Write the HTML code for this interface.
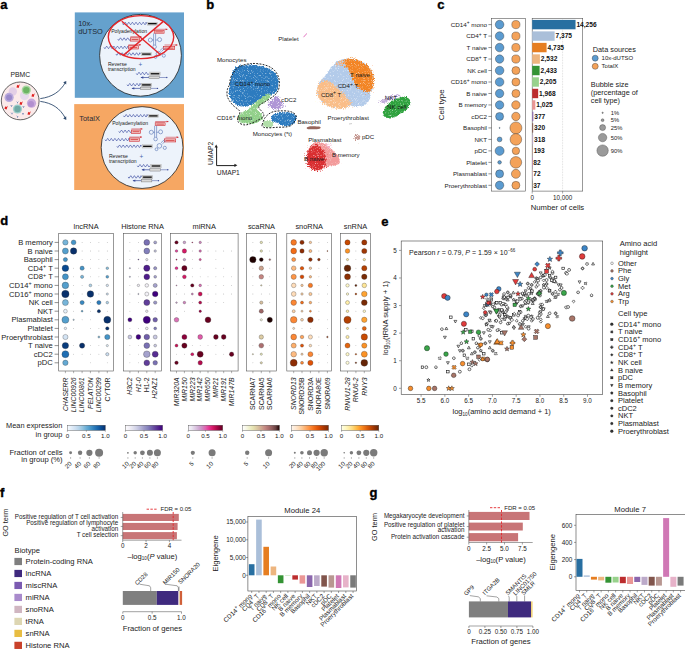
<!DOCTYPE html>
<html><head><meta charset="utf-8"><style>
html,body{margin:0;padding:0;background:#fff;}
svg{display:block;font-family:"Liberation Sans", sans-serif;}
</style></head><body>
<svg width="685" height="650" viewBox="0 0 685 650">
<defs>
<filter id="sp" x="-20%" y="-20%" width="140%" height="140%" color-interpolation-filters="sRGB">
  <feGaussianBlur in="SourceGraphic" stdDeviation="1.3" result="b"/>
  <feComponentTransfer in="b" result="solid"><feFuncA type="linear" slope="40" intercept="0"/></feComponentTransfer>
  <feTurbulence type="fractalNoise" baseFrequency="1.1" numOctaves="2" seed="4" result="n"/>
  <feColorMatrix in="n" type="matrix" values="0 0 0 0 0  0 0 0 0 0  0 0 0 0 0  1 0 0 0 0" result="na"/>
  <feComposite in="b" in2="na" operator="arithmetic" k1="0" k2="1" k3="-0.9" k4="0.35" result="c"/>
  <feComponentTransfer in="c" result="m"><feFuncA type="linear" slope="5" intercept="-0.6"/></feComponentTransfer>
  <feComposite in="solid" in2="m" operator="in" result="blob"/>
  <feTurbulence type="fractalNoise" baseFrequency="1.6" numOctaves="1" seed="11" result="n2"/>
  <feColorMatrix in="n2" type="matrix" values="0 0 0 0 1  0 0 0 0 1  0 0 0 0 1  2.6 0 0 0 -1.45" result="w"/>
  <feComposite in="w" in2="blob" operator="in" result="wi"/>
  <feMerge><feMergeNode in="blob"/><feMergeNode in="wi"/></feMerge>
</filter>
<filter id="spw" x="-20%" y="-20%" width="140%" height="140%" color-interpolation-filters="sRGB">
  <feGaussianBlur in="SourceGraphic" stdDeviation="2.4" result="b"/>
  <feComponentTransfer in="b" result="solid"><feFuncA type="linear" slope="40" intercept="0"/></feComponentTransfer>
  <feTurbulence type="fractalNoise" baseFrequency="1.1" numOctaves="2" seed="5" result="n"/>
  <feColorMatrix in="n" type="matrix" values="0 0 0 0 0  0 0 0 0 0  0 0 0 0 0  1 0 0 0 0" result="na"/>
  <feComposite in="b" in2="na" operator="arithmetic" k1="0" k2="1" k3="-0.9" k4="0.35" result="c"/>
  <feComponentTransfer in="c" result="m"><feFuncA type="linear" slope="5" intercept="-0.6"/></feComponentTransfer>
  <feComposite in="solid" in2="m" operator="in" result="blob"/>
  <feTurbulence type="fractalNoise" baseFrequency="1.6" numOctaves="1" seed="12" result="n2"/>
  <feColorMatrix in="n2" type="matrix" values="0 0 0 0 1  0 0 0 0 1  0 0 0 0 1  2.6 0 0 0 -1.45" result="w"/>
  <feComposite in="w" in2="blob" operator="in" result="wi"/>
  <feMerge><feMergeNode in="blob"/><feMergeNode in="wi"/></feMerge>
</filter>
<filter id="bl" x="-40%" y="-40%" width="180%" height="180%"><feGaussianBlur stdDeviation="0.35"/></filter>
<filter id="sp3" x="-40%" y="-40%" width="180%" height="180%" color-interpolation-filters="sRGB">
  <feGaussianBlur in="SourceGraphic" stdDeviation="1.4" result="b"/>
  <feComponentTransfer in="b" result="solid"><feFuncA type="linear" slope="40" intercept="0"/></feComponentTransfer>
  <feTurbulence type="fractalNoise" baseFrequency="1.4" numOctaves="2" seed="9" result="n"/>
  <feColorMatrix in="n" type="matrix" values="0 0 0 0 0  0 0 0 0 0  0 0 0 0 0  1 0 0 0 0" result="na"/>
  <feComposite in="b" in2="na" operator="arithmetic" k1="0" k2="1" k3="-2.0" k4="0.55" result="c"/>
  <feComponentTransfer in="c" result="m"><feFuncA type="linear" slope="3" intercept="-0.1"/></feComponentTransfer>
  <feComposite in="solid" in2="m" operator="in"/>
</filter>
<filter id="sp2" x="-40%" y="-40%" width="180%" height="180%" color-interpolation-filters="sRGB">
  <feGaussianBlur in="SourceGraphic" stdDeviation="1.0" result="b"/>
  <feComponentTransfer in="b" result="solid"><feFuncA type="linear" slope="40" intercept="0"/></feComponentTransfer>
  <feTurbulence type="fractalNoise" baseFrequency="1.3" numOctaves="2" seed="7" result="n"/>
  <feColorMatrix in="n" type="matrix" values="0 0 0 0 0  0 0 0 0 0  0 0 0 0 0  1 0 0 0 0" result="na"/>
  <feComposite in="b" in2="na" operator="arithmetic" k1="0" k2="1" k3="-1.1" k4="0.45" result="c"/>
  <feComponentTransfer in="c" result="m"><feFuncA type="linear" slope="4" intercept="-0.6"/></feComponentTransfer>
  <feComposite in="solid" in2="m" operator="in"/>
</filter>
</defs>
<rect width="685" height="650" fill="#fff"/>
<text x="0.30" y="9.20" font-size="13" text-anchor="start" fill="#000" font-weight="bold" stroke="#000" stroke-width="0.35">a</text>
<text x="20.30" y="76.70" font-size="6.8" text-anchor="middle" fill="#222">PBMC</text>
<circle cx="20.20" cy="100.90" r="18.90" fill="#fbeaea" stroke="#333" stroke-width="0.75"/>
<circle cx="12.80" cy="91.50" r="4.20" fill="#e3cfe6" stroke="none" stroke-width="0.4"/>
<circle cx="24.50" cy="95.60" r="4.60" fill="#e6d9ec" stroke="none" stroke-width="0.4"/>
<circle cx="9.10" cy="97.40" r="4.60" fill="#b9a9dc" stroke="none" stroke-width="0.4"/>
<circle cx="9.10" cy="97.40" r="3.00" fill="#9a8acb" stroke="none" stroke-width="0.4"/>
<circle cx="26.30" cy="90.10" r="4.60" fill="#a6d5a0" stroke="none" stroke-width="0.4"/>
<circle cx="26.30" cy="90.10" r="3.20" fill="#6cb463" stroke="none" stroke-width="0.4"/>
<circle cx="31.50" cy="103.20" r="4.60" fill="#c8a9dc" stroke="none" stroke-width="0.4"/>
<circle cx="31.00" cy="104.00" r="3.00" fill="#b28fcf" stroke="none" stroke-width="0.4"/>
<circle cx="17.50" cy="109.00" r="4.60" fill="#9fcfcb" stroke="none" stroke-width="0.4"/>
<circle cx="17.50" cy="109.00" r="3.20" fill="#6fa9a5" stroke="none" stroke-width="0.4"/>
<path d="M16.2,87.3 L19.8,84.3 L18.6,87.9 Z M17.4,84.8 L18.9,86.2 L16.6,86.4 Z" fill="#e0201f"/>
<path d="M31.2,96.3 L34.8,93.3 L33.6,96.9 Z M32.4,93.8 L33.9,95.2 L31.6,95.4 Z" fill="#e0201f"/>
<path d="M19.2,104.3 L22.8,101.3 L21.6,104.9 Z M20.4,101.8 L21.9,103.2 L19.6,103.4 Z" fill="#e0201f"/>
<path d="M4.2,108.8 L7.8,105.8 L6.6,109.4 Z M5.4,106.3 L6.9,107.7 L4.6,107.9 Z" fill="#e0201f"/>
<path d="M27.2,114.3 L30.8,111.3 L29.6,114.9 Z M28.4,111.8 L29.9,113.2 L27.6,113.4 Z" fill="#e0201f"/>
<path d="M10.7,105.2 L11.5,106 L12.3,105.2 M11.5,106 L11.5,106.8" stroke="#3f62a0" stroke-width="0.65" fill="none"/>
<path d="M22.7,106.2 L23.5,107 L24.3,106.2 M23.5,107 L23.5,107.8" stroke="#3f62a0" stroke-width="0.65" fill="none"/>
<path d="M11.2,112.7 L12,113.5 L12.8,112.7 M12,113.5 L12,114.3" stroke="#3f62a0" stroke-width="0.65" fill="none"/>
<path d="M22.2,113.2 L23,114 L23.8,113.2 M23,114 L23,114.8" stroke="#3f62a0" stroke-width="0.65" fill="none"/>
<path d="M16.7,116.0 L17.5,116.8 L18.3,116.0 M17.5,116.8 L17.5,117.6" stroke="#3f62a0" stroke-width="0.65" fill="none"/>
<path d="M16.7,101.7 L17.5,102.5 L18.3,101.7 M17.5,102.5 L17.5,103.3" stroke="#3f62a0" stroke-width="0.65" fill="none"/>
<path d="M40.3,98.6 C52,97 60,92 65.5,82.4" stroke="#2f4b6e" stroke-width="0.9" fill="none"/>
<path d="M40.3,101.4 C52,103 60,108 65.5,118.4" stroke="#2f4b6e" stroke-width="0.9" fill="none"/>
<path d="M63.2,82.2 L66.3,80.9 L66.2,84.6 Z" fill="#2f4b6e"/>
<path d="M63.2,118.6 L66.3,119.9 L66.2,116.2 Z" fill="#2f4b6e"/>
<rect x="74.80" y="12.40" width="109.20" height="85.40" fill="#65a1cd" stroke="none" stroke-width="0.6"/>
<rect x="74.20" y="104.10" width="109.80" height="85.90" fill="#f6a763" stroke="none" stroke-width="0.6"/>
<text x="78.20" y="25.50" font-size="7.4" text-anchor="start" fill="#1f2a36">10x-</text>
<text x="78.20" y="34.20" font-size="7.4" text-anchor="start" fill="#1f2a36">dUTSO</text>
<text x="79.30" y="120.60" font-size="7.4" text-anchor="start" fill="#1f2a36">TotalX</text>
<circle cx="140.50" cy="55.30" r="40.90" fill="#edf3fb" stroke="#222" stroke-width="0.8"/>
<g transform="translate(0.00,0.00)">
<path d="M122.50,23.50 Q123.40,26.06 124.30,23.50 Q125.20,20.94 126.10,23.50 Q127.00,26.06 127.90,23.50 Q128.80,20.94 129.70,23.50 Q130.60,26.06 131.50,23.50 Q132.40,20.94 133.30,23.50 Q134.20,26.06 135.10,23.50 Q136.00,20.94 136.90,23.50 Q137.80,26.06 138.70,23.50 Q139.60,20.94 140.50,23.50 Q141.40,26.06 142.30,23.50 Q143.20,20.94 144.10,23.50 Q145.00,26.06 145.90,23.50 Q146.10,20.94 146.30,23.50" stroke="#4a5aa8" stroke-width="0.75" fill="none"/>
<rect x="147.10" y="22.20" width="10.50" height="3.00" fill="#cfcfcf" stroke="#aaa" stroke-width="0.3"/>
<rect x="148.10" y="23.00" width="8.50" height="1.30" fill="#111" stroke="none" stroke-width="0.6"/>
<text x="111.20" y="32.60" font-size="5.1" text-anchor="start" fill="#222">Polyadenylation</text>
<rect x="154.20" y="30.50" width="9.90" height="2.70" fill="#f2c4c4" stroke="#d0282e" stroke-width="0.6"/>
<rect x="155.40" y="31.40" width="7.50" height="0.90" fill="#d84a4a" stroke="none" stroke-width="0.6"/>
<line x1="154.20" y1="29.30" x2="167.50" y2="29.30" stroke="#d0282e" stroke-width="0.55"/>
<path d="M167.50,29.30 L165.70,28.40 L165.70,30.20Z" fill="#d0282e"/>
<path d="M117.80,39.10 Q118.70,41.66 119.60,39.10 Q120.50,36.54 121.40,39.10 Q122.30,41.66 123.20,39.10 Q124.10,36.54 125.00,39.10 Q125.90,41.66 126.80,39.10 Q127.70,36.54 128.60,39.10 Q129.50,41.66 130.40,39.10" stroke="#4a5aa8" stroke-width="0.75" fill="none"/>
<rect x="130.40" y="37.80" width="9.20" height="3.30" fill="#f2c4c4" stroke="#d0282e" stroke-width="0.6"/>
<rect x="131.60" y="39.00" width="6.80" height="0.90" fill="#d84a4a" stroke="none" stroke-width="0.6"/>
<line x1="130.40" y1="36.70" x2="141.50" y2="36.70" stroke="#d0282e" stroke-width="0.55"/>
<path d="M141.50,36.70 L139.70,35.80 L139.70,37.60Z" fill="#d0282e"/>
<path d="M104.00,47.40 Q104.90,49.96 105.80,47.40 Q106.70,44.84 107.60,47.40 Q108.50,49.96 109.40,47.40 Q110.30,44.84 111.20,47.40 Q112.10,49.96 113.00,47.40 Q113.90,44.84 114.80,47.40 Q115.70,49.96 116.60,47.40 Q117.50,44.84 118.40,47.40 Q119.30,49.96 120.20,47.40 Q121.10,44.84 122.00,47.40 Q122.90,49.96 123.80,47.40 Q124.70,44.84 125.60,47.40 Q126.50,49.96 127.40,47.40 Q127.90,44.84 128.40,47.40" stroke="#4a5aa8" stroke-width="0.75" fill="none"/>
<rect x="128.40" y="45.70" width="9.90" height="3.30" fill="#f2c4c4" stroke="#d0282e" stroke-width="0.6"/>
<rect x="129.60" y="46.90" width="7.50" height="0.90" fill="#d84a4a" stroke="none" stroke-width="0.6"/>
<line x1="128.40" y1="44.80" x2="141.00" y2="44.80" stroke="#d0282e" stroke-width="0.55"/>
<path d="M141.00,44.80 L139.20,43.90 L139.20,45.70Z" fill="#d0282e"/>
<rect x="163.50" y="46.60" width="11.20" height="3.10" fill="#f2c4c4" stroke="#d0282e" stroke-width="0.6"/>
<rect x="164.70" y="47.70" width="8.80" height="0.90" fill="#d84a4a" stroke="none" stroke-width="0.6"/>
<line x1="164.50" y1="45.00" x2="177.50" y2="45.00" stroke="#d0282e" stroke-width="0.55"/>
<path d="M177.50,45.00 L175.70,44.10 L175.70,45.90Z" fill="#d0282e"/>
<path d="M115.90,54.00 Q116.80,56.56 117.70,54.00 Q118.60,51.44 119.50,54.00 Q120.40,56.56 121.30,54.00 Q122.20,51.44 123.10,54.00 Q124.00,56.56 124.90,54.00 Q125.80,51.44 126.70,54.00 Q127.60,56.56 128.50,54.00 Q129.40,51.44 130.30,54.00 Q131.20,56.56 132.10,54.00 Q133.00,51.44 133.90,54.00 Q134.80,56.56 135.70,54.00 Q136.60,51.44 137.50,54.00 Q138.40,56.56 139.30,54.00 Q139.80,51.44 140.30,54.00" stroke="#4a5aa8" stroke-width="0.75" fill="none"/>
<rect x="141.10" y="52.50" width="10.60" height="3.30" fill="#cfcfcf" stroke="#aaa" stroke-width="0.3"/>
<rect x="142.10" y="53.45" width="8.60" height="1.30" fill="#111" stroke="none" stroke-width="0.6"/>
<g stroke="#4766ad" stroke-width="0.55" fill="none"><path d="M153.6,33.5 L153.6,45 M155.6,33.5 L155.6,45 M153.6,40 L152,40 M155.6,40 L157.5,40"/><circle cx="150.3" cy="40" r="2.0"/><circle cx="159.6" cy="39.6" r="2.0"/><circle cx="154.6" cy="46.8" r="1.8"/><path d="M160,50.5 L163.5,47.3 M161.4,51.6 L164.8,48.4"/><circle cx="158.4" cy="53.6" r="2.3"/><circle cx="163.8" cy="55.6" r="1.6"/><circle cx="155.5" cy="57" r="1.4"/></g>
<text x="107.90" y="66.20" font-size="5.1" text-anchor="start" fill="#222">Reverse</text>
<text x="107.90" y="70.80" font-size="5.1" text-anchor="start" fill="#222">transcription</text>
<text x="140.30" y="66.80" font-size="6.5" text-anchor="middle" fill="#4766ad">+</text>
<path d="M136.30,73.50 Q137.20,76.06 138.10,73.50 Q139.00,70.94 139.90,73.50 Q140.80,76.06 141.70,73.50 Q142.60,70.94 143.50,73.50 Q144.40,76.06 145.30,73.50 Q146.20,70.94 147.10,73.50 Q148.00,76.06 148.90,73.50" stroke="#4a5aa8" stroke-width="0.75" fill="none"/>
<rect x="149.70" y="72.00" width="10.60" height="3.60" fill="#cfcfcf" stroke="#aaa" stroke-width="0.3"/>
<rect x="150.70" y="73.10" width="8.60" height="1.30" fill="#111" stroke="none" stroke-width="0.6"/>
<rect x="148.90" y="76.10" width="10.60" height="2.70" fill="#d9d9d9" stroke="#444" stroke-width="0.3"/>
<line x1="141.00" y1="77.50" x2="148.90" y2="77.50" stroke="#3b4c9b" stroke-width="0.7"/>
<line x1="159.50" y1="77.50" x2="166.80" y2="77.50" stroke="#3b4c9b" stroke-width="0.5"/>
<path d="M140.5,77.5 L143.3,76.3 L143.3,78.7 Z" fill="#3b4c9b"/>
<circle cx="166.80" cy="77.50" r="0.70" fill="#3b4c9b" stroke="none" stroke-width="0.4"/>
<path d="M127.10,84.70 Q128.00,87.26 128.90,84.70 Q129.80,82.14 130.70,84.70 Q131.60,87.26 132.50,84.70 Q133.40,82.14 134.30,84.70 Q135.20,87.26 136.10,84.70 Q137.00,82.14 137.90,84.70 Q138.80,87.26 139.70,84.70 Q140.00,82.14 140.30,84.70" stroke="#4a5aa8" stroke-width="0.75" fill="none"/>
<rect x="141.10" y="83.20" width="10.60" height="3.50" fill="#bbb" stroke="#aaa" stroke-width="0.3"/>
<rect x="142.10" y="84.25" width="8.60" height="1.30" fill="#111" stroke="none" stroke-width="0.6"/>
<rect x="140.30" y="87.10" width="10.60" height="2.60" fill="#d9d9d9" stroke="#444" stroke-width="0.3"/>
<line x1="132.00" y1="88.40" x2="140.30" y2="88.40" stroke="#3b4c9b" stroke-width="0.7"/>
<line x1="150.90" y1="88.40" x2="157.50" y2="88.40" stroke="#3b4c9b" stroke-width="0.5"/>
<path d="M131.5,88.4 L134.3,87.2 L134.3,89.6 Z" fill="#3b4c9b"/>
<circle cx="157.50" cy="88.40" r="0.70" fill="#3b4c9b" stroke="none" stroke-width="0.4"/>
</g>
<ellipse cx="141" cy="37.1" rx="32.7" ry="21.5" fill="none" stroke="#e3262b" stroke-width="1.4"/>
<line x1="121.80" y1="21.30" x2="160.80" y2="55.00" stroke="#e3262b" stroke-width="1.4"/>
<line x1="162.80" y1="21.90" x2="123.10" y2="55.60" stroke="#e3262b" stroke-width="1.4"/>
<circle cx="142.10" cy="147.55" r="40.90" fill="#edf3fb" stroke="#222" stroke-width="0.8"/>
<g transform="translate(1.00,92.25)">
<path d="M122.50,23.50 Q123.40,26.06 124.30,23.50 Q125.20,20.94 126.10,23.50 Q127.00,26.06 127.90,23.50 Q128.80,20.94 129.70,23.50 Q130.60,26.06 131.50,23.50 Q132.40,20.94 133.30,23.50 Q134.20,26.06 135.10,23.50 Q136.00,20.94 136.90,23.50 Q137.80,26.06 138.70,23.50 Q139.60,20.94 140.50,23.50 Q141.40,26.06 142.30,23.50 Q143.20,20.94 144.10,23.50 Q145.00,26.06 145.90,23.50 Q146.10,20.94 146.30,23.50" stroke="#4a5aa8" stroke-width="0.75" fill="none"/>
<rect x="147.10" y="22.20" width="10.50" height="3.00" fill="#cfcfcf" stroke="#aaa" stroke-width="0.3"/>
<rect x="148.10" y="23.00" width="8.50" height="1.30" fill="#111" stroke="none" stroke-width="0.6"/>
<text x="111.20" y="32.60" font-size="5.1" text-anchor="start" fill="#222">Polyadenylation</text>
<rect x="154.20" y="30.50" width="9.90" height="2.70" fill="#f2c4c4" stroke="#d0282e" stroke-width="0.6"/>
<rect x="155.40" y="31.40" width="7.50" height="0.90" fill="#d84a4a" stroke="none" stroke-width="0.6"/>
<line x1="154.20" y1="29.30" x2="167.50" y2="29.30" stroke="#d0282e" stroke-width="0.55"/>
<path d="M167.50,29.30 L165.70,28.40 L165.70,30.20Z" fill="#d0282e"/>
<path d="M117.80,39.10 Q118.70,41.66 119.60,39.10 Q120.50,36.54 121.40,39.10 Q122.30,41.66 123.20,39.10 Q124.10,36.54 125.00,39.10 Q125.90,41.66 126.80,39.10 Q127.70,36.54 128.60,39.10 Q129.50,41.66 130.40,39.10" stroke="#4a5aa8" stroke-width="0.75" fill="none"/>
<rect x="130.40" y="37.80" width="9.20" height="3.30" fill="#f2c4c4" stroke="#d0282e" stroke-width="0.6"/>
<rect x="131.60" y="39.00" width="6.80" height="0.90" fill="#d84a4a" stroke="none" stroke-width="0.6"/>
<line x1="130.40" y1="36.70" x2="141.50" y2="36.70" stroke="#d0282e" stroke-width="0.55"/>
<path d="M141.50,36.70 L139.70,35.80 L139.70,37.60Z" fill="#d0282e"/>
<path d="M104.00,47.40 Q104.90,49.96 105.80,47.40 Q106.70,44.84 107.60,47.40 Q108.50,49.96 109.40,47.40 Q110.30,44.84 111.20,47.40 Q112.10,49.96 113.00,47.40 Q113.90,44.84 114.80,47.40 Q115.70,49.96 116.60,47.40 Q117.50,44.84 118.40,47.40 Q119.30,49.96 120.20,47.40 Q121.10,44.84 122.00,47.40 Q122.90,49.96 123.80,47.40 Q124.70,44.84 125.60,47.40 Q126.50,49.96 127.40,47.40 Q127.90,44.84 128.40,47.40" stroke="#4a5aa8" stroke-width="0.75" fill="none"/>
<rect x="128.40" y="45.70" width="9.90" height="3.30" fill="#f2c4c4" stroke="#d0282e" stroke-width="0.6"/>
<rect x="129.60" y="46.90" width="7.50" height="0.90" fill="#d84a4a" stroke="none" stroke-width="0.6"/>
<line x1="128.40" y1="44.80" x2="141.00" y2="44.80" stroke="#d0282e" stroke-width="0.55"/>
<path d="M141.00,44.80 L139.20,43.90 L139.20,45.70Z" fill="#d0282e"/>
<rect x="163.50" y="46.60" width="11.20" height="3.10" fill="#f2c4c4" stroke="#d0282e" stroke-width="0.6"/>
<rect x="164.70" y="47.70" width="8.80" height="0.90" fill="#d84a4a" stroke="none" stroke-width="0.6"/>
<line x1="164.50" y1="45.00" x2="177.50" y2="45.00" stroke="#d0282e" stroke-width="0.55"/>
<path d="M177.50,45.00 L175.70,44.10 L175.70,45.90Z" fill="#d0282e"/>
<path d="M115.90,54.00 Q116.80,56.56 117.70,54.00 Q118.60,51.44 119.50,54.00 Q120.40,56.56 121.30,54.00 Q122.20,51.44 123.10,54.00 Q124.00,56.56 124.90,54.00 Q125.80,51.44 126.70,54.00 Q127.60,56.56 128.50,54.00 Q129.40,51.44 130.30,54.00 Q131.20,56.56 132.10,54.00 Q133.00,51.44 133.90,54.00 Q134.80,56.56 135.70,54.00 Q136.60,51.44 137.50,54.00 Q138.40,56.56 139.30,54.00 Q139.80,51.44 140.30,54.00" stroke="#4a5aa8" stroke-width="0.75" fill="none"/>
<rect x="141.10" y="52.50" width="10.60" height="3.30" fill="#cfcfcf" stroke="#aaa" stroke-width="0.3"/>
<rect x="142.10" y="53.45" width="8.60" height="1.30" fill="#111" stroke="none" stroke-width="0.6"/>
<g stroke="#4766ad" stroke-width="0.55" fill="none"><path d="M153.6,33.5 L153.6,45 M155.6,33.5 L155.6,45 M153.6,40 L152,40 M155.6,40 L157.5,40"/><circle cx="150.3" cy="40" r="2.0"/><circle cx="159.6" cy="39.6" r="2.0"/><circle cx="154.6" cy="46.8" r="1.8"/><path d="M160,50.5 L163.5,47.3 M161.4,51.6 L164.8,48.4"/><circle cx="158.4" cy="53.6" r="2.3"/><circle cx="163.8" cy="55.6" r="1.6"/><circle cx="155.5" cy="57" r="1.4"/></g>
<text x="107.90" y="66.20" font-size="5.1" text-anchor="start" fill="#222">Reverse</text>
<text x="107.90" y="70.80" font-size="5.1" text-anchor="start" fill="#222">transcription</text>
<text x="140.30" y="66.80" font-size="6.5" text-anchor="middle" fill="#4766ad">+</text>
<path d="M136.30,73.50 Q137.20,76.06 138.10,73.50 Q139.00,70.94 139.90,73.50 Q140.80,76.06 141.70,73.50 Q142.60,70.94 143.50,73.50 Q144.40,76.06 145.30,73.50 Q146.20,70.94 147.10,73.50 Q148.00,76.06 148.90,73.50" stroke="#4a5aa8" stroke-width="0.75" fill="none"/>
<rect x="149.70" y="72.00" width="10.60" height="3.60" fill="#cfcfcf" stroke="#aaa" stroke-width="0.3"/>
<rect x="150.70" y="73.10" width="8.60" height="1.30" fill="#111" stroke="none" stroke-width="0.6"/>
<rect x="148.90" y="76.10" width="10.60" height="2.70" fill="#d9d9d9" stroke="#444" stroke-width="0.3"/>
<line x1="141.00" y1="77.50" x2="148.90" y2="77.50" stroke="#3b4c9b" stroke-width="0.7"/>
<line x1="159.50" y1="77.50" x2="166.80" y2="77.50" stroke="#3b4c9b" stroke-width="0.5"/>
<path d="M140.5,77.5 L143.3,76.3 L143.3,78.7 Z" fill="#3b4c9b"/>
<circle cx="166.80" cy="77.50" r="0.70" fill="#3b4c9b" stroke="none" stroke-width="0.4"/>
<path d="M127.10,84.70 Q128.00,87.26 128.90,84.70 Q129.80,82.14 130.70,84.70 Q131.60,87.26 132.50,84.70 Q133.40,82.14 134.30,84.70 Q135.20,87.26 136.10,84.70 Q137.00,82.14 137.90,84.70 Q138.80,87.26 139.70,84.70 Q140.00,82.14 140.30,84.70" stroke="#4a5aa8" stroke-width="0.75" fill="none"/>
<rect x="141.10" y="83.20" width="10.60" height="3.50" fill="#bbb" stroke="#aaa" stroke-width="0.3"/>
<rect x="142.10" y="84.25" width="8.60" height="1.30" fill="#111" stroke="none" stroke-width="0.6"/>
<rect x="140.30" y="87.10" width="10.60" height="2.60" fill="#d9d9d9" stroke="#444" stroke-width="0.3"/>
<line x1="132.00" y1="88.40" x2="140.30" y2="88.40" stroke="#3b4c9b" stroke-width="0.7"/>
<line x1="150.90" y1="88.40" x2="157.50" y2="88.40" stroke="#3b4c9b" stroke-width="0.5"/>
<path d="M131.5,88.4 L134.3,87.2 L134.3,89.6 Z" fill="#3b4c9b"/>
<circle cx="157.50" cy="88.40" r="0.70" fill="#3b4c9b" stroke="none" stroke-width="0.4"/>
</g>
<text x="206.20" y="9.00" font-size="13" text-anchor="start" fill="#000" font-weight="bold" stroke="#000" stroke-width="0.35">b</text>
<path d="M235.20,68.50 C237.80,66.15 242.48,65.80 246.90,65.50 C251.32,65.20 257.18,65.58 261.70,66.70 C266.22,67.82 271.33,70.05 274.00,72.20 C276.67,74.35 277.18,76.72 277.70,79.60 C278.22,82.48 277.97,87.10 277.10,89.50 C276.23,91.90 274.67,92.62 272.50,94.00 C270.33,95.38 266.57,96.63 264.10,97.80 C261.63,98.97 259.83,99.87 257.70,101.00 C255.57,102.13 253.45,103.77 251.30,104.60 C249.15,105.43 247.27,106.02 244.80,106.00 C242.33,105.98 238.83,105.82 236.50,104.50 C234.17,103.18 231.92,100.60 230.80,98.10 C229.68,95.60 229.72,92.58 229.80,89.50 C229.88,86.42 230.40,83.10 231.30,79.60 C232.20,76.10 232.60,70.85 235.20,68.50Z" fill="#2d7bbf" opacity="1.0" filter="url(#sp)"/>
<path d="M268.90,94.60 C269.75,94.70 271.52,95.12 270.50,96.50 C269.48,97.88 265.05,101.08 262.80,102.90 C260.55,104.72 258.17,106.22 257.00,107.40 C255.83,108.58 255.25,109.03 255.80,110.00 C256.35,110.97 259.18,112.03 260.30,113.20 C261.42,114.37 262.72,115.72 262.50,117.00 C262.28,118.28 260.87,119.88 259.00,120.90 C257.13,121.92 254.08,122.83 251.30,123.10 C248.52,123.37 244.45,123.18 242.30,122.50 C240.15,121.82 238.83,120.33 238.40,119.00 C237.97,117.67 238.42,115.78 239.70,114.50 C240.98,113.22 244.28,112.37 246.10,111.30 C247.92,110.23 249.32,109.28 250.60,108.10 C251.88,106.92 252.30,105.60 253.80,104.20 C255.30,102.80 257.67,101.08 259.60,99.70 C261.53,98.32 263.85,96.75 265.40,95.90 C266.95,95.05 268.05,94.50 268.90,94.60Z" fill="#92d08a" opacity="1.0" filter="url(#sp)"/>
<path d="M275.40,95.60 C277.15,94.87 278.37,96.18 279.80,97.80 C281.23,99.42 283.72,103.47 284.00,105.30 C284.28,107.13 283.27,108.15 281.50,108.80 C279.73,109.45 275.77,109.62 273.40,109.20 C271.03,108.78 267.98,107.47 267.30,106.30 C266.62,105.13 267.95,103.98 269.30,102.20 C270.65,100.42 273.65,96.33 275.40,95.60Z" fill="#9c7dcc" opacity="0.8" filter="url(#sp3)"/>
<path d="M272.40,115.50 C273.50,114.32 275.78,113.42 278.50,113.00 C281.22,112.58 285.88,112.58 288.70,113.00 C291.52,113.42 294.20,114.40 295.40,115.50 C296.60,116.60 296.33,118.23 295.90,119.60 C295.47,120.97 294.33,122.68 292.80,123.70 C291.27,124.72 289.25,125.87 286.70,125.70 C284.15,125.53 279.97,123.63 277.50,122.70 C275.03,121.77 272.75,121.30 271.90,120.10 C271.05,118.90 271.30,116.68 272.40,115.50Z" fill="#2d7bbf" opacity="1.0" filter="url(#sp)"/>
<path d="M264.00,121.50 C264.70,120.67 266.58,120.63 268.00,120.80 C269.42,120.97 271.75,121.63 272.50,122.50 C273.25,123.37 273.25,125.20 272.50,126.00 C271.75,126.80 269.45,127.33 268.00,127.30 C266.55,127.27 264.47,126.77 263.80,125.80 C263.13,124.83 263.30,122.33 264.00,121.50Z" fill="#a9dba0" opacity="0.9" filter="url(#sp2)"/>
<path d="M232.00,75.30 C233.35,73.25 235.20,69.25 238.30,67.30 C241.40,65.35 246.28,64.02 250.60,63.60 C254.92,63.18 260.30,63.77 264.20,64.80 C268.10,65.83 271.55,67.53 274.00,69.80 C276.45,72.07 278.08,75.33 278.90,78.40 C279.72,81.47 279.30,85.73 278.90,88.20 C278.50,90.67 277.47,91.82 276.50,93.20 C275.53,94.58 274.95,95.10 273.10,96.50 C271.25,97.90 267.65,100.22 265.40,101.60 C263.15,102.98 260.67,103.72 259.60,104.80 C258.53,105.88 258.47,106.80 259.00,108.10 C259.53,109.40 262.05,111.22 262.80,112.60 C263.55,113.98 264.35,115.12 263.50,116.40 C262.65,117.68 260.07,119.02 257.70,120.30 C255.33,121.58 251.65,123.35 249.30,124.10 C246.95,124.85 245.42,125.12 243.60,124.80 C241.78,124.48 239.37,123.38 238.40,122.20 C237.43,121.02 237.58,119.52 237.80,117.70 C238.02,115.88 240.58,113.45 239.70,111.30 C238.82,109.15 234.55,107.22 232.50,104.80 C230.45,102.38 228.25,99.35 227.40,96.80 C226.55,94.25 227.03,91.55 227.40,89.50 C227.77,87.45 229.13,86.15 229.60,84.50 C230.07,82.85 229.80,81.13 230.20,79.60 C230.60,78.07 230.65,77.35 232.00,75.30Z" fill="none" stroke="#1a1a1a" stroke-width="0.95" stroke-dasharray="1.9,1.3"/>
<path d="M262.20,124.70 C262.62,123.17 263.67,119.55 265.20,117.50 C266.73,115.45 269.02,113.50 271.40,112.40 C273.78,111.30 276.45,111.07 279.50,110.90 C282.55,110.73 287.05,110.80 289.70,111.40 C292.35,112.00 294.37,113.30 295.40,114.50 C296.43,115.70 296.33,117.07 295.90,118.60 C295.47,120.13 294.17,122.35 292.80,123.70 C291.43,125.05 290.25,126.10 287.70,126.70 C285.15,127.30 280.90,127.12 277.50,127.30 C274.10,127.48 269.77,127.90 267.30,127.80 C264.83,127.70 263.55,127.22 262.70,126.70 C261.85,126.18 261.78,126.23 262.20,124.70Z" fill="none" stroke="#1a1a1a" stroke-width="0.95" stroke-dasharray="1.9,1.3"/>
<path d="M338.60,61.20 C340.82,60.43 344.57,59.60 347.80,59.60 C351.03,59.60 354.93,60.27 358.00,61.20 C361.07,62.13 363.98,63.33 366.20,65.20 C368.42,67.07 370.20,70.02 371.30,72.40 C372.40,74.78 372.72,76.78 372.80,79.50 C372.88,82.22 372.32,86.48 371.80,88.70 C371.28,90.92 370.13,91.08 369.70,92.80 C369.27,94.52 369.97,97.12 369.20,99.00 C368.43,100.88 367.13,102.92 365.10,104.10 C363.07,105.28 359.72,105.93 357.00,106.10 C354.28,106.27 351.18,104.85 348.80,105.10 C346.42,105.35 345.08,107.27 342.70,107.60 C340.32,107.93 337.40,107.87 334.50,107.10 C331.60,106.33 327.85,104.70 325.30,103.00 C322.75,101.30 320.40,98.93 319.20,96.90 C318.00,94.87 317.85,93.35 318.10,90.80 C318.35,88.25 319.33,84.15 320.70,81.60 C322.07,79.05 324.68,77.55 326.30,75.50 C327.92,73.45 329.03,71.18 330.40,69.30 C331.77,67.42 333.13,65.55 334.50,64.20 C335.87,62.85 336.38,61.97 338.60,61.20Z" fill="#b3cbea" opacity="1.0" filter="url(#sp)"/>
<path d="M318.10,90.80 C318.35,88.58 319.50,85.13 320.70,83.60 C321.90,82.07 323.35,81.42 325.30,81.60 C327.25,81.78 330.18,83.17 332.40,84.70 C334.62,86.23 336.55,88.77 338.60,90.80 C340.65,92.83 342.83,95.03 344.70,96.90 C346.57,98.77 348.95,100.63 349.80,102.00 C350.65,103.37 350.98,104.17 349.80,105.10 C348.62,106.03 345.25,107.27 342.70,107.60 C340.15,107.93 337.40,107.87 334.50,107.10 C331.60,106.33 327.85,104.70 325.30,103.00 C322.75,101.30 320.40,98.93 319.20,96.90 C318.00,94.87 317.85,93.02 318.10,90.80Z" fill="#fdbd83" opacity="0.95" filter="url(#spw)"/>
<path d="M345.70,60.10 C347.90,59.67 352.67,59.75 355.90,60.60 C359.13,61.45 362.62,63.23 365.10,65.20 C367.58,67.17 369.52,69.83 370.80,72.40 C372.08,74.97 372.63,78.05 372.80,80.60 C372.97,83.15 372.40,86.00 371.80,87.70 C371.20,89.40 370.65,90.45 369.20,90.80 C367.75,91.15 364.97,90.65 363.10,89.80 C361.23,88.95 359.53,87.42 358.00,85.70 C356.47,83.98 354.92,81.72 353.90,79.50 C352.88,77.28 352.92,74.60 351.90,72.40 C350.88,70.20 349.33,67.83 347.80,66.30 C346.27,64.77 343.05,64.23 342.70,63.20 C342.35,62.17 343.50,60.53 345.70,60.10Z" fill="#f28424" opacity="1.0" filter="url(#spw)"/>
<path d="M336.00,62.50 C337.25,61.53 340.33,60.45 342.00,60.20 C343.67,59.95 345.67,60.37 346.00,61.00 C346.33,61.63 345.17,63.08 344.00,64.00 C342.83,64.92 340.58,66.17 339.00,66.50 C337.42,66.83 335.00,66.67 334.50,66.00 C334.00,65.33 334.75,63.47 336.00,62.50Z" fill="#f9b27a" opacity="0.8" filter="url(#sp3)"/>
<path d="M379.70,100.20 C380.88,99.13 385.63,97.97 388.10,97.00 C390.57,96.03 392.37,94.88 394.50,94.40 C396.63,93.92 399.93,93.77 400.90,94.10 C401.87,94.43 401.37,95.60 400.30,96.40 C399.23,97.20 396.53,97.95 394.50,98.90 C392.47,99.85 390.35,101.35 388.10,102.10 C385.85,102.85 382.40,103.72 381.00,103.40 C379.60,103.08 378.52,101.27 379.70,100.20Z" fill="#bba6d8" opacity="0.9" filter="url(#sp3)"/>
<path d="M383.60,113.70 C383.38,112.22 383.73,110.42 384.80,108.60 C385.87,106.78 388.07,104.30 390.00,102.80 C391.93,101.30 394.27,100.52 396.40,99.60 C398.53,98.68 400.87,97.52 402.80,97.30 C404.73,97.08 406.82,97.50 408.00,98.30 C409.18,99.10 409.80,100.72 409.90,102.10 C410.00,103.48 409.57,105.10 408.60,106.60 C407.63,108.10 405.92,109.70 404.10,111.10 C402.28,112.50 399.83,113.93 397.70,115.00 C395.57,116.07 393.23,117.08 391.30,117.50 C389.37,117.92 387.38,118.13 386.10,117.50 C384.82,116.87 383.82,115.18 383.60,113.70Z" fill="#2fa23e" opacity="1.0" filter="url(#sp)"/>
<path d="M307.10,127.20 C307.85,126.75 309.87,126.27 312.00,126.20 C314.13,126.13 318.63,126.37 319.90,126.80 C321.17,127.23 320.75,128.38 319.60,128.80 C318.45,129.22 315.02,129.28 313.00,129.30 C310.98,129.32 308.48,129.25 307.50,128.90 C306.52,128.55 306.35,127.65 307.10,127.20Z" fill="#8c564b" opacity="0.9" filter="url(#bl)"/>
<path d="M355.00,134.50 C355.82,133.80 357.50,133.47 358.50,133.80 C359.50,134.13 360.75,135.43 361.00,136.50 C361.25,137.57 360.83,139.48 360.00,140.20 C359.17,140.92 357.07,141.17 356.00,140.80 C354.93,140.43 353.77,139.05 353.60,138.00 C353.43,136.95 354.18,135.20 355.00,134.50Z" fill="#c09088" opacity="0.95" filter="url(#sp3)"/>
<line x1="349.00" y1="124.00" x2="352.00" y2="123.60" stroke="#999" stroke-width="0.5"/>
<path d="M303.6,37.2 Q305,35 307,33.5" stroke="#e377c2" stroke-width="1.0" fill="none"/>
<path d="M313.10,143.80 C314.73,142.87 317.72,142.68 319.70,142.80 C321.68,142.92 323.25,143.57 325.00,144.50 C326.75,145.43 328.45,146.87 330.20,148.40 C331.95,149.93 334.07,152.05 335.50,153.70 C336.93,155.35 338.25,156.67 338.80,158.30 C339.35,159.93 339.47,162.40 338.80,163.50 C338.13,164.60 336.67,164.45 334.80,164.90 C332.93,165.35 329.78,165.55 327.60,166.20 C325.42,166.85 323.57,168.20 321.70,168.80 C319.83,169.40 318.15,170.02 316.40,169.80 C314.65,169.58 312.62,168.98 311.20,167.50 C309.78,166.02 308.45,163.20 307.90,160.90 C307.35,158.60 307.57,155.78 307.90,153.70 C308.23,151.62 309.03,150.05 309.90,148.40 C310.77,146.75 311.47,144.73 313.10,143.80Z" fill="#f39b9b" opacity="1.0" filter="url(#sp)"/>
<path d="M311.80,147.10 C313.55,145.80 316.65,145.73 318.40,146.50 C320.15,147.27 321.20,149.73 322.30,151.70 C323.40,153.67 324.67,156.10 325.00,158.30 C325.33,160.50 325.18,163.15 324.30,164.90 C323.42,166.65 321.33,168.03 319.70,168.80 C318.07,169.57 316.13,169.93 314.50,169.50 C312.87,169.07 311.00,167.63 309.90,166.20 C308.80,164.77 308.23,162.88 307.90,160.90 C307.57,158.92 307.25,156.60 307.90,154.30 C308.55,152.00 310.05,148.40 311.80,147.10Z" fill="#d92f31" opacity="1.0" filter="url(#spw)"/>
<path d="M325.00,143.50 C325.33,142.88 327.68,143.30 329.00,143.80 C330.32,144.30 332.57,145.78 332.90,146.50 C333.23,147.22 331.98,147.93 331.00,148.10 C330.02,148.27 328.00,148.27 327.00,147.50 C326.00,146.73 324.67,144.12 325.00,143.50Z" fill="#f4b0cf" opacity="0.9" filter="url(#sp3)"/>
<text x="278.30" y="41.00" font-size="6.1" text-anchor="start" fill="#222">Platelet</text>
<text x="217.00" y="61.70" font-size="6.1" text-anchor="start" fill="#222">Monocytes</text>
<text x="234.80" y="86.40" font-size="6.1" text-anchor="start" fill="#1a1a1a">CD14<tspan font-size="5.0" dy="-2.6">+</tspan><tspan dy="2.6"> mono</tspan></text>
<text x="281.10" y="101.70" font-size="6.1" text-anchor="start" fill="#222">cDC2</text>
<text x="216.80" y="120.20" font-size="6.1" text-anchor="start" fill="#222">CD16<tspan font-size="5.0" dy="-2.6">+</tspan><tspan dy="2.6"> mono</tspan></text>
<text x="252.80" y="135.60" font-size="6.1" text-anchor="start" fill="#222">Monocytes (*t)</text>
<text x="350.10" y="76.60" font-size="6.1" text-anchor="start" fill="#1a1a1a">T naive</text>
<text x="337.70" y="88.30" font-size="6.1" text-anchor="start" fill="#1a1a1a">CD4<tspan font-size="5.0" dy="-2.6">+</tspan><tspan dy="2.6"> T</tspan></text>
<text x="320.90" y="96.70" font-size="6.1" text-anchor="start" fill="#1a1a1a">CD8<tspan font-size="5.0" dy="-2.6">+</tspan><tspan dy="2.6"> T</tspan></text>
<text x="384.80" y="100.20" font-size="6.1" text-anchor="start" fill="#1a1a1a">NKT</text>
<text x="387.10" y="109.20" font-size="6.1" text-anchor="start" fill="#111">NK cell</text>
<text x="297.40" y="124.20" font-size="6.1" text-anchor="start" fill="#222">Basophil</text>
<text x="327.60" y="120.20" font-size="6.1" text-anchor="start" fill="#222">Proerythroblast</text>
<text x="308.20" y="141.70" font-size="6.1" text-anchor="start" fill="#222">Plasmablast</text>
<text x="361.90" y="138.70" font-size="6.1" text-anchor="start" fill="#222">pDC</text>
<text x="331.90" y="156.60" font-size="6.1" text-anchor="start" fill="#222">B memory</text>
<text x="303.90" y="160.80" font-size="6.1" text-anchor="start" fill="#1a1a1a">B naive</text>
<path d="M216.6,165.6 L216.6,146.5 M216.6,165.6 L235.5,165.6" stroke="#111" stroke-width="0.95" fill="none"/>
<path d="M214.6,147.6 L216.2,144.6 L217.8,147.6 Z M234.4,163.7 L237.4,165.3 L234.4,166.9 Z" fill="#222"/>
<text x="216.80" y="174.80" font-size="6.7" text-anchor="start" fill="#222">UMAP1</text>
<text x="212.90" y="153.40" font-size="6.7" text-anchor="middle" fill="#222" transform="rotate(-90 212.90 153.40)">UMAP2</text>
<text x="437.20" y="9.20" font-size="13" text-anchor="start" fill="#000" font-weight="bold" stroke="#000" stroke-width="0.35">c</text>
<rect x="491.50" y="18.30" width="34.00" height="172.80" fill="none" stroke="#555" stroke-width="0.6"/>
<rect x="532.20" y="18.30" width="50.50" height="172.80" fill="none" stroke="#555" stroke-width="0.6"/>
<line x1="562.60" y1="18.60" x2="562.60" y2="190.80" stroke="#aaa" stroke-width="0.4" stroke-dasharray="0.8,0.8"/>
<text x="487.00" y="26.80" font-size="6.25" text-anchor="end" fill="#222">CD14<tspan font-size="4.8" dy="-2.4">+</tspan><tspan dy="2.4"> mono</tspan></text>
<line x1="488.40" y1="24.60" x2="491.50" y2="24.60" stroke="#333" stroke-width="0.55"/>
<circle cx="499.60" cy="24.60" r="4.30" fill="#5b9bd0" stroke="#333" stroke-width="0.4"/>
<circle cx="515.90" cy="24.60" r="4.10" fill="#f4a259" stroke="#333" stroke-width="0.4"/>
<rect x="532.20" y="19.90" width="43.34" height="9.40" fill="#286fa1" stroke="none" stroke-width="0.6"/>
<text x="576.44" y="26.90" font-size="6.6" text-anchor="start" fill="#111" font-weight="bold">14,256</text>
<text x="487.00" y="38.28" font-size="6.25" text-anchor="end" fill="#222">CD4<tspan font-size="4.8" dy="-2.4">+</tspan><tspan dy="2.4"> T</tspan></text>
<line x1="488.40" y1="36.08" x2="491.50" y2="36.08" stroke="#333" stroke-width="0.55"/>
<circle cx="499.60" cy="36.08" r="4.30" fill="#5b9bd0" stroke="#333" stroke-width="0.4"/>
<circle cx="515.90" cy="36.08" r="4.10" fill="#f4a259" stroke="#333" stroke-width="0.4"/>
<rect x="532.20" y="31.38" width="22.42" height="9.40" fill="#aabfd9" stroke="none" stroke-width="0.6"/>
<text x="555.52" y="38.38" font-size="6.6" text-anchor="start" fill="#111" font-weight="bold">7,375</text>
<text x="487.00" y="49.76" font-size="6.25" text-anchor="end" fill="#222">T naive</text>
<line x1="488.40" y1="47.56" x2="491.50" y2="47.56" stroke="#333" stroke-width="0.55"/>
<circle cx="499.60" cy="47.56" r="4.30" fill="#5b9bd0" stroke="#333" stroke-width="0.4"/>
<circle cx="515.90" cy="47.56" r="4.10" fill="#f4a259" stroke="#333" stroke-width="0.4"/>
<rect x="532.20" y="42.86" width="14.39" height="9.40" fill="#e67e21" stroke="none" stroke-width="0.6"/>
<text x="547.49" y="49.86" font-size="6.6" text-anchor="start" fill="#111" font-weight="bold">4,735</text>
<text x="487.00" y="61.24" font-size="6.25" text-anchor="end" fill="#222">CD8<tspan font-size="4.8" dy="-2.4">+</tspan><tspan dy="2.4"> T</tspan></text>
<line x1="488.40" y1="59.04" x2="491.50" y2="59.04" stroke="#333" stroke-width="0.55"/>
<circle cx="499.60" cy="59.04" r="4.20" fill="#5b9bd0" stroke="#333" stroke-width="0.4"/>
<circle cx="515.90" cy="59.04" r="4.10" fill="#f4a259" stroke="#333" stroke-width="0.4"/>
<rect x="532.20" y="54.34" width="7.70" height="9.40" fill="#edb57f" stroke="none" stroke-width="0.6"/>
<text x="540.80" y="61.34" font-size="6.6" text-anchor="start" fill="#111" font-weight="bold">2,532</text>
<text x="487.00" y="72.72" font-size="6.25" text-anchor="end" fill="#222">NK cell</text>
<line x1="488.40" y1="70.52" x2="491.50" y2="70.52" stroke="#333" stroke-width="0.55"/>
<circle cx="499.60" cy="70.52" r="4.30" fill="#5b9bd0" stroke="#333" stroke-width="0.4"/>
<circle cx="515.90" cy="70.52" r="4.00" fill="#f4a259" stroke="#333" stroke-width="0.4"/>
<rect x="532.20" y="65.82" width="7.40" height="9.40" fill="#349334" stroke="none" stroke-width="0.6"/>
<text x="540.50" y="72.82" font-size="6.6" text-anchor="start" fill="#111" font-weight="bold">2,433</text>
<text x="487.00" y="84.20" font-size="6.25" text-anchor="end" fill="#222">CD16<tspan font-size="4.8" dy="-2.4">+</tspan><tspan dy="2.4"> mono</tspan></text>
<line x1="488.40" y1="82.00" x2="491.50" y2="82.00" stroke="#333" stroke-width="0.55"/>
<circle cx="499.60" cy="82.00" r="4.30" fill="#5b9bd0" stroke="#333" stroke-width="0.4"/>
<circle cx="515.90" cy="82.00" r="4.00" fill="#f4a259" stroke="#333" stroke-width="0.4"/>
<rect x="532.20" y="77.30" width="6.70" height="9.40" fill="#98d28c" stroke="none" stroke-width="0.6"/>
<text x="539.80" y="84.30" font-size="6.6" text-anchor="start" fill="#111" font-weight="bold">2,205</text>
<text x="487.00" y="95.68" font-size="6.25" text-anchor="end" fill="#222">B naive</text>
<line x1="488.40" y1="93.48" x2="491.50" y2="93.48" stroke="#333" stroke-width="0.55"/>
<circle cx="499.60" cy="93.48" r="4.20" fill="#5b9bd0" stroke="#333" stroke-width="0.4"/>
<circle cx="515.90" cy="93.48" r="4.00" fill="#f4a259" stroke="#333" stroke-width="0.4"/>
<rect x="532.20" y="88.78" width="5.98" height="9.40" fill="#bc2d2e" stroke="none" stroke-width="0.6"/>
<text x="539.08" y="95.78" font-size="6.6" text-anchor="start" fill="#111" font-weight="bold">1,968</text>
<text x="487.00" y="107.16" font-size="6.25" text-anchor="end" fill="#222">B memory</text>
<line x1="488.40" y1="104.96" x2="491.50" y2="104.96" stroke="#333" stroke-width="0.55"/>
<circle cx="499.60" cy="104.96" r="4.20" fill="#5b9bd0" stroke="#333" stroke-width="0.4"/>
<circle cx="515.90" cy="104.96" r="4.20" fill="#f4a259" stroke="#333" stroke-width="0.4"/>
<rect x="532.20" y="100.26" width="3.12" height="9.40" fill="#ea9695" stroke="none" stroke-width="0.6"/>
<text x="536.22" y="107.26" font-size="6.6" text-anchor="start" fill="#111" font-weight="bold">1,025</text>
<text x="487.00" y="118.64" font-size="6.25" text-anchor="end" fill="#222">cDC2</text>
<line x1="488.40" y1="116.44" x2="491.50" y2="116.44" stroke="#333" stroke-width="0.55"/>
<circle cx="499.60" cy="116.44" r="4.00" fill="#5b9bd0" stroke="#333" stroke-width="0.4"/>
<circle cx="515.90" cy="116.44" r="4.20" fill="#f4a259" stroke="#333" stroke-width="0.4"/>
<rect x="532.20" y="111.74" width="1.15" height="9.40" fill="#8b66ac" stroke="none" stroke-width="0.6"/>
<text x="534.25" y="118.74" font-size="6.6" text-anchor="start" fill="#111" font-weight="bold">377</text>
<text x="487.00" y="130.12" font-size="6.25" text-anchor="end" fill="#222">Basophil</text>
<line x1="488.40" y1="127.92" x2="491.50" y2="127.92" stroke="#333" stroke-width="0.55"/>
<circle cx="499.60" cy="127.92" r="0.50" fill="#5b9bd0" stroke="#333" stroke-width="0.4"/>
<circle cx="515.90" cy="127.92" r="6.00" fill="#f4a259" stroke="#333" stroke-width="0.4"/>
<rect x="532.20" y="123.22" width="0.97" height="9.40" fill="#81554c" stroke="none" stroke-width="0.6"/>
<text x="534.07" y="130.22" font-size="6.6" text-anchor="start" fill="#111" font-weight="bold">320</text>
<text x="487.00" y="141.60" font-size="6.25" text-anchor="end" fill="#222">NKT</text>
<line x1="488.40" y1="139.40" x2="491.50" y2="139.40" stroke="#333" stroke-width="0.55"/>
<circle cx="499.60" cy="139.40" r="2.40" fill="#5b9bd0" stroke="#333" stroke-width="0.4"/>
<circle cx="515.90" cy="139.40" r="5.80" fill="#f4a259" stroke="#333" stroke-width="0.4"/>
<rect x="532.20" y="134.70" width="0.97" height="9.40" fill="#bcaac9" stroke="none" stroke-width="0.6"/>
<text x="534.07" y="141.70" font-size="6.6" text-anchor="start" fill="#111" font-weight="bold">318</text>
<text x="487.00" y="153.08" font-size="6.25" text-anchor="end" fill="#222">pDC</text>
<line x1="488.40" y1="150.88" x2="491.50" y2="150.88" stroke="#333" stroke-width="0.55"/>
<circle cx="499.60" cy="150.88" r="4.50" fill="#5b9bd0" stroke="#333" stroke-width="0.4"/>
<circle cx="515.90" cy="150.88" r="3.70" fill="#f4a259" stroke="#333" stroke-width="0.4"/>
<rect x="532.20" y="146.18" width="0.59" height="9.40" fill="#b89791" stroke="none" stroke-width="0.6"/>
<text x="533.69" y="153.18" font-size="6.6" text-anchor="start" fill="#111" font-weight="bold">193</text>
<text x="487.00" y="164.56" font-size="6.25" text-anchor="end" fill="#222">Platelet</text>
<line x1="488.40" y1="162.36" x2="491.50" y2="162.36" stroke="#333" stroke-width="0.55"/>
<circle cx="499.60" cy="162.36" r="1.80" fill="#5b9bd0" stroke="#333" stroke-width="0.4"/>
<circle cx="515.90" cy="162.36" r="5.80" fill="#f4a259" stroke="#333" stroke-width="0.4"/>
<rect x="532.20" y="157.66" width="0.50" height="9.40" fill="#d078b5" stroke="none" stroke-width="0.6"/>
<text x="533.35" y="164.66" font-size="6.6" text-anchor="start" fill="#111" font-weight="bold">82</text>
<text x="487.00" y="176.04" font-size="6.25" text-anchor="end" fill="#222">Plasmablast</text>
<line x1="488.40" y1="173.84" x2="491.50" y2="173.84" stroke="#333" stroke-width="0.55"/>
<circle cx="499.60" cy="173.84" r="4.00" fill="#5b9bd0" stroke="#333" stroke-width="0.4"/>
<circle cx="515.90" cy="173.84" r="4.50" fill="#f4a259" stroke="#333" stroke-width="0.4"/>
<rect x="532.20" y="169.14" width="0.50" height="9.40" fill="#e7b2c9" stroke="none" stroke-width="0.6"/>
<text x="533.32" y="176.14" font-size="6.6" text-anchor="start" fill="#111" font-weight="bold">72</text>
<text x="487.00" y="187.52" font-size="6.25" text-anchor="end" fill="#222">Proerythroblast</text>
<line x1="488.40" y1="185.32" x2="491.50" y2="185.32" stroke="#333" stroke-width="0.55"/>
<circle cx="499.60" cy="185.32" r="4.20" fill="#5b9bd0" stroke="#333" stroke-width="0.4"/>
<circle cx="515.90" cy="185.32" r="4.00" fill="#f4a259" stroke="#333" stroke-width="0.4"/>
<rect x="532.20" y="180.62" width="0.50" height="9.40" fill="#7a7a7a" stroke="none" stroke-width="0.6"/>
<text x="533.21" y="187.62" font-size="6.6" text-anchor="start" fill="#111" font-weight="bold">37</text>
<line x1="532.20" y1="191.10" x2="532.20" y2="193.50" stroke="#555" stroke-width="0.5"/>
<line x1="562.60" y1="191.10" x2="562.60" y2="193.50" stroke="#555" stroke-width="0.5"/>
<text x="532.20" y="200.00" font-size="6.3" text-anchor="middle" fill="#222">0</text>
<text x="562.60" y="200.00" font-size="6.3" text-anchor="middle" fill="#222">10,000</text>
<text x="557.50" y="210.00" font-size="7.7" text-anchor="middle" fill="#222">Number of cells</text>
<text x="444.00" y="104.80" font-size="7.9" text-anchor="middle" fill="#222" transform="rotate(-90 444.00 104.80)">Cell type</text>
<text x="592.80" y="51.80" font-size="7.3" text-anchor="start" fill="#222">Data sources</text>
<circle cx="595.20" cy="58.20" r="3.00" fill="#5b9bd0" stroke="#333" stroke-width="0.4"/>
<circle cx="595.20" cy="66.30" r="3.00" fill="#f4a259" stroke="#333" stroke-width="0.4"/>
<text x="601.60" y="60.30" font-size="6.0" text-anchor="start" fill="#222">10x-dUTSO</text>
<text x="601.60" y="68.40" font-size="6.0" text-anchor="start" fill="#222">TotalX</text>
<text x="590.80" y="86.70" font-size="7.3" text-anchor="start" fill="#222">Bubble size</text>
<text x="590.80" y="94.70" font-size="7.3" text-anchor="start" fill="#222">(percentage of</text>
<text x="590.80" y="102.70" font-size="7.3" text-anchor="start" fill="#222">cell type)</text>
<circle cx="602.60" cy="112.80" r="0.70" fill="#9a9a9a" stroke="#444" stroke-width="0.4"/>
<text x="610.70" y="114.70" font-size="5.8" text-anchor="start" fill="#222">1%</text>
<circle cx="602.60" cy="120.20" r="1.40" fill="#9a9a9a" stroke="#444" stroke-width="0.4"/>
<text x="610.70" y="122.10" font-size="5.8" text-anchor="start" fill="#222">5%</text>
<circle cx="602.60" cy="127.60" r="3.00" fill="#9a9a9a" stroke="#444" stroke-width="0.4"/>
<text x="610.70" y="129.50" font-size="5.8" text-anchor="start" fill="#222">25%</text>
<circle cx="602.60" cy="137.60" r="4.20" fill="#9a9a9a" stroke="#444" stroke-width="0.4"/>
<text x="610.70" y="139.50" font-size="5.8" text-anchor="start" fill="#222">50%</text>
<circle cx="602.60" cy="150.60" r="5.70" fill="#9a9a9a" stroke="#444" stroke-width="0.4"/>
<text x="610.70" y="152.50" font-size="5.8" text-anchor="start" fill="#222">90%</text>
<text x="0.20" y="225.10" font-size="13" text-anchor="start" fill="#000" font-weight="bold" stroke="#000" stroke-width="0.35">d</text>
<text x="52.80" y="245.00" font-size="7.6" text-anchor="end" fill="#222">B memory</text>
<line x1="54.60" y1="242.40" x2="58.70" y2="242.40" stroke="#333" stroke-width="0.55"/>
<text x="52.80" y="253.60" font-size="7.6" text-anchor="end" fill="#222">B naive</text>
<line x1="54.60" y1="251.00" x2="58.70" y2="251.00" stroke="#333" stroke-width="0.55"/>
<text x="52.80" y="262.20" font-size="7.6" text-anchor="end" fill="#222">Basophil</text>
<line x1="54.60" y1="259.60" x2="58.70" y2="259.60" stroke="#333" stroke-width="0.55"/>
<text x="52.80" y="270.80" font-size="7.6" text-anchor="end" fill="#222">CD4<tspan font-size="5.4" dy="-2.9">+</tspan><tspan dy="2.9"> T</tspan></text>
<line x1="54.60" y1="268.20" x2="58.70" y2="268.20" stroke="#333" stroke-width="0.55"/>
<text x="52.80" y="279.40" font-size="7.6" text-anchor="end" fill="#222">CD8<tspan font-size="5.4" dy="-2.9">+</tspan><tspan dy="2.9"> T</tspan></text>
<line x1="54.60" y1="276.80" x2="58.70" y2="276.80" stroke="#333" stroke-width="0.55"/>
<text x="52.80" y="288.00" font-size="7.6" text-anchor="end" fill="#222">CD14<tspan font-size="5.4" dy="-2.9">+</tspan><tspan dy="2.9"> mono</tspan></text>
<line x1="54.60" y1="285.40" x2="58.70" y2="285.40" stroke="#333" stroke-width="0.55"/>
<text x="52.80" y="296.60" font-size="7.6" text-anchor="end" fill="#222">CD16<tspan font-size="5.4" dy="-2.9">+</tspan><tspan dy="2.9"> mono</tspan></text>
<line x1="54.60" y1="294.00" x2="58.70" y2="294.00" stroke="#333" stroke-width="0.55"/>
<text x="52.80" y="305.20" font-size="7.6" text-anchor="end" fill="#222">NK cell</text>
<line x1="54.60" y1="302.60" x2="58.70" y2="302.60" stroke="#333" stroke-width="0.55"/>
<text x="52.80" y="313.80" font-size="7.6" text-anchor="end" fill="#222">NKT</text>
<line x1="54.60" y1="311.20" x2="58.70" y2="311.20" stroke="#333" stroke-width="0.55"/>
<text x="52.80" y="322.40" font-size="7.6" text-anchor="end" fill="#222">Plasmablast</text>
<line x1="54.60" y1="319.80" x2="58.70" y2="319.80" stroke="#333" stroke-width="0.55"/>
<text x="52.80" y="331.00" font-size="7.6" text-anchor="end" fill="#222">Platelet</text>
<line x1="54.60" y1="328.40" x2="58.70" y2="328.40" stroke="#333" stroke-width="0.55"/>
<text x="52.80" y="339.60" font-size="7.6" text-anchor="end" fill="#222">Proerythroblast</text>
<line x1="54.60" y1="337.00" x2="58.70" y2="337.00" stroke="#333" stroke-width="0.55"/>
<text x="52.80" y="348.20" font-size="7.6" text-anchor="end" fill="#222">T naive</text>
<line x1="54.60" y1="345.60" x2="58.70" y2="345.60" stroke="#333" stroke-width="0.55"/>
<text x="52.80" y="356.80" font-size="7.6" text-anchor="end" fill="#222">cDC2</text>
<line x1="54.60" y1="354.20" x2="58.70" y2="354.20" stroke="#333" stroke-width="0.55"/>
<text x="52.80" y="365.40" font-size="7.6" text-anchor="end" fill="#222">pDC</text>
<line x1="54.60" y1="362.80" x2="58.70" y2="362.80" stroke="#333" stroke-width="0.55"/>
<defs><linearGradient id="gdummy"></linearGradient></defs>
<rect x="58.70" y="233.40" width="54.70" height="137.60" fill="none" stroke="#555" stroke-width="0.6"/>
<text x="86.05" y="229.30" font-size="7.4" text-anchor="middle" fill="#222">lncRNA</text>
<circle cx="65.40" cy="242.40" r="2.70" fill="#77b5d9" stroke="#333" stroke-width="0.3"/>
<circle cx="73.60" cy="242.40" r="2.40" fill="#4594c7" stroke="#333" stroke-width="0.3"/>
<circle cx="82.10" cy="242.40" r="0.40" fill="#8a8a8a" stroke="none" stroke-width="0.4"/>
<circle cx="90.40" cy="242.40" r="0.40" fill="#8a8a8a" stroke="none" stroke-width="0.4"/>
<circle cx="98.90" cy="242.40" r="0.40" fill="#8a8a8a" stroke="none" stroke-width="0.4"/>
<circle cx="107.30" cy="242.40" r="0.40" fill="#8a8a8a" stroke="none" stroke-width="0.4"/>
<circle cx="65.40" cy="251.00" r="3.00" fill="#549fcd" stroke="#333" stroke-width="0.3"/>
<circle cx="73.60" cy="251.00" r="3.20" fill="#08306b" stroke="#333" stroke-width="0.3"/>
<circle cx="82.10" cy="251.00" r="0.40" fill="#8a8a8a" stroke="none" stroke-width="0.4"/>
<circle cx="90.40" cy="251.00" r="0.40" fill="#8a8a8a" stroke="none" stroke-width="0.4"/>
<circle cx="98.90" cy="251.00" r="0.40" fill="#8a8a8a" stroke="none" stroke-width="0.4"/>
<circle cx="107.30" cy="251.00" r="0.40" fill="#8a8a8a" stroke="none" stroke-width="0.4"/>
<circle cx="65.40" cy="259.60" r="2.10" fill="#4594c7" stroke="#333" stroke-width="0.3"/>
<circle cx="82.10" cy="259.60" r="0.40" fill="#8a8a8a" stroke="none" stroke-width="0.4"/>
<circle cx="90.40" cy="259.60" r="0.40" fill="#8a8a8a" stroke="none" stroke-width="0.4"/>
<circle cx="98.90" cy="259.60" r="0.40" fill="#8a8a8a" stroke="none" stroke-width="0.4"/>
<circle cx="107.30" cy="259.60" r="0.40" fill="#8a8a8a" stroke="none" stroke-width="0.4"/>
<circle cx="65.40" cy="268.20" r="3.30" fill="#084990" stroke="#333" stroke-width="0.3"/>
<circle cx="73.60" cy="268.20" r="0.40" fill="#8a8a8a" stroke="none" stroke-width="0.4"/>
<circle cx="82.10" cy="268.20" r="2.10" fill="#4594c7" stroke="#333" stroke-width="0.3"/>
<circle cx="90.40" cy="268.20" r="0.40" fill="#8a8a8a" stroke="none" stroke-width="0.4"/>
<circle cx="98.90" cy="268.20" r="0.40" fill="#8a8a8a" stroke="none" stroke-width="0.4"/>
<circle cx="107.30" cy="268.20" r="1.30" fill="#8abfdd" stroke="#333" stroke-width="0.3"/>
<circle cx="65.40" cy="276.80" r="3.00" fill="#4594c7" stroke="#333" stroke-width="0.3"/>
<circle cx="73.60" cy="276.80" r="0.40" fill="#8a8a8a" stroke="none" stroke-width="0.4"/>
<circle cx="82.10" cy="276.80" r="1.60" fill="#77b5d9" stroke="#333" stroke-width="0.3"/>
<circle cx="90.40" cy="276.80" r="0.40" fill="#8a8a8a" stroke="none" stroke-width="0.4"/>
<circle cx="98.90" cy="276.80" r="0.40" fill="#8a8a8a" stroke="none" stroke-width="0.4"/>
<circle cx="107.30" cy="276.80" r="1.40" fill="#549fcd" stroke="#333" stroke-width="0.3"/>
<circle cx="65.40" cy="285.40" r="3.30" fill="#549fcd" stroke="#333" stroke-width="0.3"/>
<circle cx="73.60" cy="285.40" r="0.40" fill="#8a8a8a" stroke="none" stroke-width="0.4"/>
<circle cx="82.10" cy="285.40" r="0.40" fill="#8a8a8a" stroke="none" stroke-width="0.4"/>
<circle cx="90.40" cy="285.40" r="1.40" fill="#aed1e7" stroke="#333" stroke-width="0.3"/>
<circle cx="98.90" cy="285.40" r="0.40" fill="#8a8a8a" stroke="none" stroke-width="0.4"/>
<circle cx="107.30" cy="285.40" r="1.20" fill="#d3e3f3" stroke="#333" stroke-width="0.3"/>
<circle cx="65.40" cy="294.00" r="3.70" fill="#08306b" stroke="#333" stroke-width="0.3"/>
<circle cx="73.60" cy="294.00" r="0.40" fill="#8a8a8a" stroke="none" stroke-width="0.4"/>
<circle cx="82.10" cy="294.00" r="0.40" fill="#8a8a8a" stroke="none" stroke-width="0.4"/>
<circle cx="90.40" cy="294.00" r="3.30" fill="#08306b" stroke="#333" stroke-width="0.3"/>
<circle cx="98.90" cy="294.00" r="0.40" fill="#8a8a8a" stroke="none" stroke-width="0.4"/>
<circle cx="107.30" cy="294.00" r="1.10" fill="#caddf0" stroke="#333" stroke-width="0.3"/>
<circle cx="65.40" cy="302.60" r="3.00" fill="#77b5d9" stroke="#333" stroke-width="0.3"/>
<circle cx="73.60" cy="302.60" r="0.40" fill="#8a8a8a" stroke="none" stroke-width="0.4"/>
<circle cx="82.10" cy="302.60" r="2.10" fill="#3888c1" stroke="#333" stroke-width="0.3"/>
<circle cx="90.40" cy="302.60" r="0.40" fill="#8a8a8a" stroke="none" stroke-width="0.4"/>
<circle cx="98.90" cy="302.60" r="2.10" fill="#2b7bba" stroke="#333" stroke-width="0.3"/>
<circle cx="107.30" cy="302.60" r="1.30" fill="#aed1e7" stroke="#333" stroke-width="0.3"/>
<circle cx="65.40" cy="311.20" r="1.90" fill="#e6f0f9" stroke="#333" stroke-width="0.3"/>
<circle cx="73.60" cy="311.20" r="0.40" fill="#8a8a8a" stroke="none" stroke-width="0.4"/>
<circle cx="82.10" cy="311.20" r="0.90" fill="#64a9d3" stroke="#333" stroke-width="0.3"/>
<circle cx="90.40" cy="311.20" r="0.40" fill="#8a8a8a" stroke="none" stroke-width="0.4"/>
<circle cx="98.90" cy="311.20" r="1.60" fill="#08306b" stroke="#333" stroke-width="0.3"/>
<circle cx="107.30" cy="311.20" r="0.40" fill="#8a8a8a" stroke="none" stroke-width="0.4"/>
<circle cx="65.40" cy="319.80" r="3.50" fill="#549fcd" stroke="#333" stroke-width="0.3"/>
<circle cx="73.60" cy="319.80" r="0.70" fill="#aed1e7" stroke="#333" stroke-width="0.3"/>
<circle cx="82.10" cy="319.80" r="0.40" fill="#8a8a8a" stroke="none" stroke-width="0.4"/>
<circle cx="90.40" cy="319.80" r="0.40" fill="#8a8a8a" stroke="none" stroke-width="0.4"/>
<circle cx="107.30" cy="319.80" r="3.50" fill="#08306b" stroke="#333" stroke-width="0.3"/>
<circle cx="65.40" cy="328.40" r="1.20" fill="#e6f0f9" stroke="#333" stroke-width="0.3"/>
<circle cx="73.60" cy="328.40" r="0.40" fill="#8a8a8a" stroke="none" stroke-width="0.4"/>
<circle cx="90.40" cy="328.40" r="0.40" fill="#8a8a8a" stroke="none" stroke-width="0.4"/>
<circle cx="98.90" cy="328.40" r="0.40" fill="#8a8a8a" stroke="none" stroke-width="0.4"/>
<circle cx="107.30" cy="328.40" r="1.70" fill="#08306b" stroke="#333" stroke-width="0.3"/>
<circle cx="65.40" cy="337.00" r="2.60" fill="#d3e3f3" stroke="#333" stroke-width="0.3"/>
<circle cx="98.90" cy="337.00" r="1.00" fill="#8abfdd" stroke="#333" stroke-width="0.3"/>
<circle cx="107.30" cy="337.00" r="2.60" fill="#4594c7" stroke="#333" stroke-width="0.3"/>
<circle cx="65.40" cy="345.60" r="3.20" fill="#083c7d" stroke="#333" stroke-width="0.3"/>
<circle cx="73.60" cy="345.60" r="0.40" fill="#8a8a8a" stroke="none" stroke-width="0.4"/>
<circle cx="82.10" cy="345.60" r="2.60" fill="#08306b" stroke="#333" stroke-width="0.3"/>
<circle cx="90.40" cy="345.60" r="0.40" fill="#8a8a8a" stroke="none" stroke-width="0.4"/>
<circle cx="98.90" cy="345.60" r="0.40" fill="#8a8a8a" stroke="none" stroke-width="0.4"/>
<circle cx="107.30" cy="345.60" r="1.10" fill="#dceaf6" stroke="#333" stroke-width="0.3"/>
<circle cx="65.40" cy="354.20" r="3.50" fill="#1f6eb3" stroke="#333" stroke-width="0.3"/>
<circle cx="73.60" cy="354.20" r="0.40" fill="#8a8a8a" stroke="none" stroke-width="0.4"/>
<circle cx="82.10" cy="354.20" r="0.40" fill="#8a8a8a" stroke="none" stroke-width="0.4"/>
<circle cx="90.40" cy="354.20" r="0.40" fill="#8a8a8a" stroke="none" stroke-width="0.4"/>
<circle cx="98.90" cy="354.20" r="0.40" fill="#8a8a8a" stroke="none" stroke-width="0.4"/>
<circle cx="107.30" cy="354.20" r="1.60" fill="#caddf0" stroke="#333" stroke-width="0.3"/>
<circle cx="65.40" cy="362.80" r="2.70" fill="#64a9d3" stroke="#333" stroke-width="0.3"/>
<circle cx="90.40" cy="362.80" r="0.40" fill="#8a8a8a" stroke="none" stroke-width="0.4"/>
<circle cx="107.30" cy="362.80" r="0.40" fill="#8a8a8a" stroke="none" stroke-width="0.4"/>
<line x1="65.40" y1="371.00" x2="65.40" y2="373.20" stroke="#555" stroke-width="0.45"/>
<text x="67.70" y="377.40" font-size="6.9" text-anchor="end" fill="#222" font-style="italic" transform="rotate(-90 67.70 377.40)">CHASERR</text>
<line x1="73.60" y1="371.00" x2="73.60" y2="373.20" stroke="#555" stroke-width="0.45"/>
<text x="75.90" y="377.40" font-size="6.9" text-anchor="end" fill="#222" font-style="italic" transform="rotate(-90 75.90 377.40)">LINC00926</text>
<line x1="82.10" y1="371.00" x2="82.10" y2="373.20" stroke="#555" stroke-width="0.45"/>
<text x="84.40" y="377.40" font-size="6.9" text-anchor="end" fill="#222" font-style="italic" transform="rotate(-90 84.40 377.40)">LINC00861</text>
<line x1="90.40" y1="371.00" x2="90.40" y2="373.20" stroke="#555" stroke-width="0.45"/>
<text x="92.70" y="377.40" font-size="6.9" text-anchor="end" fill="#222" font-style="italic" transform="rotate(-90 92.70 377.40)">PELATON</text>
<line x1="98.90" y1="371.00" x2="98.90" y2="373.20" stroke="#555" stroke-width="0.45"/>
<text x="101.20" y="377.40" font-size="6.9" text-anchor="end" fill="#222" font-style="italic" transform="rotate(-90 101.20 377.40)">LINC00299</text>
<line x1="107.30" y1="371.00" x2="107.30" y2="373.20" stroke="#555" stroke-width="0.45"/>
<text x="109.60" y="377.40" font-size="6.9" text-anchor="end" fill="#222" transform="rotate(-90 109.60 377.40)">CYTOR</text>
<defs><linearGradient id="g_lnc" x1="0" x2="1" y1="0" y2="0"><stop offset="0.0" stop-color="#f7fbff"/><stop offset="0.1" stop-color="#e3eef9"/><stop offset="0.2" stop-color="#d0e1f2"/><stop offset="0.3" stop-color="#b7d4ea"/><stop offset="0.4" stop-color="#94c4df"/><stop offset="0.5" stop-color="#6aaed6"/><stop offset="0.6" stop-color="#4a98c9"/><stop offset="0.7" stop-color="#2e7ebc"/><stop offset="0.8" stop-color="#1764ab"/><stop offset="0.9" stop-color="#084a91"/><stop offset="1.0" stop-color="#08306b"/></linearGradient></defs>
<rect x="67.40" y="425.20" width="37.90" height="5.20" fill="url(#g_lnc)" stroke="#444" stroke-width="0.4"/>
<line x1="67.40" y1="430.40" x2="67.40" y2="431.80" stroke="#444" stroke-width="0.4"/>
<text x="67.40" y="438.30" font-size="6.2" text-anchor="middle" fill="#222">0</text>
<line x1="86.35" y1="430.40" x2="86.35" y2="431.80" stroke="#444" stroke-width="0.4"/>
<text x="86.35" y="438.30" font-size="6.2" text-anchor="middle" fill="#222">0.5</text>
<line x1="105.30" y1="430.40" x2="105.30" y2="431.80" stroke="#444" stroke-width="0.4"/>
<text x="105.30" y="438.30" font-size="6.2" text-anchor="middle" fill="#222">1.0</text>
<circle cx="70.60" cy="452.80" r="1.45" fill="#7a7a7a" stroke="none" stroke-width="0.4"/>
<line x1="70.60" y1="457.00" x2="70.60" y2="458.90" stroke="#666" stroke-width="0.45"/>
<text x="72.10" y="464.00" font-size="6.2" text-anchor="end" fill="#222" transform="rotate(-45 72.10 464.00)">20</text>
<circle cx="80.10" cy="452.80" r="2.20" fill="#7a7a7a" stroke="none" stroke-width="0.4"/>
<line x1="80.10" y1="457.00" x2="80.10" y2="458.90" stroke="#666" stroke-width="0.45"/>
<text x="81.60" y="464.00" font-size="6.2" text-anchor="end" fill="#222" transform="rotate(-45 81.60 464.00)">40</text>
<circle cx="89.40" cy="452.80" r="3.10" fill="#7a7a7a" stroke="none" stroke-width="0.4"/>
<line x1="89.40" y1="457.00" x2="89.40" y2="458.90" stroke="#666" stroke-width="0.45"/>
<text x="90.90" y="464.00" font-size="6.2" text-anchor="end" fill="#222" transform="rotate(-45 90.90 464.00)">60</text>
<circle cx="99.10" cy="452.80" r="4.00" fill="#7a7a7a" stroke="none" stroke-width="0.4"/>
<line x1="99.10" y1="457.00" x2="99.10" y2="458.90" stroke="#666" stroke-width="0.45"/>
<text x="100.60" y="464.00" font-size="6.2" text-anchor="end" fill="#222" transform="rotate(-45 100.60 464.00)">80</text>
<rect x="123.50" y="233.40" width="38.00" height="137.60" fill="none" stroke="#555" stroke-width="0.6"/>
<text x="142.50" y="229.30" font-size="7.4" text-anchor="middle" fill="#222">Histone RNA</text>
<circle cx="129.90" cy="242.40" r="0.40" fill="#8a8a8a" stroke="none" stroke-width="0.4"/>
<circle cx="138.40" cy="242.40" r="0.40" fill="#8a8a8a" stroke="none" stroke-width="0.4"/>
<circle cx="146.80" cy="242.40" r="2.90" fill="#7970b3" stroke="#333" stroke-width="0.3"/>
<circle cx="155.20" cy="242.40" r="1.50" fill="#a5a2cd" stroke="#333" stroke-width="0.3"/>
<circle cx="129.90" cy="251.00" r="0.40" fill="#8a8a8a" stroke="none" stroke-width="0.4"/>
<circle cx="138.40" cy="251.00" r="0.40" fill="#8a8a8a" stroke="none" stroke-width="0.4"/>
<circle cx="146.80" cy="251.00" r="2.90" fill="#827fbb" stroke="#333" stroke-width="0.3"/>
<circle cx="155.20" cy="251.00" r="1.20" fill="#c8c8e2" stroke="#333" stroke-width="0.3"/>
<circle cx="129.90" cy="259.60" r="0.40" fill="#8a8a8a" stroke="none" stroke-width="0.4"/>
<circle cx="138.40" cy="259.60" r="0.50" fill="#603e9a" stroke="#333" stroke-width="0.3"/>
<circle cx="146.80" cy="259.60" r="1.10" fill="#eeecf4" stroke="#333" stroke-width="0.3"/>
<circle cx="155.20" cy="259.60" r="0.40" fill="#8a8a8a" stroke="none" stroke-width="0.4"/>
<circle cx="129.90" cy="268.20" r="0.60" fill="#b0afd4" stroke="#333" stroke-width="0.3"/>
<circle cx="138.40" cy="268.20" r="0.40" fill="#8a8a8a" stroke="none" stroke-width="0.4"/>
<circle cx="146.80" cy="268.20" r="3.10" fill="#4f1d8b" stroke="#333" stroke-width="0.3"/>
<circle cx="155.20" cy="268.20" r="1.60" fill="#9995c6" stroke="#333" stroke-width="0.3"/>
<circle cx="129.90" cy="276.80" r="0.60" fill="#b0afd4" stroke="#333" stroke-width="0.3"/>
<circle cx="138.40" cy="276.80" r="0.40" fill="#8a8a8a" stroke="none" stroke-width="0.4"/>
<circle cx="146.80" cy="276.80" r="2.90" fill="#4f1d8b" stroke="#333" stroke-width="0.3"/>
<circle cx="155.20" cy="276.80" r="1.40" fill="#a5a2cd" stroke="#333" stroke-width="0.3"/>
<circle cx="129.90" cy="285.40" r="0.40" fill="#8a8a8a" stroke="none" stroke-width="0.4"/>
<circle cx="138.40" cy="285.40" r="1.20" fill="#eeecf4" stroke="#333" stroke-width="0.3"/>
<circle cx="146.80" cy="285.40" r="1.80" fill="#f3f1f7" stroke="#333" stroke-width="0.3"/>
<circle cx="155.20" cy="285.40" r="2.00" fill="#a5a2cd" stroke="#333" stroke-width="0.3"/>
<circle cx="129.90" cy="294.00" r="0.40" fill="#8a8a8a" stroke="none" stroke-width="0.4"/>
<circle cx="138.40" cy="294.00" r="0.60" fill="#b0afd4" stroke="#333" stroke-width="0.3"/>
<circle cx="146.80" cy="294.00" r="2.00" fill="#f3f1f7" stroke="#333" stroke-width="0.3"/>
<circle cx="155.20" cy="294.00" r="2.80" fill="#3f007d" stroke="#333" stroke-width="0.3"/>
<circle cx="129.90" cy="302.60" r="0.40" fill="#8a8a8a" stroke="none" stroke-width="0.4"/>
<circle cx="138.40" cy="302.60" r="0.40" fill="#8a8a8a" stroke="none" stroke-width="0.4"/>
<circle cx="146.80" cy="302.60" r="3.00" fill="#603e9a" stroke="#333" stroke-width="0.3"/>
<circle cx="155.20" cy="302.60" r="1.70" fill="#9995c6" stroke="#333" stroke-width="0.3"/>
<circle cx="129.90" cy="311.20" r="0.40" fill="#8a8a8a" stroke="none" stroke-width="0.4"/>
<circle cx="146.80" cy="311.20" r="1.20" fill="#f3f1f7" stroke="#333" stroke-width="0.3"/>
<circle cx="155.20" cy="311.20" r="0.40" fill="#8a8a8a" stroke="none" stroke-width="0.4"/>
<circle cx="129.90" cy="319.80" r="2.00" fill="#3f007d" stroke="#333" stroke-width="0.3"/>
<circle cx="146.80" cy="319.80" r="3.60" fill="#3f007d" stroke="#333" stroke-width="0.3"/>
<circle cx="155.20" cy="319.80" r="2.30" fill="#705eaa" stroke="#333" stroke-width="0.3"/>
<circle cx="129.90" cy="328.40" r="0.40" fill="#8a8a8a" stroke="none" stroke-width="0.4"/>
<circle cx="138.40" cy="328.40" r="0.40" fill="#8a8a8a" stroke="none" stroke-width="0.4"/>
<circle cx="146.80" cy="328.40" r="1.30" fill="#f3f1f7" stroke="#333" stroke-width="0.3"/>
<circle cx="155.20" cy="328.40" r="1.40" fill="#827fbb" stroke="#333" stroke-width="0.3"/>
<circle cx="129.90" cy="337.00" r="1.90" fill="#c8c8e2" stroke="#333" stroke-width="0.3"/>
<circle cx="138.40" cy="337.00" r="2.40" fill="#3f007d" stroke="#333" stroke-width="0.3"/>
<circle cx="146.80" cy="337.00" r="2.80" fill="#705eaa" stroke="#333" stroke-width="0.3"/>
<circle cx="155.20" cy="337.00" r="2.00" fill="#c8c8e2" stroke="#333" stroke-width="0.3"/>
<circle cx="129.90" cy="345.60" r="0.40" fill="#8a8a8a" stroke="none" stroke-width="0.4"/>
<circle cx="138.40" cy="345.60" r="0.40" fill="#8a8a8a" stroke="none" stroke-width="0.4"/>
<circle cx="146.80" cy="345.60" r="2.90" fill="#7970b3" stroke="#333" stroke-width="0.3"/>
<circle cx="155.20" cy="345.60" r="1.40" fill="#c8c8e2" stroke="#333" stroke-width="0.3"/>
<circle cx="129.90" cy="354.20" r="0.40" fill="#8a8a8a" stroke="none" stroke-width="0.4"/>
<circle cx="138.40" cy="354.20" r="0.40" fill="#8a8a8a" stroke="none" stroke-width="0.4"/>
<circle cx="146.80" cy="354.20" r="3.30" fill="#a5a2cd" stroke="#333" stroke-width="0.3"/>
<circle cx="155.20" cy="354.20" r="3.00" fill="#572c92" stroke="#333" stroke-width="0.3"/>
<circle cx="129.90" cy="362.80" r="0.40" fill="#8a8a8a" stroke="none" stroke-width="0.4"/>
<circle cx="138.40" cy="362.80" r="0.40" fill="#8a8a8a" stroke="none" stroke-width="0.4"/>
<circle cx="146.80" cy="362.80" r="2.90" fill="#603e9a" stroke="#333" stroke-width="0.3"/>
<circle cx="155.20" cy="362.80" r="2.30" fill="#7970b3" stroke="#333" stroke-width="0.3"/>
<line x1="129.90" y1="371.00" x2="129.90" y2="373.20" stroke="#555" stroke-width="0.45"/>
<text x="132.20" y="377.40" font-size="6.9" text-anchor="end" fill="#222" font-style="italic" transform="rotate(-90 132.20 377.40)">H3C2</text>
<line x1="138.40" y1="371.00" x2="138.40" y2="373.20" stroke="#555" stroke-width="0.45"/>
<text x="140.70" y="377.40" font-size="6.9" text-anchor="end" fill="#222" font-style="italic" transform="rotate(-90 140.70 377.40)">H1-0</text>
<line x1="146.80" y1="371.00" x2="146.80" y2="373.20" stroke="#555" stroke-width="0.45"/>
<text x="149.10" y="377.40" font-size="6.9" text-anchor="end" fill="#222" transform="rotate(-90 149.10 377.40)">H1-2</text>
<line x1="155.20" y1="371.00" x2="155.20" y2="373.20" stroke="#555" stroke-width="0.45"/>
<text x="157.50" y="377.40" font-size="6.9" text-anchor="end" fill="#222" font-style="italic" transform="rotate(-90 157.50 377.40)">H2AZ1</text>
<defs><linearGradient id="g_his" x1="0" x2="1" y1="0" y2="0"><stop offset="0.0" stop-color="#fcfbfd"/><stop offset="0.1" stop-color="#f2f0f7"/><stop offset="0.2" stop-color="#e2e2ef"/><stop offset="0.3" stop-color="#cecfe5"/><stop offset="0.4" stop-color="#b6b6d8"/><stop offset="0.5" stop-color="#9e9ac8"/><stop offset="0.6" stop-color="#8683bd"/><stop offset="0.7" stop-color="#7262ac"/><stop offset="0.8" stop-color="#61409b"/><stop offset="0.9" stop-color="#4f1f8b"/><stop offset="1.0" stop-color="#3f007d"/></linearGradient></defs>
<rect x="125.40" y="425.20" width="37.20" height="5.20" fill="url(#g_his)" stroke="#444" stroke-width="0.4"/>
<line x1="125.40" y1="430.40" x2="125.40" y2="431.80" stroke="#444" stroke-width="0.4"/>
<text x="125.40" y="438.30" font-size="6.2" text-anchor="middle" fill="#222">0</text>
<line x1="144.00" y1="430.40" x2="144.00" y2="431.80" stroke="#444" stroke-width="0.4"/>
<text x="144.00" y="438.30" font-size="6.2" text-anchor="middle" fill="#222">0.5</text>
<line x1="162.60" y1="430.40" x2="162.60" y2="431.80" stroke="#444" stroke-width="0.4"/>
<text x="162.60" y="438.30" font-size="6.2" text-anchor="middle" fill="#222">1.0</text>
<circle cx="127.90" cy="452.80" r="0.90" fill="#7a7a7a" stroke="none" stroke-width="0.4"/>
<line x1="127.90" y1="457.00" x2="127.90" y2="458.90" stroke="#666" stroke-width="0.45"/>
<text x="129.40" y="464.00" font-size="6.2" text-anchor="end" fill="#222" transform="rotate(-45 129.40 464.00)">10</text>
<circle cx="135.20" cy="452.80" r="1.70" fill="#7a7a7a" stroke="none" stroke-width="0.4"/>
<line x1="135.20" y1="457.00" x2="135.20" y2="458.90" stroke="#666" stroke-width="0.45"/>
<text x="136.70" y="464.00" font-size="6.2" text-anchor="end" fill="#222" transform="rotate(-45 136.70 464.00)">20</text>
<circle cx="142.40" cy="452.80" r="2.40" fill="#7a7a7a" stroke="none" stroke-width="0.4"/>
<line x1="142.40" y1="457.00" x2="142.40" y2="458.90" stroke="#666" stroke-width="0.45"/>
<text x="143.90" y="464.00" font-size="6.2" text-anchor="end" fill="#222" transform="rotate(-45 143.90 464.00)">40</text>
<circle cx="149.90" cy="452.80" r="3.00" fill="#7a7a7a" stroke="none" stroke-width="0.4"/>
<line x1="149.90" y1="457.00" x2="149.90" y2="458.90" stroke="#666" stroke-width="0.45"/>
<text x="151.40" y="464.00" font-size="6.2" text-anchor="end" fill="#222" transform="rotate(-45 151.40 464.00)">60</text>
<circle cx="157.40" cy="452.80" r="3.50" fill="#7a7a7a" stroke="none" stroke-width="0.4"/>
<line x1="157.40" y1="457.00" x2="157.40" y2="458.90" stroke="#666" stroke-width="0.45"/>
<text x="158.90" y="464.00" font-size="6.2" text-anchor="end" fill="#222" transform="rotate(-45 158.90 464.00)">80</text>
<rect x="170.30" y="233.40" width="67.80" height="137.60" fill="none" stroke="#555" stroke-width="0.6"/>
<text x="204.20" y="229.30" font-size="7.4" text-anchor="middle" fill="#222">miRNA</text>
<circle cx="176.50" cy="242.40" r="1.70" fill="#67001f" stroke="#333" stroke-width="0.3"/>
<circle cx="184.40" cy="242.40" r="1.30" fill="#cda3cf" stroke="#333" stroke-width="0.3"/>
<circle cx="192.30" cy="242.40" r="0.50" fill="#b50a4d" stroke="#333" stroke-width="0.3"/>
<circle cx="200.20" cy="242.40" r="1.20" fill="#d282be" stroke="#333" stroke-width="0.3"/>
<circle cx="208.00" cy="242.40" r="0.40" fill="#8a8a8a" stroke="none" stroke-width="0.4"/>
<circle cx="176.50" cy="251.00" r="1.30" fill="#e3449b" stroke="#333" stroke-width="0.3"/>
<circle cx="184.40" cy="251.00" r="2.20" fill="#d51965" stroke="#333" stroke-width="0.3"/>
<circle cx="192.30" cy="251.00" r="0.40" fill="#8a8a8a" stroke="none" stroke-width="0.4"/>
<circle cx="200.20" cy="251.00" r="1.20" fill="#da70b5" stroke="#333" stroke-width="0.3"/>
<circle cx="208.00" cy="251.00" r="0.40" fill="#8a8a8a" stroke="none" stroke-width="0.4"/>
<circle cx="215.90" cy="251.00" r="0.40" fill="#8a8a8a" stroke="none" stroke-width="0.4"/>
<circle cx="223.70" cy="251.00" r="0.40" fill="#8a8a8a" stroke="none" stroke-width="0.4"/>
<circle cx="231.60" cy="251.00" r="0.40" fill="#8a8a8a" stroke="none" stroke-width="0.4"/>
<circle cx="176.50" cy="259.60" r="0.60" fill="#b50a4d" stroke="#333" stroke-width="0.3"/>
<circle cx="184.40" cy="259.60" r="1.20" fill="#cda3cf" stroke="#333" stroke-width="0.3"/>
<circle cx="192.30" cy="259.60" r="0.40" fill="#8a8a8a" stroke="none" stroke-width="0.4"/>
<circle cx="200.20" cy="259.60" r="1.10" fill="#e3449b" stroke="#333" stroke-width="0.3"/>
<circle cx="215.90" cy="259.60" r="0.40" fill="#8a8a8a" stroke="none" stroke-width="0.4"/>
<circle cx="176.50" cy="268.20" r="1.40" fill="#e62d8d" stroke="#333" stroke-width="0.3"/>
<circle cx="184.40" cy="268.20" r="2.60" fill="#67001f" stroke="#333" stroke-width="0.3"/>
<circle cx="192.30" cy="268.20" r="0.40" fill="#8a8a8a" stroke="none" stroke-width="0.4"/>
<circle cx="200.20" cy="268.20" r="0.40" fill="#8a8a8a" stroke="none" stroke-width="0.4"/>
<circle cx="215.90" cy="268.20" r="0.40" fill="#8a8a8a" stroke="none" stroke-width="0.4"/>
<circle cx="223.70" cy="268.20" r="0.40" fill="#8a8a8a" stroke="none" stroke-width="0.4"/>
<circle cx="176.50" cy="276.80" r="0.40" fill="#8a8a8a" stroke="none" stroke-width="0.4"/>
<circle cx="184.40" cy="276.80" r="1.90" fill="#d51965" stroke="#333" stroke-width="0.3"/>
<circle cx="192.30" cy="276.80" r="0.40" fill="#8a8a8a" stroke="none" stroke-width="0.4"/>
<circle cx="200.20" cy="276.80" r="0.40" fill="#8a8a8a" stroke="none" stroke-width="0.4"/>
<circle cx="208.00" cy="276.80" r="0.40" fill="#8a8a8a" stroke="none" stroke-width="0.4"/>
<circle cx="215.90" cy="276.80" r="0.40" fill="#8a8a8a" stroke="none" stroke-width="0.4"/>
<circle cx="223.70" cy="276.80" r="0.40" fill="#8a8a8a" stroke="none" stroke-width="0.4"/>
<circle cx="231.60" cy="276.80" r="0.40" fill="#8a8a8a" stroke="none" stroke-width="0.4"/>
<circle cx="176.50" cy="285.40" r="0.50" fill="#d282be" stroke="#333" stroke-width="0.3"/>
<circle cx="184.40" cy="285.40" r="0.40" fill="#8a8a8a" stroke="none" stroke-width="0.4"/>
<circle cx="192.30" cy="285.40" r="1.70" fill="#67001f" stroke="#333" stroke-width="0.3"/>
<circle cx="200.20" cy="285.40" r="1.30" fill="#da70b5" stroke="#333" stroke-width="0.3"/>
<circle cx="208.00" cy="285.40" r="0.40" fill="#8a8a8a" stroke="none" stroke-width="0.4"/>
<circle cx="215.90" cy="285.40" r="0.40" fill="#8a8a8a" stroke="none" stroke-width="0.4"/>
<circle cx="223.70" cy="285.40" r="0.40" fill="#8a8a8a" stroke="none" stroke-width="0.4"/>
<circle cx="231.60" cy="285.40" r="0.40" fill="#8a8a8a" stroke="none" stroke-width="0.4"/>
<circle cx="176.50" cy="294.00" r="0.40" fill="#8a8a8a" stroke="none" stroke-width="0.4"/>
<circle cx="184.40" cy="294.00" r="0.40" fill="#8a8a8a" stroke="none" stroke-width="0.4"/>
<circle cx="192.30" cy="294.00" r="1.00" fill="#d282be" stroke="#333" stroke-width="0.3"/>
<circle cx="200.20" cy="294.00" r="2.00" fill="#c91054" stroke="#333" stroke-width="0.3"/>
<circle cx="208.00" cy="294.00" r="0.40" fill="#8a8a8a" stroke="none" stroke-width="0.4"/>
<circle cx="215.90" cy="294.00" r="0.40" fill="#8a8a8a" stroke="none" stroke-width="0.4"/>
<circle cx="223.70" cy="294.00" r="0.40" fill="#8a8a8a" stroke="none" stroke-width="0.4"/>
<circle cx="231.60" cy="294.00" r="0.40" fill="#8a8a8a" stroke="none" stroke-width="0.4"/>
<circle cx="176.50" cy="302.60" r="0.80" fill="#cda3cf" stroke="#333" stroke-width="0.3"/>
<circle cx="184.40" cy="302.60" r="1.30" fill="#d282be" stroke="#333" stroke-width="0.3"/>
<circle cx="192.30" cy="302.60" r="0.40" fill="#8a8a8a" stroke="none" stroke-width="0.4"/>
<circle cx="200.20" cy="302.60" r="1.50" fill="#b50a4d" stroke="#333" stroke-width="0.3"/>
<circle cx="208.00" cy="302.60" r="0.40" fill="#8a8a8a" stroke="none" stroke-width="0.4"/>
<circle cx="215.90" cy="302.60" r="0.40" fill="#8a8a8a" stroke="none" stroke-width="0.4"/>
<circle cx="223.70" cy="302.60" r="0.40" fill="#8a8a8a" stroke="none" stroke-width="0.4"/>
<circle cx="176.50" cy="311.20" r="0.40" fill="#8a8a8a" stroke="none" stroke-width="0.4"/>
<circle cx="184.40" cy="311.20" r="0.40" fill="#8a8a8a" stroke="none" stroke-width="0.4"/>
<circle cx="200.20" cy="311.20" r="1.20" fill="#9f0245" stroke="#333" stroke-width="0.3"/>
<circle cx="176.50" cy="319.80" r="2.30" fill="#da70b5" stroke="#333" stroke-width="0.3"/>
<circle cx="208.00" cy="319.80" r="2.90" fill="#67001f" stroke="#333" stroke-width="0.3"/>
<circle cx="184.40" cy="337.00" r="2.50" fill="#8c003a" stroke="#333" stroke-width="0.3"/>
<circle cx="200.20" cy="337.00" r="2.40" fill="#e05ba9" stroke="#333" stroke-width="0.3"/>
<circle cx="215.90" cy="337.00" r="2.40" fill="#67001f" stroke="#333" stroke-width="0.3"/>
<circle cx="223.70" cy="337.00" r="2.40" fill="#67001f" stroke="#333" stroke-width="0.3"/>
<circle cx="176.50" cy="345.60" r="1.50" fill="#c91054" stroke="#333" stroke-width="0.3"/>
<circle cx="184.40" cy="345.60" r="2.60" fill="#67001f" stroke="#333" stroke-width="0.3"/>
<circle cx="192.30" cy="345.60" r="0.40" fill="#8a8a8a" stroke="none" stroke-width="0.4"/>
<circle cx="200.20" cy="345.60" r="0.40" fill="#8a8a8a" stroke="none" stroke-width="0.4"/>
<circle cx="208.00" cy="345.60" r="0.40" fill="#8a8a8a" stroke="none" stroke-width="0.4"/>
<circle cx="215.90" cy="345.60" r="0.40" fill="#8a8a8a" stroke="none" stroke-width="0.4"/>
<circle cx="223.70" cy="345.60" r="0.40" fill="#8a8a8a" stroke="none" stroke-width="0.4"/>
<circle cx="176.50" cy="354.20" r="0.40" fill="#8a8a8a" stroke="none" stroke-width="0.4"/>
<circle cx="184.40" cy="354.20" r="0.40" fill="#8a8a8a" stroke="none" stroke-width="0.4"/>
<circle cx="192.30" cy="354.20" r="1.50" fill="#d51965" stroke="#333" stroke-width="0.3"/>
<circle cx="200.20" cy="354.20" r="3.00" fill="#67001f" stroke="#333" stroke-width="0.3"/>
<circle cx="215.90" cy="354.20" r="0.40" fill="#8a8a8a" stroke="none" stroke-width="0.4"/>
<circle cx="223.70" cy="354.20" r="0.40" fill="#8a8a8a" stroke="none" stroke-width="0.4"/>
<circle cx="231.60" cy="354.20" r="2.20" fill="#67001f" stroke="#333" stroke-width="0.3"/>
<circle cx="176.50" cy="362.80" r="1.80" fill="#67001f" stroke="#333" stroke-width="0.3"/>
<circle cx="200.20" cy="362.80" r="2.20" fill="#b50a4d" stroke="#333" stroke-width="0.3"/>
<line x1="176.50" y1="371.00" x2="176.50" y2="373.20" stroke="#555" stroke-width="0.45"/>
<text x="178.80" y="377.40" font-size="6.9" text-anchor="end" fill="#222" font-style="italic" transform="rotate(-90 178.80 377.40)">MIR320A</text>
<line x1="184.40" y1="371.00" x2="184.40" y2="373.20" stroke="#555" stroke-width="0.45"/>
<text x="186.70" y="377.40" font-size="6.9" text-anchor="end" fill="#222" font-style="italic" transform="rotate(-90 186.70 377.40)">MIR150</text>
<line x1="192.30" y1="371.00" x2="192.30" y2="373.20" stroke="#555" stroke-width="0.45"/>
<text x="194.60" y="377.40" font-size="6.9" text-anchor="end" fill="#222" font-style="italic" transform="rotate(-90 194.60 377.40)">MIR223</text>
<line x1="200.20" y1="371.00" x2="200.20" y2="373.20" stroke="#555" stroke-width="0.45"/>
<text x="202.50" y="377.40" font-size="6.9" text-anchor="end" fill="#222" font-style="italic" transform="rotate(-90 202.50 377.40)">MIR142</text>
<line x1="208.00" y1="371.00" x2="208.00" y2="373.20" stroke="#555" stroke-width="0.45"/>
<text x="210.30" y="377.40" font-size="6.9" text-anchor="end" fill="#222" font-style="italic" transform="rotate(-90 210.30 377.40)">MIR650</text>
<line x1="215.90" y1="371.00" x2="215.90" y2="373.20" stroke="#555" stroke-width="0.45"/>
<text x="218.20" y="377.40" font-size="6.9" text-anchor="end" fill="#222" font-style="italic" transform="rotate(-90 218.20 377.40)">MIR21</text>
<line x1="223.70" y1="371.00" x2="223.70" y2="373.20" stroke="#555" stroke-width="0.45"/>
<text x="226.00" y="377.40" font-size="6.9" text-anchor="end" fill="#222" font-style="italic" transform="rotate(-90 226.00 377.40)">MIR191</text>
<line x1="231.60" y1="371.00" x2="231.60" y2="373.20" stroke="#555" stroke-width="0.45"/>
<text x="233.90" y="377.40" font-size="6.9" text-anchor="end" fill="#222" font-style="italic" transform="rotate(-90 233.90 377.40)">MIR147B</text>
<defs><linearGradient id="g_mir" x1="0" x2="1" y1="0" y2="0"><stop offset="0.0" stop-color="#f7f4f9"/><stop offset="0.1" stop-color="#eae5f1"/><stop offset="0.2" stop-color="#dcc9e2"/><stop offset="0.3" stop-color="#d0abd3"/><stop offset="0.4" stop-color="#cd8bc2"/><stop offset="0.5" stop-color="#df64af"/><stop offset="0.6" stop-color="#e53592"/><stop offset="0.7" stop-color="#d81b6a"/><stop offset="0.8" stop-color="#b80b4e"/><stop offset="0.9" stop-color="#8d003b"/><stop offset="1.0" stop-color="#67001f"/></linearGradient></defs>
<rect x="188.20" y="425.20" width="34.50" height="5.20" fill="url(#g_mir)" stroke="#444" stroke-width="0.4"/>
<line x1="188.20" y1="430.40" x2="188.20" y2="431.80" stroke="#444" stroke-width="0.4"/>
<text x="188.20" y="438.30" font-size="6.2" text-anchor="middle" fill="#222">0</text>
<line x1="205.45" y1="430.40" x2="205.45" y2="431.80" stroke="#444" stroke-width="0.4"/>
<text x="205.45" y="438.30" font-size="6.2" text-anchor="middle" fill="#222">0.5</text>
<line x1="222.70" y1="430.40" x2="222.70" y2="431.80" stroke="#444" stroke-width="0.4"/>
<text x="222.70" y="438.30" font-size="6.2" text-anchor="middle" fill="#222">1.0</text>
<circle cx="192.80" cy="452.80" r="2.10" fill="#7a7a7a" stroke="none" stroke-width="0.4"/>
<line x1="192.80" y1="457.00" x2="192.80" y2="458.90" stroke="#666" stroke-width="0.45"/>
<text x="194.30" y="464.00" font-size="6.2" text-anchor="end" fill="#222" transform="rotate(-45 194.30 464.00)">5</text>
<circle cx="212.10" cy="452.80" r="3.50" fill="#7a7a7a" stroke="none" stroke-width="0.4"/>
<line x1="212.10" y1="457.00" x2="212.10" y2="458.90" stroke="#666" stroke-width="0.45"/>
<text x="213.60" y="464.00" font-size="6.2" text-anchor="end" fill="#222" transform="rotate(-45 213.60 464.00)">10</text>
<rect x="246.30" y="233.40" width="30.30" height="137.60" fill="none" stroke="#555" stroke-width="0.6"/>
<text x="261.45" y="229.30" font-size="7.4" text-anchor="middle" fill="#222">scaRNA</text>
<circle cx="252.90" cy="242.40" r="0.40" fill="#8a8a8a" stroke="none" stroke-width="0.4"/>
<circle cx="261.30" cy="242.40" r="1.20" fill="#e6e3b1" stroke="#333" stroke-width="0.3"/>
<circle cx="269.80" cy="242.40" r="0.40" fill="#8a8a8a" stroke="none" stroke-width="0.4"/>
<circle cx="252.90" cy="251.00" r="0.40" fill="#8a8a8a" stroke="none" stroke-width="0.4"/>
<circle cx="261.30" cy="251.00" r="1.20" fill="#e6e3b1" stroke="#333" stroke-width="0.3"/>
<circle cx="269.80" cy="251.00" r="0.40" fill="#8a8a8a" stroke="none" stroke-width="0.4"/>
<circle cx="252.90" cy="259.60" r="3.20" fill="#1e0000" stroke="#333" stroke-width="0.3"/>
<circle cx="261.30" cy="259.60" r="1.90" fill="#1e0000" stroke="#333" stroke-width="0.3"/>
<circle cx="269.80" cy="259.60" r="0.90" fill="#ac6f6f" stroke="#333" stroke-width="0.3"/>
<circle cx="252.90" cy="268.20" r="0.40" fill="#8a8a8a" stroke="none" stroke-width="0.4"/>
<circle cx="261.30" cy="268.20" r="2.20" fill="#cea590" stroke="#333" stroke-width="0.3"/>
<circle cx="269.80" cy="268.20" r="0.40" fill="#8a8a8a" stroke="none" stroke-width="0.4"/>
<circle cx="252.90" cy="276.80" r="0.40" fill="#8a8a8a" stroke="none" stroke-width="0.4"/>
<circle cx="261.30" cy="276.80" r="2.30" fill="#c48581" stroke="#333" stroke-width="0.3"/>
<circle cx="269.80" cy="276.80" r="0.40" fill="#8a8a8a" stroke="none" stroke-width="0.4"/>
<circle cx="252.90" cy="285.40" r="0.40" fill="#8a8a8a" stroke="none" stroke-width="0.4"/>
<circle cx="261.30" cy="285.40" r="0.70" fill="#e2d8ab" stroke="#333" stroke-width="0.3"/>
<circle cx="269.80" cy="285.40" r="0.40" fill="#8a8a8a" stroke="none" stroke-width="0.4"/>
<circle cx="252.90" cy="294.00" r="0.40" fill="#8a8a8a" stroke="none" stroke-width="0.4"/>
<circle cx="261.30" cy="294.00" r="0.40" fill="#8a8a8a" stroke="none" stroke-width="0.4"/>
<circle cx="269.80" cy="294.00" r="0.40" fill="#8a8a8a" stroke="none" stroke-width="0.4"/>
<circle cx="252.90" cy="302.60" r="0.40" fill="#8a8a8a" stroke="none" stroke-width="0.4"/>
<circle cx="261.30" cy="302.60" r="1.60" fill="#d8c09e" stroke="#333" stroke-width="0.3"/>
<circle cx="269.80" cy="302.60" r="0.40" fill="#8a8a8a" stroke="none" stroke-width="0.4"/>
<circle cx="261.30" cy="311.20" r="2.10" fill="#9e6666" stroke="#333" stroke-width="0.3"/>
<circle cx="261.30" cy="319.80" r="1.10" fill="#f3f3db" stroke="#333" stroke-width="0.3"/>
<circle cx="269.80" cy="319.80" r="2.60" fill="#1e0000" stroke="#333" stroke-width="0.3"/>
<circle cx="261.30" cy="337.00" r="2.20" fill="#ddcca4" stroke="#333" stroke-width="0.3"/>
<circle cx="252.90" cy="345.60" r="0.40" fill="#8a8a8a" stroke="none" stroke-width="0.4"/>
<circle cx="261.30" cy="345.60" r="2.40" fill="#ac6f6f" stroke="#333" stroke-width="0.3"/>
<circle cx="269.80" cy="345.60" r="0.40" fill="#8a8a8a" stroke="none" stroke-width="0.4"/>
<circle cx="252.90" cy="354.20" r="0.60" fill="#e2d8ab" stroke="#333" stroke-width="0.3"/>
<circle cx="261.30" cy="354.20" r="1.10" fill="#ebebbc" stroke="#333" stroke-width="0.3"/>
<circle cx="252.90" cy="362.80" r="0.40" fill="#8a8a8a" stroke="none" stroke-width="0.4"/>
<circle cx="261.30" cy="362.80" r="1.10" fill="#e2d8ab" stroke="#333" stroke-width="0.3"/>
<line x1="252.90" y1="371.00" x2="252.90" y2="373.20" stroke="#555" stroke-width="0.45"/>
<text x="255.20" y="377.40" font-size="6.9" text-anchor="end" fill="#222" transform="rotate(-90 255.20 377.40)">SCARNA7</text>
<line x1="261.30" y1="371.00" x2="261.30" y2="373.20" stroke="#555" stroke-width="0.45"/>
<text x="263.60" y="377.40" font-size="6.9" text-anchor="end" fill="#222" transform="rotate(-90 263.60 377.40)">SCARNA5</text>
<line x1="269.80" y1="371.00" x2="269.80" y2="373.20" stroke="#555" stroke-width="0.45"/>
<text x="272.10" y="377.40" font-size="6.9" text-anchor="end" fill="#222" transform="rotate(-90 272.10 377.40)">SCARNA6</text>
<defs><linearGradient id="g_sca" x1="0" x2="1" y1="0" y2="0"><stop offset="0.0" stop-color="#ffffff"/><stop offset="0.1" stop-color="#f7f7e5"/><stop offset="0.2" stop-color="#ededc6"/><stop offset="0.3" stop-color="#e4dfae"/><stop offset="0.4" stop-color="#dac6a1"/><stop offset="0.5" stop-color="#d0ab93"/><stop offset="0.6" stop-color="#c68b84"/><stop offset="0.7" stop-color="#af7272"/><stop offset="0.8" stop-color="#915d5d"/><stop offset="0.9" stop-color="#684141"/><stop offset="1.0" stop-color="#1e0000"/></linearGradient></defs>
<rect x="242.50" y="425.20" width="36.90" height="5.20" fill="url(#g_sca)" stroke="#444" stroke-width="0.4"/>
<line x1="242.50" y1="430.40" x2="242.50" y2="431.80" stroke="#444" stroke-width="0.4"/>
<text x="242.50" y="438.30" font-size="6.2" text-anchor="middle" fill="#222">0</text>
<line x1="260.95" y1="430.40" x2="260.95" y2="431.80" stroke="#444" stroke-width="0.4"/>
<text x="260.95" y="438.30" font-size="6.2" text-anchor="middle" fill="#222">0.5</text>
<line x1="279.40" y1="430.40" x2="279.40" y2="431.80" stroke="#444" stroke-width="0.4"/>
<text x="279.40" y="438.30" font-size="6.2" text-anchor="middle" fill="#222">1.0</text>
<circle cx="247.20" cy="452.80" r="2.20" fill="#7a7a7a" stroke="none" stroke-width="0.4"/>
<line x1="247.20" y1="457.00" x2="247.20" y2="458.90" stroke="#666" stroke-width="0.45"/>
<text x="248.70" y="464.00" font-size="6.2" text-anchor="end" fill="#222" transform="rotate(-45 248.70 464.00)">5</text>
<circle cx="268.60" cy="452.80" r="3.50" fill="#7a7a7a" stroke="none" stroke-width="0.4"/>
<line x1="268.60" y1="457.00" x2="268.60" y2="458.90" stroke="#666" stroke-width="0.45"/>
<text x="270.10" y="464.00" font-size="6.2" text-anchor="end" fill="#222" transform="rotate(-45 270.10 464.00)">10</text>
<rect x="286.80" y="233.40" width="44.80" height="137.60" fill="none" stroke="#555" stroke-width="0.6"/>
<text x="309.20" y="229.30" font-size="7.4" text-anchor="middle" fill="#222">snoRNA</text>
<circle cx="293.70" cy="242.40" r="2.80" fill="#f67925" stroke="#333" stroke-width="0.3"/>
<circle cx="302.00" cy="242.40" r="2.10" fill="#8e2d04" stroke="#333" stroke-width="0.3"/>
<circle cx="310.40" cy="242.40" r="1.20" fill="#fdc895" stroke="#333" stroke-width="0.3"/>
<circle cx="318.90" cy="242.40" r="0.40" fill="#8a8a8a" stroke="none" stroke-width="0.4"/>
<circle cx="327.40" cy="242.40" r="0.40" fill="#8a8a8a" stroke="none" stroke-width="0.4"/>
<circle cx="293.70" cy="251.00" r="2.90" fill="#f26c16" stroke="#333" stroke-width="0.3"/>
<circle cx="302.00" cy="251.00" r="2.20" fill="#8e2d04" stroke="#333" stroke-width="0.3"/>
<circle cx="310.40" cy="251.00" r="1.50" fill="#fdbb81" stroke="#333" stroke-width="0.3"/>
<circle cx="318.90" cy="251.00" r="0.40" fill="#8a8a8a" stroke="none" stroke-width="0.4"/>
<circle cx="327.40" cy="251.00" r="0.50" fill="#9c3203" stroke="#333" stroke-width="0.3"/>
<circle cx="293.70" cy="259.60" r="2.00" fill="#fd9547" stroke="#333" stroke-width="0.3"/>
<circle cx="302.00" cy="259.60" r="0.40" fill="#8a8a8a" stroke="none" stroke-width="0.4"/>
<circle cx="310.40" cy="259.60" r="1.80" fill="#8e2d04" stroke="#333" stroke-width="0.3"/>
<circle cx="318.90" cy="259.60" r="1.30" fill="#8e2d04" stroke="#333" stroke-width="0.3"/>
<circle cx="327.40" cy="259.60" r="0.40" fill="#8a8a8a" stroke="none" stroke-width="0.4"/>
<circle cx="293.70" cy="268.20" r="2.30" fill="#fdbb81" stroke="#333" stroke-width="0.3"/>
<circle cx="302.00" cy="268.20" r="1.80" fill="#e05206" stroke="#333" stroke-width="0.3"/>
<circle cx="310.40" cy="268.20" r="1.20" fill="#fdd3a9" stroke="#333" stroke-width="0.3"/>
<circle cx="318.90" cy="268.20" r="0.40" fill="#8a8a8a" stroke="none" stroke-width="0.4"/>
<circle cx="327.40" cy="268.20" r="0.40" fill="#8a8a8a" stroke="none" stroke-width="0.4"/>
<circle cx="293.70" cy="276.80" r="2.60" fill="#fd9547" stroke="#333" stroke-width="0.3"/>
<circle cx="302.00" cy="276.80" r="1.90" fill="#d54601" stroke="#333" stroke-width="0.3"/>
<circle cx="310.40" cy="276.80" r="1.20" fill="#fdbb81" stroke="#333" stroke-width="0.3"/>
<circle cx="318.90" cy="276.80" r="0.40" fill="#8a8a8a" stroke="none" stroke-width="0.4"/>
<circle cx="327.40" cy="276.80" r="0.40" fill="#8a8a8a" stroke="none" stroke-width="0.4"/>
<circle cx="293.70" cy="285.40" r="2.30" fill="#fedcb9" stroke="#333" stroke-width="0.3"/>
<circle cx="302.00" cy="285.40" r="1.20" fill="#fdc895" stroke="#333" stroke-width="0.3"/>
<circle cx="310.40" cy="285.40" r="2.20" fill="#f67925" stroke="#333" stroke-width="0.3"/>
<circle cx="318.90" cy="285.40" r="0.40" fill="#8a8a8a" stroke="none" stroke-width="0.4"/>
<circle cx="327.40" cy="285.40" r="0.40" fill="#8a8a8a" stroke="none" stroke-width="0.4"/>
<circle cx="293.70" cy="294.00" r="2.40" fill="#fedcb9" stroke="#333" stroke-width="0.3"/>
<circle cx="302.00" cy="294.00" r="1.20" fill="#fdd3a9" stroke="#333" stroke-width="0.3"/>
<circle cx="310.40" cy="294.00" r="1.60" fill="#fdc895" stroke="#333" stroke-width="0.3"/>
<circle cx="318.90" cy="294.00" r="0.40" fill="#8a8a8a" stroke="none" stroke-width="0.4"/>
<circle cx="327.40" cy="294.00" r="0.40" fill="#8a8a8a" stroke="none" stroke-width="0.4"/>
<circle cx="293.70" cy="302.60" r="2.80" fill="#fb8735" stroke="#333" stroke-width="0.3"/>
<circle cx="302.00" cy="302.60" r="1.50" fill="#f26c16" stroke="#333" stroke-width="0.3"/>
<circle cx="310.40" cy="302.60" r="1.30" fill="#fdae6a" stroke="#333" stroke-width="0.3"/>
<circle cx="318.90" cy="302.60" r="0.40" fill="#8a8a8a" stroke="none" stroke-width="0.4"/>
<circle cx="327.40" cy="302.60" r="0.40" fill="#8a8a8a" stroke="none" stroke-width="0.4"/>
<circle cx="293.70" cy="311.20" r="1.50" fill="#fdd3a9" stroke="#333" stroke-width="0.3"/>
<circle cx="302.00" cy="311.20" r="1.00" fill="#fdd3a9" stroke="#333" stroke-width="0.3"/>
<circle cx="310.40" cy="311.20" r="1.00" fill="#fb8735" stroke="#333" stroke-width="0.3"/>
<circle cx="318.90" cy="311.20" r="0.40" fill="#8a8a8a" stroke="none" stroke-width="0.4"/>
<circle cx="293.70" cy="319.80" r="3.30" fill="#fb8735" stroke="#333" stroke-width="0.3"/>
<circle cx="302.00" cy="319.80" r="1.40" fill="#fdd3a9" stroke="#333" stroke-width="0.3"/>
<circle cx="310.40" cy="319.80" r="2.80" fill="#8e2d04" stroke="#333" stroke-width="0.3"/>
<circle cx="318.90" cy="319.80" r="0.40" fill="#8a8a8a" stroke="none" stroke-width="0.4"/>
<circle cx="327.40" cy="319.80" r="0.40" fill="#8a8a8a" stroke="none" stroke-width="0.4"/>
<circle cx="293.70" cy="328.40" r="1.00" fill="#fee5cb" stroke="#333" stroke-width="0.3"/>
<circle cx="302.00" cy="328.40" r="0.40" fill="#8a8a8a" stroke="none" stroke-width="0.4"/>
<circle cx="310.40" cy="328.40" r="0.40" fill="#8a8a8a" stroke="none" stroke-width="0.4"/>
<circle cx="327.40" cy="328.40" r="0.40" fill="#8a8a8a" stroke="none" stroke-width="0.4"/>
<circle cx="293.70" cy="337.00" r="2.90" fill="#fb8735" stroke="#333" stroke-width="0.3"/>
<circle cx="302.00" cy="337.00" r="1.80" fill="#fda159" stroke="#333" stroke-width="0.3"/>
<circle cx="310.40" cy="337.00" r="2.10" fill="#fedcb9" stroke="#333" stroke-width="0.3"/>
<circle cx="318.90" cy="337.00" r="0.40" fill="#8a8a8a" stroke="none" stroke-width="0.4"/>
<circle cx="327.40" cy="337.00" r="0.80" fill="#8e2d04" stroke="#333" stroke-width="0.3"/>
<circle cx="293.70" cy="345.60" r="2.50" fill="#fdae6a" stroke="#333" stroke-width="0.3"/>
<circle cx="302.00" cy="345.60" r="1.60" fill="#e05206" stroke="#333" stroke-width="0.3"/>
<circle cx="310.40" cy="345.60" r="1.30" fill="#fedcb9" stroke="#333" stroke-width="0.3"/>
<circle cx="318.90" cy="345.60" r="0.40" fill="#8a8a8a" stroke="none" stroke-width="0.4"/>
<circle cx="327.40" cy="345.60" r="0.40" fill="#8a8a8a" stroke="none" stroke-width="0.4"/>
<circle cx="293.70" cy="354.20" r="2.80" fill="#fdbb81" stroke="#333" stroke-width="0.3"/>
<circle cx="302.00" cy="354.20" r="1.10" fill="#fdd3a9" stroke="#333" stroke-width="0.3"/>
<circle cx="310.40" cy="354.20" r="2.50" fill="#fb8735" stroke="#333" stroke-width="0.3"/>
<circle cx="318.90" cy="354.20" r="0.40" fill="#8a8a8a" stroke="none" stroke-width="0.4"/>
<circle cx="327.40" cy="354.20" r="0.40" fill="#8a8a8a" stroke="none" stroke-width="0.4"/>
<circle cx="293.70" cy="362.80" r="3.50" fill="#8e2d04" stroke="#333" stroke-width="0.3"/>
<circle cx="302.00" cy="362.80" r="1.50" fill="#fb8735" stroke="#333" stroke-width="0.3"/>
<circle cx="310.40" cy="362.80" r="2.60" fill="#e05206" stroke="#333" stroke-width="0.3"/>
<circle cx="318.90" cy="362.80" r="0.40" fill="#8a8a8a" stroke="none" stroke-width="0.4"/>
<circle cx="327.40" cy="362.80" r="0.40" fill="#8a8a8a" stroke="none" stroke-width="0.4"/>
<line x1="293.70" y1="371.00" x2="293.70" y2="373.20" stroke="#555" stroke-width="0.45"/>
<text x="296.00" y="377.40" font-size="6.9" text-anchor="end" fill="#222" font-style="italic" transform="rotate(-90 296.00 377.40)">SNORD13</text>
<line x1="302.00" y1="371.00" x2="302.00" y2="373.20" stroke="#555" stroke-width="0.45"/>
<text x="304.30" y="377.40" font-size="6.9" text-anchor="end" fill="#222" transform="rotate(-90 304.30 377.40)">SNORD35B</text>
<line x1="310.40" y1="371.00" x2="310.40" y2="373.20" stroke="#555" stroke-width="0.45"/>
<text x="312.70" y="377.40" font-size="6.9" text-anchor="end" fill="#222" transform="rotate(-90 312.70 377.40)">SNORD3A</text>
<line x1="318.90" y1="371.00" x2="318.90" y2="373.20" stroke="#555" stroke-width="0.45"/>
<text x="321.20" y="377.40" font-size="6.9" text-anchor="end" fill="#222" transform="rotate(-90 321.20 377.40)">SNORA80E</text>
<line x1="327.40" y1="371.00" x2="327.40" y2="373.20" stroke="#555" stroke-width="0.45"/>
<text x="329.70" y="377.40" font-size="6.9" text-anchor="end" fill="#222" transform="rotate(-90 329.70 377.40)">SNORA69</text>
<defs><linearGradient id="g_sno" x1="0" x2="1" y1="0" y2="0"><stop offset="0.0" stop-color="#fff5eb"/><stop offset="0.1" stop-color="#fee9d4"/><stop offset="0.2" stop-color="#fdd9b4"/><stop offset="0.3" stop-color="#fdc38d"/><stop offset="0.4" stop-color="#fda762"/><stop offset="0.5" stop-color="#fd8c3b"/><stop offset="0.6" stop-color="#f3701b"/><stop offset="0.7" stop-color="#e25508"/><stop offset="0.8" stop-color="#c54102"/><stop offset="0.9" stop-color="#9e3303"/><stop offset="1.0" stop-color="#7f2704"/></linearGradient></defs>
<rect x="291.50" y="425.20" width="37.00" height="5.20" fill="url(#g_sno)" stroke="#444" stroke-width="0.4"/>
<line x1="291.50" y1="430.40" x2="291.50" y2="431.80" stroke="#444" stroke-width="0.4"/>
<text x="291.50" y="438.30" font-size="6.2" text-anchor="middle" fill="#222">0</text>
<line x1="310.00" y1="430.40" x2="310.00" y2="431.80" stroke="#444" stroke-width="0.4"/>
<text x="310.00" y="438.30" font-size="6.2" text-anchor="middle" fill="#222">0.5</text>
<line x1="328.50" y1="430.40" x2="328.50" y2="431.80" stroke="#444" stroke-width="0.4"/>
<text x="328.50" y="438.30" font-size="6.2" text-anchor="middle" fill="#222">1.0</text>
<circle cx="294.80" cy="452.80" r="1.00" fill="#7a7a7a" stroke="none" stroke-width="0.4"/>
<line x1="294.80" y1="457.00" x2="294.80" y2="458.90" stroke="#666" stroke-width="0.45"/>
<text x="296.30" y="464.00" font-size="6.2" text-anchor="end" fill="#222" transform="rotate(-45 296.30 464.00)">20</text>
<circle cx="301.90" cy="452.80" r="1.80" fill="#7a7a7a" stroke="none" stroke-width="0.4"/>
<line x1="301.90" y1="457.00" x2="301.90" y2="458.90" stroke="#666" stroke-width="0.45"/>
<text x="303.40" y="464.00" font-size="6.2" text-anchor="end" fill="#222" transform="rotate(-45 303.40 464.00)">40</text>
<circle cx="309.50" cy="452.80" r="2.50" fill="#7a7a7a" stroke="none" stroke-width="0.4"/>
<line x1="309.50" y1="457.00" x2="309.50" y2="458.90" stroke="#666" stroke-width="0.45"/>
<text x="311.00" y="464.00" font-size="6.2" text-anchor="end" fill="#222" transform="rotate(-45 311.00 464.00)">60</text>
<circle cx="316.60" cy="452.80" r="3.10" fill="#7a7a7a" stroke="none" stroke-width="0.4"/>
<line x1="316.60" y1="457.00" x2="316.60" y2="458.90" stroke="#666" stroke-width="0.45"/>
<text x="318.10" y="464.00" font-size="6.2" text-anchor="end" fill="#222" transform="rotate(-45 318.10 464.00)">80</text>
<circle cx="324.20" cy="452.80" r="3.70" fill="#7a7a7a" stroke="none" stroke-width="0.4"/>
<line x1="324.20" y1="457.00" x2="324.20" y2="458.90" stroke="#666" stroke-width="0.45"/>
<text x="325.70" y="464.00" font-size="6.2" text-anchor="end" fill="#222" transform="rotate(-45 325.70 464.00)">100</text>
<rect x="340.50" y="233.40" width="29.90" height="137.60" fill="none" stroke="#555" stroke-width="0.6"/>
<text x="355.45" y="229.30" font-size="7.4" text-anchor="middle" fill="#222">snRNA</text>
<circle cx="347.50" cy="242.40" r="2.60" fill="#c84a02" stroke="#333" stroke-width="0.3"/>
<circle cx="355.90" cy="242.40" r="0.40" fill="#8a8a8a" stroke="none" stroke-width="0.4"/>
<circle cx="364.30" cy="242.40" r="2.60" fill="#a03704" stroke="#333" stroke-width="0.3"/>
<circle cx="347.50" cy="251.00" r="2.30" fill="#fb9225" stroke="#333" stroke-width="0.3"/>
<circle cx="355.90" cy="251.00" r="0.40" fill="#8a8a8a" stroke="none" stroke-width="0.4"/>
<circle cx="364.30" cy="251.00" r="2.60" fill="#a03704" stroke="#333" stroke-width="0.3"/>
<circle cx="347.50" cy="259.60" r="1.10" fill="#fee697" stroke="#333" stroke-width="0.3"/>
<circle cx="355.90" cy="259.60" r="0.40" fill="#8a8a8a" stroke="none" stroke-width="0.4"/>
<circle cx="364.30" cy="259.60" r="1.20" fill="#fee697" stroke="#333" stroke-width="0.3"/>
<circle cx="347.50" cy="268.20" r="3.30" fill="#662506" stroke="#333" stroke-width="0.3"/>
<circle cx="355.90" cy="268.20" r="0.40" fill="#8a8a8a" stroke="none" stroke-width="0.4"/>
<circle cx="364.30" cy="268.20" r="2.60" fill="#b44103" stroke="#333" stroke-width="0.3"/>
<circle cx="347.50" cy="276.80" r="3.00" fill="#8c3004" stroke="#333" stroke-width="0.3"/>
<circle cx="355.90" cy="276.80" r="0.40" fill="#8a8a8a" stroke="none" stroke-width="0.4"/>
<circle cx="364.30" cy="276.80" r="2.70" fill="#792b05" stroke="#333" stroke-width="0.3"/>
<circle cx="347.50" cy="285.40" r="1.70" fill="#fff9c9" stroke="#333" stroke-width="0.3"/>
<circle cx="355.90" cy="285.40" r="1.00" fill="#662506" stroke="#333" stroke-width="0.3"/>
<circle cx="364.30" cy="285.40" r="2.30" fill="#fee697" stroke="#333" stroke-width="0.3"/>
<circle cx="347.50" cy="294.00" r="1.20" fill="#fff9c9" stroke="#333" stroke-width="0.3"/>
<circle cx="355.90" cy="294.00" r="0.90" fill="#b44103" stroke="#333" stroke-width="0.3"/>
<circle cx="364.30" cy="294.00" r="2.80" fill="#fea332" stroke="#333" stroke-width="0.3"/>
<circle cx="347.50" cy="302.60" r="2.00" fill="#ffeea8" stroke="#333" stroke-width="0.3"/>
<circle cx="355.90" cy="302.60" r="0.40" fill="#8a8a8a" stroke="none" stroke-width="0.4"/>
<circle cx="364.30" cy="302.60" r="2.90" fill="#792b05" stroke="#333" stroke-width="0.3"/>
<circle cx="347.50" cy="311.20" r="1.30" fill="#ffeea8" stroke="#333" stroke-width="0.3"/>
<circle cx="355.90" cy="311.20" r="0.40" fill="#8a8a8a" stroke="none" stroke-width="0.4"/>
<circle cx="364.30" cy="311.20" r="1.30" fill="#fff9c9" stroke="#333" stroke-width="0.3"/>
<circle cx="347.50" cy="319.80" r="3.60" fill="#b44103" stroke="#333" stroke-width="0.3"/>
<circle cx="364.30" cy="319.80" r="2.70" fill="#fea332" stroke="#333" stroke-width="0.3"/>
<circle cx="347.50" cy="328.40" r="1.10" fill="#fee697" stroke="#333" stroke-width="0.3"/>
<circle cx="355.90" cy="328.40" r="0.40" fill="#8a8a8a" stroke="none" stroke-width="0.4"/>
<circle cx="364.30" cy="328.40" r="2.00" fill="#e2650f" stroke="#333" stroke-width="0.3"/>
<circle cx="347.50" cy="337.00" r="1.60" fill="#ffeea8" stroke="#333" stroke-width="0.3"/>
<circle cx="364.30" cy="337.00" r="3.20" fill="#c84a02" stroke="#333" stroke-width="0.3"/>
<circle cx="347.50" cy="345.60" r="2.50" fill="#e2650f" stroke="#333" stroke-width="0.3"/>
<circle cx="355.90" cy="345.60" r="0.40" fill="#8a8a8a" stroke="none" stroke-width="0.4"/>
<circle cx="364.30" cy="345.60" r="2.60" fill="#fb9225" stroke="#333" stroke-width="0.3"/>
<circle cx="347.50" cy="354.20" r="1.60" fill="#fff9c9" stroke="#333" stroke-width="0.3"/>
<circle cx="355.90" cy="354.20" r="0.80" fill="#c84a02" stroke="#333" stroke-width="0.3"/>
<circle cx="364.30" cy="354.20" r="3.00" fill="#fb9225" stroke="#333" stroke-width="0.3"/>
<circle cx="347.50" cy="362.80" r="1.60" fill="#fffcd8" stroke="#333" stroke-width="0.3"/>
<circle cx="355.90" cy="362.80" r="0.80" fill="#792b05" stroke="#333" stroke-width="0.3"/>
<circle cx="364.30" cy="362.80" r="3.40" fill="#662506" stroke="#333" stroke-width="0.3"/>
<line x1="347.50" y1="371.00" x2="347.50" y2="373.20" stroke="#555" stroke-width="0.45"/>
<text x="349.80" y="377.40" font-size="6.9" text-anchor="end" fill="#222" font-style="italic" transform="rotate(-90 349.80 377.40)">RNVU1-28</text>
<line x1="355.90" y1="371.00" x2="355.90" y2="373.20" stroke="#555" stroke-width="0.45"/>
<text x="358.20" y="377.40" font-size="6.9" text-anchor="end" fill="#222" font-style="italic" transform="rotate(-90 358.20 377.40)">RNU6-2</text>
<line x1="364.30" y1="371.00" x2="364.30" y2="373.20" stroke="#555" stroke-width="0.45"/>
<text x="366.60" y="377.40" font-size="6.9" text-anchor="end" fill="#222" font-style="italic" transform="rotate(-90 366.60 377.40)">RNY3</text>
<defs><linearGradient id="g_sn" x1="0" x2="1" y1="0" y2="0"><stop offset="0.0" stop-color="#ffffe5"/><stop offset="0.1" stop-color="#fff9c5"/><stop offset="0.2" stop-color="#feeba2"/><stop offset="0.3" stop-color="#fed778"/><stop offset="0.4" stop-color="#febb47"/><stop offset="0.5" stop-color="#fe9829"/><stop offset="0.6" stop-color="#f07818"/><stop offset="0.7" stop-color="#d85a09"/><stop offset="0.8" stop-color="#b84203"/><stop offset="0.9" stop-color="#8e3104"/><stop offset="1.0" stop-color="#662506"/></linearGradient></defs>
<rect x="341.60" y="425.20" width="37.20" height="5.20" fill="url(#g_sn)" stroke="#444" stroke-width="0.4"/>
<line x1="341.60" y1="430.40" x2="341.60" y2="431.80" stroke="#444" stroke-width="0.4"/>
<text x="341.60" y="438.30" font-size="6.2" text-anchor="middle" fill="#222">0</text>
<line x1="360.20" y1="430.40" x2="360.20" y2="431.80" stroke="#444" stroke-width="0.4"/>
<text x="360.20" y="438.30" font-size="6.2" text-anchor="middle" fill="#222">0.5</text>
<line x1="378.80" y1="430.40" x2="378.80" y2="431.80" stroke="#444" stroke-width="0.4"/>
<text x="378.80" y="438.30" font-size="6.2" text-anchor="middle" fill="#222">1.0</text>
<circle cx="344.20" cy="452.80" r="0.80" fill="#7a7a7a" stroke="none" stroke-width="0.4"/>
<line x1="344.20" y1="457.00" x2="344.20" y2="458.90" stroke="#666" stroke-width="0.45"/>
<text x="345.70" y="464.00" font-size="6.2" text-anchor="end" fill="#222" transform="rotate(-45 345.70 464.00)">10</text>
<circle cx="351.40" cy="452.80" r="1.70" fill="#7a7a7a" stroke="none" stroke-width="0.4"/>
<line x1="351.40" y1="457.00" x2="351.40" y2="458.90" stroke="#666" stroke-width="0.45"/>
<text x="352.90" y="464.00" font-size="6.2" text-anchor="end" fill="#222" transform="rotate(-45 352.90 464.00)">20</text>
<circle cx="358.90" cy="452.80" r="2.40" fill="#7a7a7a" stroke="none" stroke-width="0.4"/>
<line x1="358.90" y1="457.00" x2="358.90" y2="458.90" stroke="#666" stroke-width="0.45"/>
<text x="360.40" y="464.00" font-size="6.2" text-anchor="end" fill="#222" transform="rotate(-45 360.40 464.00)">40</text>
<circle cx="366.30" cy="452.80" r="3.10" fill="#7a7a7a" stroke="none" stroke-width="0.4"/>
<line x1="366.30" y1="457.00" x2="366.30" y2="458.90" stroke="#666" stroke-width="0.45"/>
<text x="367.80" y="464.00" font-size="6.2" text-anchor="end" fill="#222" transform="rotate(-45 367.80 464.00)">60</text>
<circle cx="373.70" cy="452.80" r="3.70" fill="#7a7a7a" stroke="none" stroke-width="0.4"/>
<line x1="373.70" y1="457.00" x2="373.70" y2="458.90" stroke="#666" stroke-width="0.45"/>
<text x="375.20" y="464.00" font-size="6.2" text-anchor="end" fill="#222" transform="rotate(-45 375.20 464.00)">80</text>
<text x="62.30" y="428.40" font-size="7.4" text-anchor="end" fill="#222">Mean expression</text>
<text x="62.30" y="436.50" font-size="7.4" text-anchor="end" fill="#222">in group</text>
<text x="62.60" y="454.60" font-size="7.6" text-anchor="end" fill="#222">Fraction of cells</text>
<text x="62.60" y="462.40" font-size="7.6" text-anchor="end" fill="#222">in group (%)</text>
<text x="381.20" y="225.50" font-size="13" text-anchor="start" fill="#000" font-weight="bold" stroke="#000" stroke-width="0.35">e</text>
<rect x="421.22" y="365.97" width="2.46" height="2.46" fill="#fafafa" stroke="#111" stroke-width="0.6"/>
<circle cx="426.34" cy="367.21" r="1.45" fill="#fafafa" stroke="#111" stroke-width="0.6"/>
<path d="M428.43,378.41 L428.86,379.49 L430.02,379.56 L429.12,380.30 L429.41,381.43 L428.43,380.80 L427.45,381.43 L427.75,380.30 L426.85,379.56 L428.01,379.49Z" fill="#fafafa" stroke="#111" stroke-width="0.6"/>
<path d="M435.92,365.76 L437.30,366.76 L436.77,368.38 L435.07,368.38 L434.54,366.76Z" fill="#fafafa" stroke="#111" stroke-width="0.6"/>
<g transform="rotate(45 439.81 358.23)"><path d="M439.30,356.78h1.01v0.94h0.94v1.01h-0.94v0.94h-1.01v-0.94h-0.94v-1.01h0.94Z" fill="#fafafa" stroke="#111" stroke-width="0.6"/></g>
<path d="M443.16,329.92 L441.90,330.64 L440.65,329.92 L440.65,328.47 L441.90,327.74 L443.16,328.47Z" fill="#fafafa" stroke="#111" stroke-width="0.6"/>
<path d="M444.90,338.87 L446.35,336.26 L443.45,336.26Z" fill="#fafafa" stroke="#111" stroke-width="0.6"/>
<path d="M446.39,327.00 L447.84,329.61 L444.94,329.61Z" fill="#fafafa" stroke="#111" stroke-width="0.6"/>
<path d="M447.89,364.31 L449.34,361.70 L446.44,361.70Z" fill="#fafafa" stroke="#111" stroke-width="0.6"/>
<rect x="449.65" y="315.99" width="2.46" height="2.46" fill="#fafafa" stroke="#111" stroke-width="0.6"/>
<path d="M455.37,323.01 L456.82,320.40 L453.92,320.40Z" fill="#fafafa" stroke="#111" stroke-width="0.6"/>
<rect x="446.66" y="370.46" width="2.46" height="2.46" fill="#fafafa" stroke="#111" stroke-width="0.6"/>
<path d="M458.37,347.85 L459.82,345.24 L456.92,345.24Z" fill="#fafafa" stroke="#111" stroke-width="0.6"/>
<path d="M459.86,352.34 L461.31,349.73 L458.41,349.73Z" fill="#fafafa" stroke="#111" stroke-width="0.6"/>
<circle cx="459.86" cy="371.70" r="1.45" fill="#fafafa" stroke="#111" stroke-width="0.6"/>
<path d="M461.36,341.81 L462.74,342.81 L462.21,344.44 L460.51,344.44 L459.98,342.81Z" fill="#fafafa" stroke="#111" stroke-width="0.6"/>
<rect x="463.12" y="354.00" width="2.46" height="2.46" fill="#fafafa" stroke="#111" stroke-width="0.6"/>
<path d="M455.13,358.95 L453.88,359.68 L452.62,358.95 L452.62,357.50 L453.88,356.78 L455.13,357.50Z" fill="#fafafa" stroke="#111" stroke-width="0.6"/>
<circle cx="469.44" cy="369.30" r="1.45" fill="#fafafa" stroke="#111" stroke-width="0.6"/>
<rect x="464.62" y="328.56" width="2.46" height="2.46" fill="#fafafa" stroke="#111" stroke-width="0.6"/>
<rect x="470.60" y="330.06" width="2.46" height="2.46" fill="#fafafa" stroke="#111" stroke-width="0.6"/>
<rect x="472.10" y="337.54" width="2.46" height="2.46" fill="#fafafa" stroke="#111" stroke-width="0.6"/>
<path d="M476.32,341.81 L477.70,342.81 L477.18,344.44 L475.47,344.44 L474.95,342.81Z" fill="#fafafa" stroke="#111" stroke-width="0.6"/>
<path d="M480.57,336.50 L479.32,337.23 L478.06,336.50 L478.06,335.05 L479.32,334.33 L480.57,335.05Z" fill="#fafafa" stroke="#111" stroke-width="0.6"/>
<path d="M480.31,337.32h1.01v0.94h0.94v1.01h-0.94v0.94h-1.01v-0.94h-0.94v-1.01h0.94Z" fill="#fafafa" stroke="#111" stroke-width="0.6"/>
<path d="M483.81,334.38 L485.26,331.77 L482.36,331.77Z" fill="#fafafa" stroke="#111" stroke-width="0.6"/>
<circle cx="486.80" cy="323.81" r="1.45" fill="#fafafa" stroke="#111" stroke-width="0.6"/>
<path d="M486.34,323.06 L486.77,324.14 L487.93,324.21 L487.03,324.95 L487.32,326.08 L486.34,325.45 L485.36,326.08 L485.65,324.95 L484.75,324.21 L485.91,324.14Z" fill="#fafafa" stroke="#111" stroke-width="0.6"/>
<g transform="rotate(45 489.79 320.81)"><path d="M489.29,319.36h1.01v0.94h0.94v1.01h-0.94v0.94h-1.01v-0.94h-0.94v-1.01h0.94Z" fill="#fafafa" stroke="#111" stroke-width="0.6"/></g>
<path d="M489.39,321.84 L490.84,319.23 L487.94,319.23Z" fill="#fafafa" stroke="#111" stroke-width="0.6"/>
<path d="M492.79,328.40 L494.24,325.79 L491.34,325.79Z" fill="#fafafa" stroke="#111" stroke-width="0.6"/>
<path d="M491.11,328.01 L492.56,325.40 L489.66,325.40Z" fill="#fafafa" stroke="#111" stroke-width="0.6"/>
<path d="M489.79,334.33 L491.17,335.33 L490.65,336.95 L488.94,336.95 L488.41,335.33Z" fill="#fafafa" stroke="#111" stroke-width="0.6"/>
<path d="M484.80,341.81h1.01v0.94h0.94v1.01h-0.94v0.94h-1.01v-0.94h-0.94v-1.01h0.94Z" fill="#fafafa" stroke="#111" stroke-width="0.6"/>
<path d="M489.79,343.36 L491.24,340.75 L488.34,340.75Z" fill="#fafafa" stroke="#111" stroke-width="0.6"/>
<circle cx="488.30" cy="329.79" r="1.45" fill="#fafafa" stroke="#111" stroke-width="0.6"/>
<path d="M490.30,329.11 L491.75,330.56 L490.30,332.01 L488.85,330.56Z" fill="#fafafa" stroke="#111" stroke-width="0.6"/>
<path d="M480.81,316.37 L482.26,317.82 L480.81,319.27 L479.36,317.82Z" fill="#fafafa" stroke="#111" stroke-width="0.6"/>
<path d="M484.02,318.82 L483.24,319.61 L482.13,319.61 L481.34,318.82 L481.34,317.71 L482.13,316.93 L483.24,316.93 L484.02,317.71Z" fill="#fafafa" stroke="#111" stroke-width="0.6"/>
<circle cx="485.30" cy="314.83" r="1.45" fill="#fafafa" stroke="#111" stroke-width="0.6"/>
<path d="M485.51,313.71h1.01v0.94h0.94v1.01h-0.94v0.94h-1.01v-0.94h-0.94v-1.01h0.94Z" fill="#fafafa" stroke="#111" stroke-width="0.6"/>
<path d="M489.79,313.43 L491.24,310.82 L488.34,310.82Z" fill="#fafafa" stroke="#111" stroke-width="0.6"/>
<path d="M486.46,312.10 L487.84,313.10 L487.31,314.72 L485.61,314.72 L485.08,313.10Z" fill="#fafafa" stroke="#111" stroke-width="0.6"/>
<path d="M490.70,314.33 L492.15,311.72 L489.25,311.72Z" fill="#fafafa" stroke="#111" stroke-width="0.6"/>
<circle cx="494.28" cy="307.35" r="1.45" fill="#fafafa" stroke="#111" stroke-width="0.6"/>
<path d="M490.39,302.41h1.01v0.94h0.94v1.01h-0.94v0.94h-1.01v-0.94h-0.94v-1.01h0.94Z" fill="#fafafa" stroke="#111" stroke-width="0.6"/>
<path d="M492.68,305.05 L494.06,306.05 L493.53,307.68 L491.83,307.68 L491.30,306.05Z" fill="#fafafa" stroke="#111" stroke-width="0.6"/>
<path d="M495.78,319.15 L496.21,320.23 L497.37,320.30 L496.47,321.04 L496.76,322.16 L495.78,321.54 L494.80,322.16 L495.09,321.04 L494.19,320.30 L495.35,320.23Z" fill="#fafafa" stroke="#111" stroke-width="0.6"/>
<path d="M497.59,321.46 L496.33,322.18 L495.07,321.46 L495.07,320.01 L496.33,319.28 L497.59,320.01Z" fill="#fafafa" stroke="#111" stroke-width="0.6"/>
<path d="M498.77,317.92 L500.22,315.31 L497.32,315.31Z" fill="#fafafa" stroke="#111" stroke-width="0.6"/>
<path d="M501.07,315.76 L499.81,316.49 L498.56,315.76 L498.56,314.31 L499.81,313.59 L501.07,314.31Z" fill="#fafafa" stroke="#111" stroke-width="0.6"/>
<path d="M499.33,318.63 L500.78,316.02 L497.88,316.02Z" fill="#fafafa" stroke="#111" stroke-width="0.6"/>
<path d="M501.77,317.87 L503.22,319.32 L501.77,320.77 L500.32,319.32Z" fill="#fafafa" stroke="#111" stroke-width="0.6"/>
<path d="M501.92,322.96 L501.13,323.75 L500.02,323.75 L499.24,322.96 L499.24,321.85 L500.02,321.07 L501.13,321.07 L501.92,321.85Z" fill="#fafafa" stroke="#111" stroke-width="0.6"/>
<path d="M503.26,310.38 L504.64,311.39 L504.11,313.01 L502.41,313.01 L501.88,311.39Z" fill="#fafafa" stroke="#111" stroke-width="0.6"/>
<path d="M504.38,315.82 L505.83,313.21 L502.93,313.21Z" fill="#fafafa" stroke="#111" stroke-width="0.6"/>
<path d="M502.15,312.10 L503.60,309.49 L500.70,309.49Z" fill="#fafafa" stroke="#111" stroke-width="0.6"/>
<path d="M504.76,302.90 L506.14,303.90 L505.61,305.53 L503.91,305.53 L503.38,303.90Z" fill="#fafafa" stroke="#111" stroke-width="0.6"/>
<path d="M504.07,305.73 L505.52,303.12 L502.62,303.12Z" fill="#fafafa" stroke="#111" stroke-width="0.6"/>
<path d="M505.90,303.35 L507.35,304.80 L505.90,306.25 L504.45,304.80Z" fill="#fafafa" stroke="#111" stroke-width="0.6"/>
<path d="M507.75,310.44 L509.20,307.83 L506.30,307.83Z" fill="#fafafa" stroke="#111" stroke-width="0.6"/>
<path d="M508.20,307.48 L507.41,308.27 L506.30,308.27 L505.52,307.48 L505.52,306.37 L506.30,305.59 L507.41,305.59 L508.20,306.37Z" fill="#fafafa" stroke="#111" stroke-width="0.6"/>
<path d="M506.82,312.63 L508.27,310.02 L505.37,310.02Z" fill="#fafafa" stroke="#111" stroke-width="0.6"/>
<path d="M498.77,328.34 L500.22,329.79 L498.77,331.24 L497.32,329.79Z" fill="#fafafa" stroke="#111" stroke-width="0.6"/>
<path d="M497.32,328.78 L498.70,329.79 L498.17,331.41 L496.47,331.41 L495.94,329.79Z" fill="#fafafa" stroke="#111" stroke-width="0.6"/>
<rect x="500.53" y="331.55" width="2.46" height="2.46" fill="#fafafa" stroke="#111" stroke-width="0.6"/>
<path d="M468.84,346.16 L470.29,348.77 L467.39,348.77Z" fill="#fafafa" stroke="#111" stroke-width="0.6"/>
<path d="M474.32,350.79h1.01v0.94h0.94v1.01h-0.94v0.94h-1.01v-0.94h-0.94v-1.01h0.94Z" fill="#fafafa" stroke="#111" stroke-width="0.6"/>
<path d="M471.83,352.14 L473.28,354.75 L470.38,354.75Z" fill="#fafafa" stroke="#111" stroke-width="0.6"/>
<path d="M477.82,346.30 L479.20,347.30 L478.67,348.93 L476.97,348.93 L476.44,347.30Z" fill="#fafafa" stroke="#111" stroke-width="0.6"/>
<path d="M480.81,349.08 L481.24,350.16 L482.40,350.23 L481.50,350.97 L481.79,352.09 L480.81,351.47 L479.83,352.09 L480.12,350.97 L479.23,350.23 L480.39,350.16Z" fill="#fafafa" stroke="#111" stroke-width="0.6"/>
<path d="M462.35,349.30h1.01v0.94h0.94v1.01h-0.94v0.94h-1.01v-0.94h-0.94v-1.01h0.94Z" fill="#fafafa" stroke="#111" stroke-width="0.6"/>
<g transform="rotate(45 467.35 358.23)"><path d="M466.84,356.78h1.01v0.94h0.94v1.01h-0.94v0.94h-1.01v-0.94h-0.94v-1.01h0.94Z" fill="#fafafa" stroke="#111" stroke-width="0.6"/></g>
<path d="M479.32,358.27 L480.77,359.72 L479.32,361.17 L477.87,359.72Z" fill="#fafafa" stroke="#111" stroke-width="0.6"/>
<path d="M489.79,346.16 L491.24,348.77 L488.34,348.77Z" fill="#fafafa" stroke="#111" stroke-width="0.6"/>
<path d="M492.28,349.30h1.01v0.94h0.94v1.01h-0.94v0.94h-1.01v-0.94h-0.94v-1.01h0.94Z" fill="#fafafa" stroke="#111" stroke-width="0.6"/>
<path d="M483.81,306.79 L485.26,308.24 L483.81,309.69 L482.36,308.24Z" fill="#fafafa" stroke="#111" stroke-width="0.6"/>
<g transform="rotate(45 484.57 305.56)"><path d="M484.07,304.11h1.01v0.94h0.94v1.01h-0.94v0.94h-1.01v-0.94h-0.94v-1.01h0.94Z" fill="#fafafa" stroke="#111" stroke-width="0.6"/></g>
<path d="M488.14,303.41 L487.36,304.20 L486.25,304.20 L485.46,303.41 L485.46,302.30 L486.25,301.52 L487.36,301.52 L488.14,302.30Z" fill="#fafafa" stroke="#111" stroke-width="0.6"/>
<path d="M486.38,303.76h1.01v0.94h0.94v1.01h-0.94v0.94h-1.01v-0.94h-0.94v-1.01h0.94Z" fill="#fafafa" stroke="#111" stroke-width="0.6"/>
<rect x="490.06" y="298.63" width="2.46" height="2.46" fill="#fafafa" stroke="#111" stroke-width="0.6"/>
<g transform="rotate(45 487.26 299.22)"><path d="M486.75,297.77h1.01v0.94h0.94v1.01h-0.94v0.94h-1.01v-0.94h-0.94v-1.01h0.94Z" fill="#fafafa" stroke="#111" stroke-width="0.6"/></g>
<g transform="rotate(45 491.10 298.39)"><path d="M490.59,296.94h1.01v0.94h0.94v1.01h-0.94v0.94h-1.01v-0.94h-0.94v-1.01h0.94Z" fill="#fafafa" stroke="#111" stroke-width="0.6"/></g>
<path d="M495.78,301.19 L496.21,302.27 L497.37,302.34 L496.47,303.08 L496.76,304.20 L495.78,303.58 L494.80,304.20 L495.09,303.08 L494.19,302.34 L495.35,302.27Z" fill="#fafafa" stroke="#111" stroke-width="0.6"/>
<rect x="495.54" y="301.50" width="2.46" height="2.46" fill="#fafafa" stroke="#111" stroke-width="0.6"/>
<path d="M494.48,304.90 L493.70,305.69 L492.59,305.69 L491.80,304.90 L491.80,303.79 L492.59,303.01 L493.70,303.01 L494.48,303.79Z" fill="#fafafa" stroke="#111" stroke-width="0.6"/>
<rect x="499.04" y="301.62" width="2.46" height="2.46" fill="#fafafa" stroke="#111" stroke-width="0.6"/>
<path d="M501.61,303.30 L502.99,304.30 L502.46,305.92 L500.76,305.92 L500.23,304.30Z" fill="#fafafa" stroke="#111" stroke-width="0.6"/>
<path d="M502.86,302.06 L504.31,303.51 L502.86,304.96 L501.41,303.51Z" fill="#fafafa" stroke="#111" stroke-width="0.6"/>
<path d="M502.75,296.92h1.01v0.94h0.94v1.01h-0.94v0.94h-1.01v-0.94h-0.94v-1.01h0.94Z" fill="#fafafa" stroke="#111" stroke-width="0.6"/>
<path d="M503.50,294.17 L504.95,296.78 L502.05,296.78Z" fill="#fafafa" stroke="#111" stroke-width="0.6"/>
<path d="M504.37,295.81 L505.75,296.82 L505.22,298.44 L503.52,298.44 L502.99,296.82Z" fill="#fafafa" stroke="#111" stroke-width="0.6"/>
<rect x="482.57" y="352.51" width="2.46" height="2.46" fill="#fafafa" stroke="#111" stroke-width="0.6"/>
<g transform="rotate(45 495.78 353.74)"><path d="M495.27,352.29h1.01v0.94h0.94v1.01h-0.94v0.94h-1.01v-0.94h-0.94v-1.01h0.94Z" fill="#fafafa" stroke="#111" stroke-width="0.6"/></g>
<path d="M471.83,364.26 L473.28,365.71 L471.83,367.16 L470.38,365.71Z" fill="#fafafa" stroke="#111" stroke-width="0.6"/>
<rect x="467.61" y="362.98" width="2.46" height="2.46" fill="#fafafa" stroke="#111" stroke-width="0.6"/>
<path d="M507.75,298.27 L509.20,300.88 L506.30,300.88Z" fill="#fafafa" stroke="#111" stroke-width="0.6"/>
<path d="M506.85,298.93 L508.30,296.32 L505.40,296.32Z" fill="#fafafa" stroke="#111" stroke-width="0.6"/>
<path d="M506.01,297.31 L507.46,299.92 L504.56,299.92Z" fill="#fafafa" stroke="#111" stroke-width="0.6"/>
<path d="M510.75,295.20 L511.17,296.28 L512.33,296.35 L511.43,297.09 L511.73,298.22 L510.75,297.59 L509.77,298.22 L510.06,297.09 L509.16,296.35 L510.32,296.28Z" fill="#fafafa" stroke="#111" stroke-width="0.6"/>
<path d="M513.32,291.21 L514.77,293.82 L511.87,293.82Z" fill="#fafafa" stroke="#111" stroke-width="0.6"/>
<path d="M508.12,295.85 L509.57,297.30 L508.12,298.75 L506.67,297.30Z" fill="#fafafa" stroke="#111" stroke-width="0.6"/>
<path d="M513.74,298.19 L514.16,299.28 L515.32,299.35 L514.43,300.09 L514.72,301.21 L513.74,300.59 L512.76,301.21 L513.05,300.09 L512.15,299.35 L513.31,299.28Z" fill="#fafafa" stroke="#111" stroke-width="0.6"/>
<path d="M516.63,299.35 L517.05,300.43 L518.21,300.50 L517.31,301.24 L517.61,302.37 L516.63,301.74 L515.64,302.37 L515.94,301.24 L515.04,300.50 L516.20,300.43Z" fill="#fafafa" stroke="#111" stroke-width="0.6"/>
<path d="M509.81,293.88h1.01v0.94h0.94v1.01h-0.94v0.94h-1.01v-0.94h-0.94v-1.01h0.94Z" fill="#fafafa" stroke="#111" stroke-width="0.6"/>
<path d="M516.73,301.19 L517.16,302.27 L518.32,302.34 L517.42,303.08 L517.71,304.20 L516.73,303.58 L515.75,304.20 L516.04,303.08 L515.15,302.34 L516.31,302.27Z" fill="#fafafa" stroke="#111" stroke-width="0.6"/>
<circle cx="517.45" cy="301.38" r="1.45" fill="#fafafa" stroke="#111" stroke-width="0.6"/>
<path d="M514.72,302.95 L515.14,304.03 L516.30,304.10 L515.41,304.84 L515.70,305.96 L514.72,305.34 L513.74,305.96 L514.03,304.84 L513.13,304.10 L514.29,304.03Z" fill="#fafafa" stroke="#111" stroke-width="0.6"/>
<path d="M519.72,299.96 L521.17,297.35 L518.27,297.35Z" fill="#fafafa" stroke="#111" stroke-width="0.6"/>
<path d="M521.93,297.23 L523.31,298.23 L522.78,299.85 L521.08,299.85 L520.55,298.23Z" fill="#fafafa" stroke="#111" stroke-width="0.6"/>
<path d="M520.17,297.70 L521.55,298.70 L521.02,300.32 L519.31,300.32 L518.79,298.70Z" fill="#fafafa" stroke="#111" stroke-width="0.6"/>
<circle cx="522.72" cy="293.88" r="1.45" fill="#fafafa" stroke="#111" stroke-width="0.6"/>
<path d="M525.91,293.52 L527.36,296.13 L524.46,296.13Z" fill="#fafafa" stroke="#111" stroke-width="0.6"/>
<path d="M523.65,293.19 L524.08,294.28 L525.24,294.35 L524.34,295.09 L524.63,296.21 L523.65,295.59 L522.67,296.21 L522.96,295.09 L522.07,294.35 L523.23,294.28Z" fill="#fafafa" stroke="#111" stroke-width="0.6"/>
<path d="M525.71,292.48 L527.16,289.87 L524.26,289.87Z" fill="#fafafa" stroke="#111" stroke-width="0.6"/>
<path d="M523.83,294.17 L522.57,294.90 L521.32,294.17 L521.32,292.72 L522.57,292.00 L523.83,292.72Z" fill="#fafafa" stroke="#111" stroke-width="0.6"/>
<path d="M530.04,288.44 L529.26,289.23 L528.15,289.23 L527.36,288.44 L527.36,287.33 L528.15,286.55 L529.26,286.55 L530.04,287.33Z" fill="#fafafa" stroke="#111" stroke-width="0.6"/>
<path d="M530.61,290.54 L532.06,287.93 L529.16,287.93Z" fill="#fafafa" stroke="#111" stroke-width="0.6"/>
<path d="M531.19,283.45h1.01v0.94h0.94v1.01h-0.94v0.94h-1.01v-0.94h-0.94v-1.01h0.94Z" fill="#fafafa" stroke="#111" stroke-width="0.6"/>
<path d="M527.24,282.18h1.01v0.94h0.94v1.01h-0.94v0.94h-1.01v-0.94h-0.94v-1.01h0.94Z" fill="#fafafa" stroke="#111" stroke-width="0.6"/>
<path d="M534.69,280.45 L536.14,281.90 L534.69,283.35 L533.24,281.90Z" fill="#fafafa" stroke="#111" stroke-width="0.6"/>
<path d="M535.87,276.83h1.01v0.94h0.94v1.01h-0.94v0.94h-1.01v-0.94h-0.94v-1.01h0.94Z" fill="#fafafa" stroke="#111" stroke-width="0.6"/>
<path d="M537.18,277.46h1.01v0.94h0.94v1.01h-0.94v0.94h-1.01v-0.94h-0.94v-1.01h0.94Z" fill="#fafafa" stroke="#111" stroke-width="0.6"/>
<path d="M538.65,281.50 L537.87,282.29 L536.76,282.29 L535.98,281.50 L535.98,280.39 L536.76,279.61 L537.87,279.61 L538.65,280.39Z" fill="#fafafa" stroke="#111" stroke-width="0.6"/>
<path d="M542.02,277.97 L541.23,278.75 L540.12,278.75 L539.34,277.97 L539.34,276.86 L540.12,276.07 L541.23,276.07 L542.02,276.86Z" fill="#fafafa" stroke="#111" stroke-width="0.6"/>
<circle cx="538.05" cy="280.63" r="1.45" fill="#fafafa" stroke="#111" stroke-width="0.6"/>
<rect x="542.44" y="274.09" width="2.46" height="2.46" fill="#fafafa" stroke="#111" stroke-width="0.6"/>
<path d="M546.11,275.57 L545.33,276.36 L544.22,276.36 L543.43,275.57 L543.43,274.46 L544.22,273.68 L545.33,273.68 L546.11,274.46Z" fill="#fafafa" stroke="#111" stroke-width="0.6"/>
<rect x="548.42" y="274.68" width="2.46" height="2.46" fill="#fafafa" stroke="#111" stroke-width="0.6"/>
<path d="M550.31,275.62 L551.76,278.23 L548.86,278.23Z" fill="#fafafa" stroke="#111" stroke-width="0.6"/>
<g transform="rotate(45 552.65 278.91)"><path d="M552.14,277.46h1.01v0.94h0.94v1.01h-0.94v0.94h-1.01v-0.94h-0.94v-1.01h0.94Z" fill="#fafafa" stroke="#111" stroke-width="0.6"/></g>
<path d="M554.23,281.76 L553.44,282.54 L552.33,282.54 L551.55,281.76 L551.55,280.65 L552.33,279.86 L553.44,279.86 L554.23,280.65Z" fill="#fafafa" stroke="#111" stroke-width="0.6"/>
<path d="M555.64,280.31 L557.09,282.92 L554.19,282.92Z" fill="#fafafa" stroke="#111" stroke-width="0.6"/>
<rect x="553.09" y="279.84" width="2.46" height="2.46" fill="#fafafa" stroke="#111" stroke-width="0.6"/>
<path d="M558.64,286.49 L560.09,283.88 L557.19,283.88Z" fill="#fafafa" stroke="#111" stroke-width="0.6"/>
<path d="M560.72,286.55 L562.17,283.94 L559.27,283.94Z" fill="#fafafa" stroke="#111" stroke-width="0.6"/>
<path d="M562.88,288.61 L561.63,289.34 L560.37,288.61 L560.37,287.16 L561.63,286.44 L562.88,287.16Z" fill="#fafafa" stroke="#111" stroke-width="0.6"/>
<path d="M559.87,288.33 L561.25,289.33 L560.72,290.96 L559.02,290.96 L558.49,289.33Z" fill="#fafafa" stroke="#111" stroke-width="0.6"/>
<path d="M543.67,283.23 L544.10,284.31 L545.26,284.38 L544.36,285.12 L544.65,286.25 L543.67,285.62 L542.69,286.25 L542.98,285.12 L542.08,284.38 L543.24,284.31Z" fill="#fafafa" stroke="#111" stroke-width="0.6"/>
<path d="M546.09,282.56h1.01v0.94h0.94v1.01h-0.94v0.94h-1.01v-0.94h-0.94v-1.01h0.94Z" fill="#fafafa" stroke="#111" stroke-width="0.6"/>
<path d="M548.00,288.44 L547.22,289.23 L546.11,289.23 L545.32,288.44 L545.32,287.33 L546.11,286.55 L547.22,286.55 L548.00,287.33Z" fill="#fafafa" stroke="#111" stroke-width="0.6"/>
<circle cx="543.90" cy="287.62" r="1.45" fill="#fafafa" stroke="#111" stroke-width="0.6"/>
<rect x="548.42" y="289.65" width="2.46" height="2.46" fill="#fafafa" stroke="#111" stroke-width="0.6"/>
<path d="M549.36,288.69 L550.81,291.30 L547.91,291.30Z" fill="#fafafa" stroke="#111" stroke-width="0.6"/>
<path d="M552.14,292.43h1.01v0.94h0.94v1.01h-0.94v0.94h-1.01v-0.94h-0.94v-1.01h0.94Z" fill="#fafafa" stroke="#111" stroke-width="0.6"/>
<path d="M556.80,292.38 L556.01,293.16 L554.90,293.16 L554.12,292.38 L554.12,291.27 L554.90,290.48 L556.01,290.48 L556.80,291.27Z" fill="#fafafa" stroke="#111" stroke-width="0.6"/>
<circle cx="555.64" cy="296.87" r="1.45" fill="#fafafa" stroke="#111" stroke-width="0.6"/>
<g transform="rotate(45 558.16 294.33)"><path d="M557.66,292.88h1.01v0.94h0.94v1.01h-0.94v0.94h-1.01v-0.94h-0.94v-1.01h0.94Z" fill="#fafafa" stroke="#111" stroke-width="0.6"/></g>
<path d="M540.17,289.43h1.01v0.94h0.94v1.01h-0.94v0.94h-1.01v-0.94h-0.94v-1.01h0.94Z" fill="#fafafa" stroke="#111" stroke-width="0.6"/>
<path d="M540.44,292.70 L539.66,293.49 L538.55,293.49 L537.76,292.70 L537.76,291.59 L538.55,290.81 L539.66,290.81 L540.44,291.59Z" fill="#fafafa" stroke="#111" stroke-width="0.6"/>
<path d="M537.18,292.43h1.01v0.94h0.94v1.01h-0.94v0.94h-1.01v-0.94h-0.94v-1.01h0.94Z" fill="#fafafa" stroke="#111" stroke-width="0.6"/>
<path d="M541.20,296.32 L539.94,297.04 L538.68,296.32 L538.68,294.87 L539.94,294.14 L541.20,294.87Z" fill="#fafafa" stroke="#111" stroke-width="0.6"/>
<path d="M538.30,292.68 L539.75,294.13 L538.30,295.58 L536.85,294.13Z" fill="#fafafa" stroke="#111" stroke-width="0.6"/>
<path d="M534.18,296.92h1.01v0.94h0.94v1.01h-0.94v0.94h-1.01v-0.94h-0.94v-1.01h0.94Z" fill="#fafafa" stroke="#111" stroke-width="0.6"/>
<path d="M536.33,300.07 L535.55,300.86 L534.44,300.86 L533.66,300.07 L533.66,298.96 L534.44,298.18 L535.55,298.18 L536.33,298.96Z" fill="#fafafa" stroke="#111" stroke-width="0.6"/>
<path d="M533.87,297.42h1.01v0.94h0.94v1.01h-0.94v0.94h-1.01v-0.94h-0.94v-1.01h0.94Z" fill="#fafafa" stroke="#111" stroke-width="0.6"/>
<path d="M531.70,298.41 L533.08,299.41 L532.55,301.04 L530.84,301.04 L530.32,299.41Z" fill="#fafafa" stroke="#111" stroke-width="0.6"/>
<circle cx="532.84" cy="299.86" r="1.45" fill="#fafafa" stroke="#111" stroke-width="0.6"/>
<path d="M533.07,299.21 L533.50,300.29 L534.66,300.37 L533.76,301.10 L534.05,302.23 L533.07,301.61 L532.09,302.23 L532.38,301.10 L531.49,300.37 L532.65,300.29Z" fill="#fafafa" stroke="#111" stroke-width="0.6"/>
<path d="M528.70,304.45 L530.15,301.84 L527.25,301.84Z" fill="#fafafa" stroke="#111" stroke-width="0.6"/>
<path d="M532.73,301.91 L534.18,304.52 L531.28,304.52Z" fill="#fafafa" stroke="#111" stroke-width="0.6"/>
<path d="M529.27,302.74 L528.49,303.52 L527.38,303.52 L526.59,302.74 L526.59,301.63 L527.38,300.85 L528.49,300.85 L529.27,301.63Z" fill="#fafafa" stroke="#111" stroke-width="0.6"/>
<path d="M526.97,302.08 L525.71,302.81 L524.46,302.08 L524.46,300.63 L525.71,299.91 L526.97,300.63Z" fill="#fafafa" stroke="#111" stroke-width="0.6"/>
<rect x="524.45" y="301.97" width="2.46" height="2.46" fill="#fafafa" stroke="#111" stroke-width="0.6"/>
<circle cx="525.11" cy="302.05" r="1.45" fill="#fafafa" stroke="#111" stroke-width="0.6"/>
<path d="M522.72,307.44 L524.17,304.83 L521.27,304.83Z" fill="#fafafa" stroke="#111" stroke-width="0.6"/>
<path d="M526.39,299.27 L527.84,300.72 L526.39,302.17 L524.94,300.72Z" fill="#fafafa" stroke="#111" stroke-width="0.6"/>
<path d="M520.19,304.84h1.01v0.94h0.94v1.01h-0.94v0.94h-1.01v-0.94h-0.94v-1.01h0.94Z" fill="#fafafa" stroke="#111" stroke-width="0.6"/>
<rect x="518.49" y="310.60" width="2.46" height="2.46" fill="#fafafa" stroke="#111" stroke-width="0.6"/>
<path d="M521.86,312.87 L521.08,313.65 L519.97,313.65 L519.18,312.87 L519.18,311.76 L519.97,310.97 L521.08,310.97 L521.86,311.76Z" fill="#fafafa" stroke="#111" stroke-width="0.6"/>
<circle cx="518.95" cy="313.01" r="1.45" fill="#fafafa" stroke="#111" stroke-width="0.6"/>
<rect x="512.51" y="313.60" width="2.46" height="2.46" fill="#fafafa" stroke="#111" stroke-width="0.6"/>
<path d="M514.30,312.33 L515.75,313.78 L514.30,315.23 L512.85,313.78Z" fill="#fafafa" stroke="#111" stroke-width="0.6"/>
<path d="M519.45,316.02 L518.67,316.81 L517.56,316.81 L516.77,316.02 L516.77,314.91 L517.56,314.13 L518.67,314.13 L519.45,314.91Z" fill="#fafafa" stroke="#111" stroke-width="0.6"/>
<g transform="rotate(45 510.75 317.82)"><path d="M510.24,316.37h1.01v0.94h0.94v1.01h-0.94v0.94h-1.01v-0.94h-0.94v-1.01h0.94Z" fill="#fafafa" stroke="#111" stroke-width="0.6"/></g>
<path d="M510.98,318.18 L510.19,318.96 L509.08,318.96 L508.30,318.18 L508.30,317.07 L509.08,316.28 L510.19,316.28 L510.98,317.07Z" fill="#fafafa" stroke="#111" stroke-width="0.6"/>
<path d="M510.34,319.30 L511.79,316.69 L508.89,316.69Z" fill="#fafafa" stroke="#111" stroke-width="0.6"/>
<path d="M516.73,319.36 L518.18,320.81 L516.73,322.26 L515.28,320.81Z" fill="#fafafa" stroke="#111" stroke-width="0.6"/>
<path d="M513.16,320.49 L512.38,321.28 L511.27,321.28 L510.48,320.49 L510.48,319.38 L511.27,318.60 L512.38,318.60 L513.16,319.38Z" fill="#fafafa" stroke="#111" stroke-width="0.6"/>
<path d="M522.72,319.36 L524.10,320.37 L523.57,321.99 L521.87,321.99 L521.34,320.37Z" fill="#fafafa" stroke="#111" stroke-width="0.6"/>
<path d="M524.53,320.31 L525.98,317.70 L523.08,317.70Z" fill="#fafafa" stroke="#111" stroke-width="0.6"/>
<g transform="rotate(45 525.71 316.32)"><path d="M525.20,314.87h1.01v0.94h0.94v1.01h-0.94v0.94h-1.01v-0.94h-0.94v-1.01h0.94Z" fill="#fafafa" stroke="#111" stroke-width="0.6"/></g>
<rect x="524.34" y="317.00" width="2.46" height="2.46" fill="#fafafa" stroke="#111" stroke-width="0.6"/>
<path d="M528.59,319.56 L527.81,320.35 L526.70,320.35 L525.91,319.56 L525.91,318.45 L526.70,317.67 L527.81,317.67 L528.59,318.45Z" fill="#fafafa" stroke="#111" stroke-width="0.6"/>
<path d="M531.70,314.66 L532.12,315.74 L533.28,315.81 L532.39,316.55 L532.68,317.67 L531.70,317.05 L530.72,317.67 L531.01,316.55 L530.11,315.81 L531.27,315.74Z" fill="#fafafa" stroke="#111" stroke-width="0.6"/>
<circle cx="528.29" cy="315.62" r="1.45" fill="#fafafa" stroke="#111" stroke-width="0.6"/>
<path d="M532.42,318.00 L531.64,318.79 L530.53,318.79 L529.74,318.00 L529.74,316.89 L530.53,316.11 L531.64,316.11 L532.42,316.89Z" fill="#fafafa" stroke="#111" stroke-width="0.6"/>
<circle cx="537.68" cy="317.82" r="1.45" fill="#fafafa" stroke="#111" stroke-width="0.6"/>
<circle cx="539.87" cy="312.46" r="1.45" fill="#fafafa" stroke="#111" stroke-width="0.6"/>
<circle cx="539.64" cy="315.22" r="1.45" fill="#fafafa" stroke="#111" stroke-width="0.6"/>
<path d="M540.68,313.43 L542.13,310.82 L539.23,310.82Z" fill="#fafafa" stroke="#111" stroke-width="0.6"/>
<path d="M542.04,310.45 L543.49,307.84 L540.59,307.84Z" fill="#fafafa" stroke="#111" stroke-width="0.6"/>
<path d="M540.99,312.54 L542.44,313.99 L540.99,315.44 L539.54,313.99Z" fill="#fafafa" stroke="#111" stroke-width="0.6"/>
<path d="M543.67,310.44 L545.12,307.83 L542.22,307.83Z" fill="#fafafa" stroke="#111" stroke-width="0.6"/>
<path d="M543.37,307.77 L544.75,308.78 L544.22,310.40 L542.52,310.40 L541.99,308.78Z" fill="#fafafa" stroke="#111" stroke-width="0.6"/>
<path d="M540.68,302.90 L542.13,304.35 L540.68,305.80 L539.23,304.35Z" fill="#fafafa" stroke="#111" stroke-width="0.6"/>
<path d="M542.27,303.18 L543.65,304.19 L543.12,305.81 L541.42,305.81 L540.89,304.19Z" fill="#fafafa" stroke="#111" stroke-width="0.6"/>
<path d="M540.01,305.66h1.01v0.94h0.94v1.01h-0.94v0.94h-1.01v-0.94h-0.94v-1.01h0.94Z" fill="#fafafa" stroke="#111" stroke-width="0.6"/>
<g transform="rotate(45 546.66 301.36)"><path d="M546.16,299.91h1.01v0.94h0.94v1.01h-0.94v0.94h-1.01v-0.94h-0.94v-1.01h0.94Z" fill="#fafafa" stroke="#111" stroke-width="0.6"/></g>
<g transform="rotate(45 548.76 300.77)"><path d="M548.25,299.32h1.01v0.94h0.94v1.01h-0.94v0.94h-1.01v-0.94h-0.94v-1.01h0.94Z" fill="#fafafa" stroke="#111" stroke-width="0.6"/></g>
<path d="M549.66,298.27 L551.11,300.88 L548.21,300.88Z" fill="#fafafa" stroke="#111" stroke-width="0.6"/>
<g transform="rotate(45 555.15 297.57)"><path d="M554.64,296.12h1.01v0.94h0.94v1.01h-0.94v0.94h-1.01v-0.94h-0.94v-1.01h0.94Z" fill="#fafafa" stroke="#111" stroke-width="0.6"/></g>
<path d="M507.75,322.36 L509.13,323.36 L508.60,324.98 L506.90,324.98 L506.37,323.36Z" fill="#fafafa" stroke="#111" stroke-width="0.6"/>
<path d="M509.40,324.92 L510.85,322.31 L507.95,322.31Z" fill="#fafafa" stroke="#111" stroke-width="0.6"/>
<path d="M513.74,325.21 L515.19,327.82 L512.29,327.82Z" fill="#fafafa" stroke="#111" stroke-width="0.6"/>
<path d="M513.98,329.66 L515.43,327.05 L512.53,327.05Z" fill="#fafafa" stroke="#111" stroke-width="0.6"/>
<path d="M521.06,324.36 L520.28,325.15 L519.17,325.15 L518.39,324.36 L518.39,323.25 L519.17,322.47 L520.28,322.47 L521.06,323.25Z" fill="#fafafa" stroke="#111" stroke-width="0.6"/>
<path d="M520.12,323.51 L521.57,324.96 L520.12,326.41 L518.67,324.96Z" fill="#fafafa" stroke="#111" stroke-width="0.6"/>
<path d="M525.71,325.35 L527.16,326.80 L525.71,328.25 L524.26,326.80Z" fill="#fafafa" stroke="#111" stroke-width="0.6"/>
<path d="M522.96,322.42 L523.39,323.50 L524.55,323.57 L523.65,324.31 L523.94,325.43 L522.96,324.81 L521.98,325.43 L522.27,324.31 L521.38,323.57 L522.54,323.50Z" fill="#fafafa" stroke="#111" stroke-width="0.6"/>
<path d="M531.70,319.36 L533.15,320.81 L531.70,322.26 L530.25,320.81Z" fill="#fafafa" stroke="#111" stroke-width="0.6"/>
<g transform="rotate(45 532.80 319.08)"><path d="M532.30,317.63h1.01v0.94h0.94v1.01h-0.94v0.94h-1.01v-0.94h-0.94v-1.01h0.94Z" fill="#fafafa" stroke="#111" stroke-width="0.6"/></g>
<rect x="503.53" y="313.60" width="2.46" height="2.46" fill="#fafafa" stroke="#111" stroke-width="0.6"/>
<path d="M502.71,310.29 L504.16,312.90 L501.26,312.90Z" fill="#fafafa" stroke="#111" stroke-width="0.6"/>
<path d="M507.04,314.50 L507.46,315.59 L508.62,315.66 L507.73,316.40 L508.02,317.52 L507.04,316.90 L506.06,317.52 L506.35,316.40 L505.45,315.66 L506.61,315.59Z" fill="#fafafa" stroke="#111" stroke-width="0.6"/>
<circle cx="498.77" cy="311.83" r="1.45" fill="#fafafa" stroke="#111" stroke-width="0.6"/>
<rect x="500.49" y="308.73" width="2.46" height="2.46" fill="#fafafa" stroke="#111" stroke-width="0.6"/>
<circle cx="498.77" cy="309.78" r="1.45" fill="#fafafa" stroke="#111" stroke-width="0.6"/>
<path d="M555.13,311.88h1.01v0.94h0.94v1.01h-0.94v0.94h-1.01v-0.94h-0.94v-1.01h0.94Z" fill="#fafafa" stroke="#111" stroke-width="0.6"/>
<g transform="rotate(45 557.17 316.51)"><path d="M556.67,315.06h1.01v0.94h0.94v1.01h-0.94v0.94h-1.01v-0.94h-0.94v-1.01h0.94Z" fill="#fafafa" stroke="#111" stroke-width="0.6"/></g>
<path d="M551.00,313.89 L550.21,314.67 L549.10,314.67 L548.32,313.89 L548.32,312.78 L549.10,311.99 L550.21,311.99 L551.00,312.78Z" fill="#fafafa" stroke="#111" stroke-width="0.6"/>
<path d="M547.88,314.86 L549.33,317.47 L546.43,317.47Z" fill="#fafafa" stroke="#111" stroke-width="0.6"/>
<rect x="561.89" y="267.20" width="2.46" height="2.46" fill="#fafafa" stroke="#111" stroke-width="0.6"/>
<circle cx="569.11" cy="269.93" r="1.45" fill="#fafafa" stroke="#111" stroke-width="0.6"/>
<path d="M582.07,266.98h1.01v0.94h0.94v1.01h-0.94v0.94h-1.01v-0.94h-0.94v-1.01h0.94Z" fill="#fafafa" stroke="#111" stroke-width="0.6"/>
<g transform="rotate(45 587.07 263.94)"><path d="M586.56,262.49h1.01v0.94h0.94v1.01h-0.94v0.94h-1.01v-0.94h-0.94v-1.01h0.94Z" fill="#fafafa" stroke="#111" stroke-width="0.6"/></g>
<path d="M593.06,262.35 L594.51,264.96 L591.61,264.96Z" fill="#fafafa" stroke="#111" stroke-width="0.6"/>
<path d="M579.59,283.50 L581.04,280.89 L578.14,280.89Z" fill="#fafafa" stroke="#111" stroke-width="0.6"/>
<g transform="rotate(45 585.57 283.40)"><path d="M585.07,281.95h1.01v0.94h0.94v1.01h-0.94v0.94h-1.01v-0.94h-0.94v-1.01h0.94Z" fill="#fafafa" stroke="#111" stroke-width="0.6"/></g>
<path d="M583.92,288.44 L583.13,289.23 L582.03,289.23 L581.24,288.44 L581.24,287.33 L582.03,286.55 L583.13,286.55 L583.92,287.33Z" fill="#fafafa" stroke="#111" stroke-width="0.6"/>
<path d="M579.35,293.10 L578.09,293.83 L576.83,293.10 L576.83,291.65 L578.09,290.93 L579.35,291.65Z" fill="#fafafa" stroke="#111" stroke-width="0.6"/>
<path d="M573.60,299.91 L575.05,301.36 L573.60,302.81 L572.15,301.36Z" fill="#fafafa" stroke="#111" stroke-width="0.6"/>
<path d="M567.46,307.90 L566.67,308.68 L565.56,308.68 L564.78,307.90 L564.78,306.79 L565.56,306.01 L566.67,306.01 L567.46,306.79Z" fill="#fafafa" stroke="#111" stroke-width="0.6"/>
<circle cx="568.09" cy="306.99" r="1.45" fill="#fafafa" stroke="#111" stroke-width="0.6"/>
<path d="M591.56,293.92 L592.94,294.92 L592.41,296.55 L590.71,296.55 L590.18,294.92Z" fill="#fafafa" stroke="#111" stroke-width="0.6"/>
<rect x="554.41" y="276.18" width="2.46" height="2.46" fill="#fafafa" stroke="#111" stroke-width="0.6"/>
<rect x="550.47" y="278.99" width="2.46" height="2.46" fill="#fafafa" stroke="#111" stroke-width="0.6"/>
<path d="M553.99,273.48 L553.20,274.26 L552.09,274.26 L551.31,273.48 L551.31,272.37 L552.09,271.58 L553.20,271.58 L553.99,272.37Z" fill="#fafafa" stroke="#111" stroke-width="0.6"/>
<path d="M552.46,270.27 L553.84,271.27 L553.31,272.89 L551.60,272.89 L551.08,271.27Z" fill="#fafafa" stroke="#111" stroke-width="0.6"/>
<circle cx="566.12" cy="272.92" r="1.45" fill="#fafafa" stroke="#111" stroke-width="0.6"/>
<path d="M568.26,274.30 L567.47,275.08 L566.36,275.08 L565.58,274.30 L565.58,273.19 L566.36,272.40 L567.47,272.40 L568.26,273.19Z" fill="#fafafa" stroke="#111" stroke-width="0.6"/>
<path d="M546.66,268.26 L547.09,269.34 L548.25,269.42 L547.35,270.16 L547.64,271.28 L546.66,270.66 L545.68,271.28 L545.97,270.16 L545.08,269.42 L546.24,269.34Z" fill="#fafafa" stroke="#111" stroke-width="0.6"/>
<path d="M549.66,266.22 L550.09,267.30 L551.24,267.38 L550.35,268.11 L550.64,269.24 L549.66,268.62 L548.68,269.24 L548.97,268.11 L548.07,267.38 L549.23,267.30Z" fill="#fafafa" stroke="#111" stroke-width="0.6"/>
<path d="M540.68,274.52 L542.13,271.91 L539.23,271.91Z" fill="#fafafa" stroke="#111" stroke-width="0.6"/>
<path d="M542.95,274.23 L543.38,275.31 L544.53,275.38 L543.64,276.12 L543.93,277.25 L542.95,276.62 L541.97,277.25 L542.26,276.12 L541.36,275.38 L542.52,275.31Z" fill="#fafafa" stroke="#111" stroke-width="0.6"/>
<path d="M543.67,278.96 L545.12,280.41 L543.67,281.86 L542.22,280.41Z" fill="#fafafa" stroke="#111" stroke-width="0.6"/>
<circle cx="546.57" cy="280.05" r="1.45" fill="#fafafa" stroke="#111" stroke-width="0.6"/>
<path d="M539.02,285.45 L538.24,286.24 L537.13,286.24 L536.34,285.45 L536.34,284.34 L537.13,283.56 L538.24,283.56 L539.02,284.34Z" fill="#fafafa" stroke="#111" stroke-width="0.6"/>
<path d="M536.20,285.48 L537.65,286.93 L536.20,288.38 L534.75,286.93Z" fill="#fafafa" stroke="#111" stroke-width="0.6"/>
<path d="M531.70,289.22 L532.12,290.30 L533.28,290.37 L532.39,291.11 L532.68,292.23 L531.70,291.61 L530.72,292.23 L531.01,291.11 L530.11,290.37 L531.27,290.30Z" fill="#fafafa" stroke="#111" stroke-width="0.6"/>
<rect x="530.69" y="289.90" width="2.46" height="2.46" fill="#fafafa" stroke="#111" stroke-width="0.6"/>
<circle cx="528.70" cy="293.88" r="1.45" fill="#fafafa" stroke="#111" stroke-width="0.6"/>
<path d="M531.55,291.68 L531.98,292.76 L533.14,292.83 L532.24,293.57 L532.53,294.70 L531.55,294.07 L530.57,294.70 L530.86,293.57 L529.97,292.83 L531.13,292.76Z" fill="#fafafa" stroke="#111" stroke-width="0.6"/>
<path d="M524.57,291.58 L526.02,294.19 L523.12,294.19Z" fill="#fafafa" stroke="#111" stroke-width="0.6"/>
<path d="M507.24,290.93h1.01v0.94h0.94v1.01h-0.94v0.94h-1.01v-0.94h-0.94v-1.01h0.94Z" fill="#fafafa" stroke="#111" stroke-width="0.6"/>
<path d="M504.04,292.57 L505.42,293.57 L504.90,295.19 L503.19,295.19 L502.67,293.57Z" fill="#fafafa" stroke="#111" stroke-width="0.6"/>
<path d="M506.10,318.38 L505.31,319.16 L504.20,319.16 L503.42,318.38 L503.42,317.27 L504.20,316.48 L505.31,316.48 L506.10,317.27Z" fill="#fafafa" stroke="#111" stroke-width="0.6"/>
<path d="M505.39,318.19 L506.84,315.58 L503.94,315.58Z" fill="#fafafa" stroke="#111" stroke-width="0.6"/>
<g transform="rotate(45 504.74 319.32)"><path d="M504.23,317.87h1.01v0.94h0.94v1.01h-0.94v0.94h-1.01v-0.94h-0.94v-1.01h0.94Z" fill="#fafafa" stroke="#111" stroke-width="0.6"/></g>
<path d="M540.68,317.87 L542.13,319.32 L540.68,320.77 L539.23,319.32Z" fill="#fafafa" stroke="#111" stroke-width="0.6"/>
<path d="M540.82,320.26 L542.27,321.71 L540.82,323.16 L539.37,321.71Z" fill="#fafafa" stroke="#111" stroke-width="0.6"/>
<path d="M528.70,328.40 L530.15,325.79 L527.25,325.79Z" fill="#fafafa" stroke="#111" stroke-width="0.6"/>
<circle cx="528.59" cy="328.67" r="1.45" fill="#fafafa" stroke="#111" stroke-width="0.6"/>
<circle cx="466.20" cy="314.30" r="2.60" fill="#3d85c6" stroke="#111" stroke-width="0.4"/>
<circle cx="463.90" cy="323.80" r="2.60" fill="#e03c3c" stroke="#111" stroke-width="0.4"/>
<circle cx="427.00" cy="348.20" r="2.60" fill="#3aa64a" stroke="#111" stroke-width="0.4"/>
<circle cx="446.00" cy="354.10" r="2.30" fill="#3aa64a" stroke="#111" stroke-width="0.4"/>
<path d="M463.20,329.61 L463.86,331.29 L465.66,331.40 L464.27,332.55 L464.72,334.29 L463.20,333.32 L461.68,334.29 L462.13,332.55 L460.74,331.40 L462.54,331.29Z" fill="#3aa64a" stroke="#111" stroke-width="0.4"/>
<rect x="468.50" y="330.00" width="3.40" height="3.40" fill="#3aa64a" stroke="#111" stroke-width="0.4"/>
<circle cx="478.50" cy="332.20" r="2.30" fill="#3aa64a" stroke="#111" stroke-width="0.4"/>
<path d="M466.50,339.11 L467.16,340.79 L468.96,340.90 L467.57,342.05 L468.02,343.79 L466.50,342.82 L464.98,343.79 L465.43,342.05 L464.04,340.90 L465.84,340.79Z" fill="#3aa64a" stroke="#111" stroke-width="0.4"/>
<path d="M480.10,348.32 L482.85,343.38 L477.35,343.38Z" fill="#f68e2e" stroke="#111" stroke-width="0.4"/>
<path d="M496.50,339.38 L499.25,344.32 L493.75,344.32Z" fill="#f68e2e" stroke="#111" stroke-width="0.4"/>
<circle cx="462.60" cy="363.60" r="2.30" fill="#f68e2e" stroke="#111" stroke-width="0.4"/>
<g transform="rotate(45 454.10 367.30)"><path d="M453.31,365.05h1.57v1.46h1.46v1.57h-1.46v1.46h-1.57v-1.46h-1.46v-1.57h1.46Z" fill="#f68e2e" stroke="#111" stroke-width="0.4"/></g>
<circle cx="453.70" cy="375.30" r="2.30" fill="#a87568" stroke="#111" stroke-width="0.4"/>
<rect x="476.80" y="355.00" width="3.40" height="3.40" fill="#a87568" stroke="#111" stroke-width="0.4"/>
<g transform="rotate(45 483.00 358.80)"><path d="M482.21,356.55h1.57v1.46h1.46v1.57h-1.46v1.46h-1.57v-1.46h-1.46v-1.57h1.46Z" fill="#f68e2e" stroke="#111" stroke-width="0.4"/></g>
<circle cx="487.30" cy="359.60" r="2.30" fill="#a87568" stroke="#111" stroke-width="0.4"/>
<path d="M472.40,359.51 L473.06,361.19 L474.86,361.30 L473.47,362.45 L473.92,364.19 L472.40,363.23 L470.88,364.19 L471.33,362.45 L469.94,361.30 L471.74,361.19Z" fill="#a87568" stroke="#111" stroke-width="0.4"/>
<path d="M475.60,361.01 L476.26,362.69 L478.06,362.80 L476.67,363.95 L477.12,365.69 L475.60,364.73 L474.08,365.69 L474.53,363.95 L473.14,362.80 L474.94,362.69Z" fill="#a87568" stroke="#111" stroke-width="0.4"/>
<circle cx="410.50" cy="388.40" r="2.30" fill="#f68e2e" stroke="#111" stroke-width="0.4"/>
<circle cx="428.80" cy="388.40" r="2.30" fill="#f68e2e" stroke="#111" stroke-width="0.4"/>
<circle cx="434.60" cy="388.40" r="2.30" fill="#a87568" stroke="#111" stroke-width="0.4"/>
<path d="M448.70,385.81 L449.36,387.49 L451.16,387.60 L449.77,388.75 L450.22,390.49 L448.70,389.52 L447.18,390.49 L447.63,388.75 L446.24,387.60 L448.04,387.49Z" fill="#f68e2e" stroke="#111" stroke-width="0.4"/>
<path d="M451.90,385.81 L452.56,387.49 L454.36,387.60 L452.97,388.75 L453.42,390.49 L451.90,389.52 L450.38,390.49 L450.83,388.75 L449.44,387.60 L451.24,387.49Z" fill="#f68e2e" stroke="#111" stroke-width="0.4"/>
<rect x="487.50" y="300.90" width="3.40" height="3.40" fill="#e03c3c" stroke="#111" stroke-width="0.4"/>
<path d="M487.70,301.81 L488.36,303.49 L490.16,303.60 L488.77,304.75 L489.22,306.49 L487.70,305.52 L486.18,306.49 L486.63,304.75 L485.24,303.60 L487.04,303.49Z" fill="#3d85c6" stroke="#111" stroke-width="0.4"/>
<circle cx="485.20" cy="312.40" r="1.80" fill="#e03c3c" stroke="#111" stroke-width="0.4"/>
<path d="M496.50,314.02 L499.25,309.07 L493.75,309.07Z" fill="#3aa64a" stroke="#111" stroke-width="0.4"/>
<circle cx="584.60" cy="248.20" r="2.80" fill="#3d85c6" stroke="#111" stroke-width="0.4"/>
<circle cx="582.20" cy="256.40" r="2.80" fill="#e03c3c" stroke="#111" stroke-width="0.4"/>
<path d="M559.29,249.93h2.01v1.87h1.87v2.01h-1.87v1.87h-2.01v-1.87h-1.87v-2.01h1.87Z" fill="#3d85c6" stroke="#111" stroke-width="0.4"/>
<path d="M557.79,255.32h2.01v1.87h1.87v2.01h-1.87v1.87h-2.01v-1.87h-1.87v-2.01h1.87Z" fill="#e03c3c" stroke="#111" stroke-width="0.4"/>
<path d="M549.90,256.32 L550.63,258.19 L552.63,258.31 L551.09,259.59 L551.59,261.53 L549.90,260.45 L548.21,261.53 L548.71,259.59 L547.17,258.31 L549.17,258.19Z" fill="#3d85c6" stroke="#111" stroke-width="0.4"/>
<g transform="rotate(45 547.90 265.50)"><path d="M547.02,263.00h1.75v1.62h1.62v1.75h-1.62v1.62h-1.75v-1.62h-1.62v-1.75h1.62Z" fill="#e03c3c" stroke="#111" stroke-width="0.4"/></g>
<rect x="544.69" y="269.49" width="3.82" height="3.82" fill="#e03c3c" stroke="#111" stroke-width="0.4"/>
<path d="M537.10,261.73 L539.48,264.10 L537.10,266.48 L534.73,264.10Z" fill="#3d85c6" stroke="#111" stroke-width="0.4"/>
<circle cx="534.70" cy="269.20" r="1.90" fill="#e03c3c" stroke="#111" stroke-width="0.4"/>
<path d="M531.60,272.44 L534.48,277.61 L528.73,277.61Z" fill="#e03c3c" stroke="#111" stroke-width="0.4"/>
<path d="M517.40,277.60 L520.40,272.20 L514.40,272.20Z" fill="#3d85c6" stroke="#111" stroke-width="0.4"/>
<path d="M515.60,284.90 L518.60,279.50 L512.60,279.50Z" fill="#e03c3c" stroke="#111" stroke-width="0.4"/>
<path d="M520.10,281.32 L520.83,283.19 L522.83,283.31 L521.29,284.59 L521.79,286.53 L520.10,285.45 L518.41,286.53 L518.91,284.59 L517.37,283.31 L519.37,283.19Z" fill="#3d85c6" stroke="#111" stroke-width="0.4"/>
<circle cx="498.80" cy="288.90" r="2.30" fill="#3d85c6" stroke="#111" stroke-width="0.4"/>
<circle cx="496.80" cy="291.50" r="2.30" fill="#e03c3c" stroke="#111" stroke-width="0.4"/>
<g transform="rotate(45 491.30 294.70)"><path d="M490.51,292.45h1.57v1.46h1.46v1.57h-1.46v1.46h-1.57v-1.46h-1.46v-1.57h1.46Z" fill="#3d85c6" stroke="#111" stroke-width="0.4"/></g>
<circle cx="486.40" cy="294.70" r="1.70" fill="#3d85c6" stroke="#111" stroke-width="0.4"/>
<path d="M482.70,294.31 L483.36,295.99 L485.16,296.10 L483.77,297.25 L484.22,298.99 L482.70,298.02 L481.18,298.99 L481.63,297.25 L480.24,296.10 L482.04,295.99Z" fill="#e03c3c" stroke="#111" stroke-width="0.4"/>
<path d="M518.00,291.21 L518.66,292.89 L520.46,293.00 L519.07,294.15 L519.52,295.89 L518.00,294.93 L516.48,295.89 L516.93,294.15 L515.54,293.00 L517.34,292.89Z" fill="#e03c3c" stroke="#111" stroke-width="0.4"/>
<circle cx="563.90" cy="292.90" r="2.60" fill="#3aa64a" stroke="#111" stroke-width="0.4"/>
<path d="M538.47,290.93h1.66v1.54h1.54v1.66h-1.54v1.54h-1.66v-1.54h-1.54v-1.66h1.54Z" fill="#3aa64a" stroke="#111" stroke-width="0.4"/>
<path d="M528.40,295.81 L529.06,297.49 L530.86,297.60 L529.47,298.75 L529.92,300.49 L528.40,299.52 L526.88,300.49 L527.33,298.75 L525.94,297.60 L527.74,297.49Z" fill="#3aa64a" stroke="#111" stroke-width="0.4"/>
<rect x="513.00" y="303.10" width="3.40" height="3.40" fill="#3aa64a" stroke="#111" stroke-width="0.4"/>
<path d="M528.40,306.41 L529.06,308.09 L530.86,308.20 L529.47,309.35 L529.92,311.09 L528.40,310.12 L526.88,311.09 L527.33,309.35 L525.94,308.20 L527.74,308.09Z" fill="#3aa64a" stroke="#111" stroke-width="0.4"/>
<path d="M496.40,314.22 L499.15,309.27 L493.65,309.27Z" fill="#3aa64a" stroke="#111" stroke-width="0.4"/>
<circle cx="488.20" cy="303.00" r="1.70" fill="#e03c3c" stroke="#111" stroke-width="0.4"/>
<circle cx="572.20" cy="318.50" r="2.80" fill="#a87568" stroke="#111" stroke-width="0.4"/>
<circle cx="547.90" cy="326.10" r="2.60" fill="#f68e2e" stroke="#111" stroke-width="0.4"/>
<g transform="rotate(45 536.60 331.40)"><path d="M535.73,328.90h1.75v1.62h1.62v1.75h-1.62v1.62h-1.75v-1.62h-1.62v-1.75h1.62Z" fill="#a87568" stroke="#111" stroke-width="0.4"/></g>
<rect x="533.79" y="335.49" width="3.82" height="3.82" fill="#a87568" stroke="#111" stroke-width="0.4"/>
<path d="M521.10,324.38 L523.85,329.32 L518.35,329.32Z" fill="#a87568" stroke="#111" stroke-width="0.4"/>
<path d="M504.60,335.96 L507.48,330.79 L501.73,330.79Z" fill="#a87568" stroke="#111" stroke-width="0.4"/>
<path d="M523.40,331.97 L524.10,333.74 L526.00,333.86 L524.53,335.07 L525.01,336.91 L523.40,335.89 L521.79,336.91 L522.27,335.07 L520.80,333.86 L522.70,333.74Z" fill="#f68e2e" stroke="#111" stroke-width="0.4"/>
<path d="M524.30,336.70 L526.80,339.20 L524.30,341.70 L521.80,339.20Z" fill="#a87568" stroke="#111" stroke-width="0.4"/>
<path d="M511.62,340.40h1.75v1.62h1.62v1.75h-1.62v1.62h-1.75v-1.62h-1.62v-1.75h1.62Z" fill="#f68e2e" stroke="#111" stroke-width="0.4"/>
<rect x="510.09" y="345.59" width="3.61" height="3.61" fill="#f68e2e" stroke="#111" stroke-width="0.4"/>
<path d="M497.30,338.58 L500.05,343.53 L494.55,343.53Z" fill="#f68e2e" stroke="#111" stroke-width="0.4"/>
<g transform="rotate(45 501.00 342.90)"><path d="M500.17,340.52h1.66v1.54h1.54v1.66h-1.54v1.54h-1.66v-1.54h-1.54v-1.66h1.54Z" fill="#f68e2e" stroke="#111" stroke-width="0.4"/></g>
<path d="M507.00,346.31 L507.66,347.99 L509.46,348.10 L508.07,349.25 L508.52,350.99 L507.00,350.02 L505.48,350.99 L505.93,349.25 L504.54,348.10 L506.34,347.99Z" fill="#a87568" stroke="#111" stroke-width="0.4"/>
<circle cx="480.90" cy="344.70" r="1.90" fill="#f68e2e" stroke="#111" stroke-width="0.4"/>
<circle cx="487.30" cy="359.30" r="2.30" fill="#a87568" stroke="#111" stroke-width="0.4"/>
<circle cx="482.70" cy="359.30" r="1.60" fill="#f68e2e" stroke="#111" stroke-width="0.4"/>
<circle cx="444.20" cy="296.10" r="2.60" fill="#e03c3c" stroke="#111" stroke-width="0.4"/>
<circle cx="447.60" cy="297.80" r="2.60" fill="#3d85c6" stroke="#111" stroke-width="0.4"/>
<rect x="401.20" y="241.00" width="201.50" height="153.60" fill="none" stroke="#444" stroke-width="0.6"/>
<line x1="399.00" y1="388.30" x2="401.20" y2="388.30" stroke="#444" stroke-width="0.5"/>
<text x="396.80" y="390.50" font-size="6.3" text-anchor="end" fill="#222">0</text>
<line x1="399.00" y1="360.72" x2="401.20" y2="360.72" stroke="#444" stroke-width="0.5"/>
<text x="396.80" y="362.92" font-size="6.3" text-anchor="end" fill="#222">1</text>
<line x1="399.00" y1="333.14" x2="401.20" y2="333.14" stroke="#444" stroke-width="0.5"/>
<text x="396.80" y="335.34" font-size="6.3" text-anchor="end" fill="#222">2</text>
<line x1="399.00" y1="305.56" x2="401.20" y2="305.56" stroke="#444" stroke-width="0.5"/>
<text x="396.80" y="307.76" font-size="6.3" text-anchor="end" fill="#222">3</text>
<line x1="399.00" y1="277.98" x2="401.20" y2="277.98" stroke="#444" stroke-width="0.5"/>
<text x="396.80" y="280.18" font-size="6.3" text-anchor="end" fill="#222">4</text>
<line x1="399.00" y1="250.40" x2="401.20" y2="250.40" stroke="#444" stroke-width="0.5"/>
<text x="396.80" y="252.60" font-size="6.3" text-anchor="end" fill="#222">5</text>
<line x1="421.10" y1="394.60" x2="421.10" y2="396.80" stroke="#444" stroke-width="0.5"/>
<text x="421.10" y="403.40" font-size="6.3" text-anchor="middle" fill="#222">5.5</text>
<line x1="444.87" y1="394.60" x2="444.87" y2="396.80" stroke="#444" stroke-width="0.5"/>
<text x="444.87" y="403.40" font-size="6.3" text-anchor="middle" fill="#222">6.0</text>
<line x1="468.64" y1="394.60" x2="468.64" y2="396.80" stroke="#444" stroke-width="0.5"/>
<text x="468.64" y="403.40" font-size="6.3" text-anchor="middle" fill="#222">6.5</text>
<line x1="492.41" y1="394.60" x2="492.41" y2="396.80" stroke="#444" stroke-width="0.5"/>
<text x="492.41" y="403.40" font-size="6.3" text-anchor="middle" fill="#222">7.0</text>
<line x1="516.18" y1="394.60" x2="516.18" y2="396.80" stroke="#444" stroke-width="0.5"/>
<text x="516.18" y="403.40" font-size="6.3" text-anchor="middle" fill="#222">7.5</text>
<line x1="539.95" y1="394.60" x2="539.95" y2="396.80" stroke="#444" stroke-width="0.5"/>
<text x="539.95" y="403.40" font-size="6.3" text-anchor="middle" fill="#222">8.0</text>
<line x1="563.72" y1="394.60" x2="563.72" y2="396.80" stroke="#444" stroke-width="0.5"/>
<text x="563.72" y="403.40" font-size="6.3" text-anchor="middle" fill="#222">8.5</text>
<line x1="587.49" y1="394.60" x2="587.49" y2="396.80" stroke="#444" stroke-width="0.5"/>
<text x="587.49" y="403.40" font-size="6.3" text-anchor="middle" fill="#222">9.0</text>
<text x="501.70" y="414.00" font-size="7.5" text-anchor="middle" fill="#222">log<tspan font-size="4.6" dy="1.6">10</tspan><tspan dy="-1.6">(amino acid demand + 1)</tspan></text>
<text x="388.00" y="318.00" font-size="7.5" text-anchor="middle" fill="#222" transform="rotate(-90 388.00 318.00)">log<tspan font-size="4.6" dy="1.6">10</tspan><tspan dy="-1.6">(tRNA supply + 1)</tspan></text>
<text x="409.10" y="255.30" font-size="7.05" text-anchor="start" fill="#222">Pearson <tspan font-style="italic">r</tspan> = 0.79, <tspan font-style="italic">P</tspan> = 1.59 × 10<tspan font-size="4.5" dy="-3">−66</tspan></text>
<text x="619.70" y="246.00" font-size="7.6" text-anchor="start" fill="#222">Amino acid</text>
<text x="619.70" y="254.60" font-size="7.6" text-anchor="start" fill="#222">highlight</text>
<circle cx="612.00" cy="263.30" r="1.35" fill="#f4f4f4" stroke="#333" stroke-width="0.35"/>
<text x="618.00" y="265.80" font-size="7.5" text-anchor="start" fill="#222">Other</text>
<circle cx="612.00" cy="270.94" r="1.35" fill="#a87568" stroke="#333" stroke-width="0.35"/>
<text x="618.00" y="273.44" font-size="7.5" text-anchor="start" fill="#222">Phe</text>
<circle cx="612.00" cy="278.58" r="1.35" fill="#3d85c6" stroke="#333" stroke-width="0.35"/>
<text x="618.00" y="281.08" font-size="7.5" text-anchor="start" fill="#222">Gly</text>
<circle cx="612.00" cy="286.22" r="1.35" fill="#3aa64a" stroke="#333" stroke-width="0.35"/>
<text x="618.00" y="288.72" font-size="7.5" text-anchor="start" fill="#222">Met</text>
<circle cx="612.00" cy="293.86" r="1.35" fill="#e03c3c" stroke="#333" stroke-width="0.35"/>
<text x="618.00" y="296.36" font-size="7.5" text-anchor="start" fill="#222">Arg</text>
<circle cx="612.00" cy="301.50" r="1.35" fill="#f68e2e" stroke="#333" stroke-width="0.35"/>
<text x="618.00" y="304.00" font-size="7.5" text-anchor="start" fill="#222">Trp</text>
<text x="618.00" y="316.20" font-size="7.6" text-anchor="start" fill="#222">Cell type</text>
<circle cx="611.80" cy="324.30" r="1.45" fill="#333" stroke="#111" stroke-width="0.2"/>
<text x="618.00" y="326.80" font-size="7.5" text-anchor="start" fill="#222">CD14<tspan font-size="5.2" dy="-2.8">+</tspan><tspan dy="2.8"> mono</tspan></text>
<g transform="rotate(45 611.80 331.94)"><path d="M611.29,330.49h1.01v0.94h0.94v1.01h-0.94v0.94h-1.01v-0.94h-0.94v-1.01h0.94Z" fill="#333" stroke="#111" stroke-width="0.2"/></g>
<text x="618.00" y="334.44" font-size="7.5" text-anchor="start" fill="#222">T naive</text>
<rect x="610.57" y="338.34" width="2.46" height="2.46" fill="#333" stroke="#111" stroke-width="0.2"/>
<text x="618.00" y="342.07" font-size="7.5" text-anchor="start" fill="#222">CD16<tspan font-size="5.2" dy="-2.8">+</tspan><tspan dy="2.8"> mono</tspan></text>
<path d="M611.29,345.76h1.01v0.94h0.94v1.01h-0.94v0.94h-1.01v-0.94h-0.94v-1.01h0.94Z" fill="#333" stroke="#111" stroke-width="0.2"/>
<text x="618.00" y="349.71" font-size="7.5" text-anchor="start" fill="#222">CD4<tspan font-size="5.2" dy="-2.8">+</tspan><tspan dy="2.8"> T</tspan></text>
<path d="M611.80,353.39 L613.25,354.84 L611.80,356.29 L610.35,354.84Z" fill="#333" stroke="#111" stroke-width="0.2"/>
<text x="618.00" y="357.34" font-size="7.5" text-anchor="start" fill="#222">CD8<tspan font-size="5.2" dy="-2.8">+</tspan><tspan dy="2.8"> T</tspan></text>
<path d="M611.80,360.81 L612.23,361.89 L613.39,361.96 L612.49,362.70 L612.78,363.82 L611.80,363.20 L610.82,363.82 L611.11,362.70 L610.21,361.96 L611.37,361.89Z" fill="#333" stroke="#111" stroke-width="0.2"/>
<text x="618.00" y="364.98" font-size="7.5" text-anchor="start" fill="#222">NK cell</text>
<path d="M611.80,368.51 L613.25,371.12 L610.35,371.12Z" fill="#333" stroke="#111" stroke-width="0.2"/>
<text x="618.00" y="372.61" font-size="7.5" text-anchor="start" fill="#222">B naive</text>
<rect x="610.57" y="376.51" width="2.46" height="2.46" fill="#333" stroke="#111" stroke-width="0.2"/>
<text x="618.00" y="380.25" font-size="7.5" text-anchor="start" fill="#222">pDC</text>
<path d="M611.80,386.98 L613.25,384.37 L610.35,384.37Z" fill="#333" stroke="#111" stroke-width="0.2"/>
<text x="618.00" y="387.88" font-size="7.5" text-anchor="start" fill="#222">B memory</text>
<path d="M611.80,391.56 L613.18,392.57 L612.65,394.19 L610.95,394.19 L610.42,392.57Z" fill="#333" stroke="#111" stroke-width="0.2"/>
<text x="618.00" y="395.51" font-size="7.5" text-anchor="start" fill="#222">Basophil</text>
<path d="M613.06,401.38 L611.80,402.10 L610.54,401.38 L610.54,399.92 L611.80,399.20 L613.06,399.92Z" fill="#333" stroke="#111" stroke-width="0.2"/>
<text x="618.00" y="403.15" font-size="7.5" text-anchor="start" fill="#222">Platelet</text>
<path d="M613.14,408.84 L612.35,409.62 L611.25,409.62 L610.46,408.84 L610.46,407.73 L611.25,406.95 L612.35,406.95 L613.14,407.73Z" fill="#333" stroke="#111" stroke-width="0.2"/>
<text x="618.00" y="410.79" font-size="7.5" text-anchor="start" fill="#222">cDC2</text>
<path d="M611.80,414.47 L613.18,415.47 L612.65,417.09 L610.95,417.09 L610.42,415.47Z" fill="#333" stroke="#111" stroke-width="0.2"/>
<text x="618.00" y="418.42" font-size="7.5" text-anchor="start" fill="#222">NKT</text>
<path d="M613.06,424.28 L611.80,425.00 L610.54,424.28 L610.54,422.83 L611.80,422.11 L613.06,422.83Z" fill="#333" stroke="#111" stroke-width="0.2"/>
<text x="618.00" y="426.06" font-size="7.5" text-anchor="start" fill="#222">Plasmablast</text>
<circle cx="611.80" cy="431.19" r="1.45" fill="#333" stroke="#111" stroke-width="0.2"/>
<text x="618.00" y="433.69" font-size="7.5" text-anchor="start" fill="#222">Proerythroblast</text>
<text x="0.10" y="496.90" font-size="13" text-anchor="start" fill="#000" font-weight="bold" stroke="#000" stroke-width="0.35">f</text>
<text x="8.20" y="522.60" font-size="7.3" text-anchor="middle" fill="#222" transform="rotate(-90 8.20 522.60)">GO term</text>
<rect x="122.70" y="513.90" width="56.10" height="7.10" fill="#c87577" stroke="none" stroke-width="0.6"/>
<rect x="122.70" y="522.90" width="54.90" height="7.10" fill="#c87577" stroke="none" stroke-width="0.6"/>
<rect x="122.70" y="532.10" width="54.20" height="7.10" fill="#c87577" stroke="none" stroke-width="0.6"/>
<line x1="122.70" y1="512.00" x2="122.70" y2="540.20" stroke="#444" stroke-width="0.5"/>
<line x1="122.70" y1="540.20" x2="181.50" y2="540.20" stroke="#444" stroke-width="0.5"/>
<line x1="120.70" y1="517.45" x2="122.70" y2="517.45" stroke="#444" stroke-width="0.5"/>
<line x1="120.70" y1="526.45" x2="122.70" y2="526.45" stroke="#444" stroke-width="0.5"/>
<line x1="120.70" y1="535.65" x2="122.70" y2="535.65" stroke="#444" stroke-width="0.5"/>
<line x1="173.20" y1="512.00" x2="173.20" y2="540.20" stroke="#e3262b" stroke-width="0.9" stroke-dasharray="2.4,1.4"/>
<line x1="122.70" y1="540.20" x2="122.70" y2="542.20" stroke="#444" stroke-width="0.5"/>
<text x="122.70" y="547.80" font-size="6.3" text-anchor="middle" fill="#222">0</text>
<line x1="146.05" y1="540.20" x2="146.05" y2="542.20" stroke="#444" stroke-width="0.5"/>
<text x="146.05" y="547.80" font-size="6.3" text-anchor="middle" fill="#222">2</text>
<line x1="169.40" y1="540.20" x2="169.40" y2="542.20" stroke="#444" stroke-width="0.5"/>
<text x="169.40" y="547.80" font-size="6.3" text-anchor="middle" fill="#222">4</text>
<text x="152.40" y="558.80" font-size="7.6" text-anchor="middle" fill="#222">–log<tspan font-size="4.6" dy="1.6">10</tspan><tspan dy="-1.6">(</tspan><tspan font-style="italic">P</tspan> value)</text>
<line x1="146.60" y1="509.20" x2="157.70" y2="509.20" stroke="#e3262b" stroke-width="0.9" stroke-dasharray="2.4,1.4"/>
<text x="160.60" y="511.40" font-size="6.0" text-anchor="start" fill="#222">FDR = 0.05</text>
<text x="118.20" y="519.00" font-size="6.3" text-anchor="end" fill="#222">Positive regulation of T cell activation</text>
<text x="118.20" y="525.40" font-size="6.3" text-anchor="end" fill="#222">Positive regulation of lymphocyte</text>
<text x="118.20" y="530.60" font-size="6.3" text-anchor="end" fill="#222">activation</text>
<text x="118.20" y="536.60" font-size="6.3" text-anchor="end" fill="#222">T cell selection</text>
<text x="14.60" y="553.10" font-size="7.6" text-anchor="start" fill="#222">Biotype</text>
<rect x="14.40" y="557.90" width="7.60" height="7.20" fill="#7f7f7f" stroke="none" stroke-width="0.6"/>
<text x="25.60" y="563.70" font-size="7.6" text-anchor="start" fill="#222">Protein-coding RNA</text>
<rect x="14.40" y="569.88" width="7.60" height="7.20" fill="#3f2a7e" stroke="none" stroke-width="0.6"/>
<text x="25.60" y="575.68" font-size="7.6" text-anchor="start" fill="#222">lncRNA</text>
<rect x="14.40" y="581.86" width="7.60" height="7.20" fill="#7b5bb1" stroke="none" stroke-width="0.6"/>
<text x="25.60" y="587.66" font-size="7.6" text-anchor="start" fill="#222">miscRNA</text>
<rect x="14.40" y="593.84" width="7.60" height="7.20" fill="#a98bcc" stroke="none" stroke-width="0.6"/>
<text x="25.60" y="599.64" font-size="7.6" text-anchor="start" fill="#222">miRNA</text>
<rect x="14.40" y="605.82" width="7.60" height="7.20" fill="#d0b6c1" stroke="none" stroke-width="0.6"/>
<text x="25.60" y="611.62" font-size="7.6" text-anchor="start" fill="#222">snoRNA</text>
<rect x="14.40" y="617.80" width="7.60" height="7.20" fill="#ddd6b2" stroke="none" stroke-width="0.6"/>
<text x="25.60" y="623.60" font-size="7.6" text-anchor="start" fill="#222">tRNA</text>
<rect x="14.40" y="629.78" width="7.60" height="7.20" fill="#e8bd42" stroke="none" stroke-width="0.6"/>
<text x="25.60" y="635.58" font-size="7.6" text-anchor="start" fill="#222">snRNA</text>
<rect x="14.40" y="641.76" width="7.60" height="7.20" fill="#c9422b" stroke="none" stroke-width="0.6"/>
<text x="25.60" y="647.56" font-size="7.6" text-anchor="start" fill="#222">Histone RNA</text>
<rect x="122.80" y="591.00" width="34.00" height="13.90" fill="#7f7f7f" stroke="none" stroke-width="0.6"/>
<rect x="156.80" y="591.00" width="21.20" height="13.90" fill="#3f2a7e" stroke="none" stroke-width="0.6"/>
<rect x="178.00" y="591.00" width="0.80" height="13.90" fill="#b59ad6" stroke="none" stroke-width="0.6"/>
<rect x="178.80" y="591.00" width="1.10" height="13.90" fill="#ecdcaa" stroke="none" stroke-width="0.6"/>
<rect x="179.90" y="591.00" width="2.20" height="13.90" fill="#d0603a" stroke="none" stroke-width="0.6"/>
<line x1="122.80" y1="611.70" x2="181.50" y2="611.70" stroke="#444" stroke-width="0.5"/>
<line x1="122.80" y1="611.70" x2="122.80" y2="613.70" stroke="#444" stroke-width="0.5"/>
<text x="122.80" y="620.30" font-size="6.3" text-anchor="middle" fill="#222">0</text>
<line x1="152.15" y1="611.70" x2="152.15" y2="613.70" stroke="#444" stroke-width="0.5"/>
<text x="152.15" y="620.30" font-size="6.3" text-anchor="middle" fill="#222">0.5</text>
<line x1="181.50" y1="611.70" x2="181.50" y2="613.70" stroke="#444" stroke-width="0.5"/>
<text x="181.50" y="620.30" font-size="6.3" text-anchor="middle" fill="#222">1.0</text>
<text x="152.40" y="630.80" font-size="7.7" text-anchor="middle" fill="#222">Fraction of genes</text>
<path d="M150.7,591 L150.7,587.7 L149.5,585.8 L139.6,584.2" stroke="#333" stroke-width="0.45" fill="none"/>
<text x="137.20" y="585.50" font-size="6.0" text-anchor="start" fill="#222" transform="rotate(-45 137.20 585.50)">CD28</text>
<path d="M178.4,591 L178.4,587.7 L177.2,585.8 L165.5,584.2" stroke="#333" stroke-width="0.45" fill="none"/>
<text x="165.20" y="585.00" font-size="6.0" text-anchor="start" fill="#222" transform="rotate(-45 165.20 585.00)">MIR150</text>
<path d="M179.0,591 L179.0,586.5" stroke="#333" stroke-width="0.45" fill="none"/>
<text x="180.60" y="584.60" font-size="6.0" text-anchor="start" fill="#222" transform="rotate(-45 180.60 584.60)">SNORA20</text>
<rect x="247.90" y="516.50" width="108.70" height="74.50" fill="none" stroke="#444" stroke-width="0.6"/>
<rect x="248.90" y="564.20" width="5.60" height="11.10" fill="#286fa1" stroke="none" stroke-width="0.6"/>
<line x1="251.70" y1="591.00" x2="251.70" y2="593.00" stroke="#444" stroke-width="0.5"/>
<text x="252.30" y="596.60" font-size="6.4" text-anchor="end" fill="#222" transform="rotate(-45 252.30 596.60)">CD14<tspan font-size="5.0" dy="-2.5">+</tspan><tspan dy="2.5"> mono</tspan></text>
<rect x="256.14" y="519.60" width="5.60" height="55.70" fill="#aabfd9" stroke="none" stroke-width="0.6"/>
<line x1="258.94" y1="591.00" x2="258.94" y2="593.00" stroke="#444" stroke-width="0.5"/>
<text x="259.54" y="596.60" font-size="6.4" text-anchor="end" fill="#222" transform="rotate(-45 259.54 596.60)">CD4<tspan font-size="5.0" dy="-2.5">+</tspan><tspan dy="2.5"> T</tspan></text>
<rect x="263.38" y="546.80" width="5.60" height="28.50" fill="#e67e21" stroke="none" stroke-width="0.6"/>
<line x1="266.18" y1="591.00" x2="266.18" y2="593.00" stroke="#444" stroke-width="0.5"/>
<text x="266.78" y="596.60" font-size="6.4" text-anchor="end" fill="#222" transform="rotate(-45 266.78 596.60)">T naive</text>
<rect x="270.62" y="566.50" width="5.60" height="8.80" fill="#edb57f" stroke="none" stroke-width="0.6"/>
<line x1="273.42" y1="591.00" x2="273.42" y2="593.00" stroke="#444" stroke-width="0.5"/>
<text x="274.02" y="596.60" font-size="6.4" text-anchor="end" fill="#222" transform="rotate(-45 274.02 596.60)">CD8<tspan font-size="5.0" dy="-2.5">+</tspan><tspan dy="2.5"> T</tspan></text>
<rect x="277.86" y="575.30" width="5.60" height="7.90" fill="#349334" stroke="none" stroke-width="0.6"/>
<line x1="280.66" y1="591.00" x2="280.66" y2="593.00" stroke="#444" stroke-width="0.5"/>
<text x="281.26" y="596.60" font-size="6.4" text-anchor="end" fill="#222" transform="rotate(-45 281.26 596.60)">CD16<tspan font-size="5.0" dy="-2.5">+</tspan><tspan dy="2.5"> mono</tspan></text>
<rect x="285.10" y="575.30" width="5.60" height="0.40" fill="#98d28c" stroke="none" stroke-width="0.6"/>
<line x1="287.90" y1="591.00" x2="287.90" y2="593.00" stroke="#444" stroke-width="0.5"/>
<text x="288.50" y="596.60" font-size="6.4" text-anchor="end" fill="#222" transform="rotate(-45 288.50 596.60)">NK cell</text>
<rect x="292.34" y="575.30" width="5.60" height="4.30" fill="#bc2d2e" stroke="none" stroke-width="0.6"/>
<line x1="295.14" y1="591.00" x2="295.14" y2="593.00" stroke="#444" stroke-width="0.5"/>
<text x="295.74" y="596.60" font-size="6.4" text-anchor="end" fill="#222" transform="rotate(-45 295.74 596.60)">B naive</text>
<rect x="299.58" y="575.30" width="5.60" height="8.30" fill="#ea9695" stroke="none" stroke-width="0.6"/>
<line x1="302.38" y1="591.00" x2="302.38" y2="593.00" stroke="#444" stroke-width="0.5"/>
<text x="302.98" y="596.60" font-size="6.4" text-anchor="end" fill="#222" transform="rotate(-45 302.98 596.60)">B memory</text>
<rect x="306.82" y="575.30" width="5.60" height="11.70" fill="#8b66ac" stroke="none" stroke-width="0.6"/>
<line x1="309.62" y1="591.00" x2="309.62" y2="593.00" stroke="#444" stroke-width="0.5"/>
<text x="310.22" y="596.60" font-size="6.4" text-anchor="end" fill="#222" transform="rotate(-45 310.22 596.60)">Basophil</text>
<rect x="314.06" y="575.30" width="5.60" height="10.70" fill="#bcaac9" stroke="none" stroke-width="0.6"/>
<line x1="316.86" y1="591.00" x2="316.86" y2="593.00" stroke="#444" stroke-width="0.5"/>
<text x="317.46" y="596.60" font-size="6.4" text-anchor="end" fill="#222" transform="rotate(-45 317.46 596.60)">NKT</text>
<rect x="321.30" y="575.30" width="5.60" height="11.30" fill="#81554c" stroke="none" stroke-width="0.6"/>
<line x1="324.10" y1="591.00" x2="324.10" y2="593.00" stroke="#444" stroke-width="0.5"/>
<text x="324.70" y="596.60" font-size="6.4" text-anchor="end" fill="#222" transform="rotate(-45 324.70 596.60)">cDC2</text>
<rect x="328.54" y="575.30" width="5.60" height="12.30" fill="#b89791" stroke="none" stroke-width="0.6"/>
<line x1="331.34" y1="591.00" x2="331.34" y2="593.00" stroke="#444" stroke-width="0.5"/>
<text x="331.94" y="596.60" font-size="6.4" text-anchor="end" fill="#222" transform="rotate(-45 331.94 596.60)">pDC</text>
<rect x="335.78" y="575.30" width="5.60" height="12.70" fill="#d078b5" stroke="none" stroke-width="0.6"/>
<line x1="338.58" y1="591.00" x2="338.58" y2="593.00" stroke="#444" stroke-width="0.5"/>
<text x="339.18" y="596.60" font-size="6.4" text-anchor="end" fill="#222" transform="rotate(-45 339.18 596.60)">Platelet</text>
<rect x="343.02" y="575.30" width="5.60" height="12.10" fill="#e7b2c9" stroke="none" stroke-width="0.6"/>
<line x1="345.82" y1="591.00" x2="345.82" y2="593.00" stroke="#444" stroke-width="0.5"/>
<text x="346.42" y="596.60" font-size="6.4" text-anchor="end" fill="#222" transform="rotate(-45 346.42 596.60)">Plasmablast</text>
<rect x="350.26" y="575.30" width="5.60" height="12.30" fill="#7a7a7a" stroke="none" stroke-width="0.6"/>
<line x1="353.06" y1="591.00" x2="353.06" y2="593.00" stroke="#444" stroke-width="0.5"/>
<text x="353.66" y="596.60" font-size="6.4" text-anchor="end" fill="#222" transform="rotate(-45 353.66 596.60)">Proerythroblast</text>
<line x1="245.90" y1="522.00" x2="247.90" y2="522.00" stroke="#444" stroke-width="0.5"/>
<text x="245.80" y="524.20" font-size="6.4" text-anchor="end" fill="#222">15,000</text>
<line x1="245.90" y1="539.80" x2="247.90" y2="539.80" stroke="#444" stroke-width="0.5"/>
<text x="245.80" y="542.00" font-size="6.4" text-anchor="end" fill="#222">10,000</text>
<line x1="245.90" y1="557.50" x2="247.90" y2="557.50" stroke="#444" stroke-width="0.5"/>
<text x="245.80" y="559.70" font-size="6.4" text-anchor="end" fill="#222">5,000</text>
<line x1="245.90" y1="575.30" x2="247.90" y2="575.30" stroke="#444" stroke-width="0.5"/>
<text x="245.80" y="577.50" font-size="6.4" text-anchor="end" fill="#222">0</text>
<text x="302.30" y="512.90" font-size="7.7" text-anchor="middle" fill="#222">Module 24</text>
<text x="218.50" y="553.40" font-size="7.6" text-anchor="middle" fill="#222" transform="rotate(-90 218.50 553.40)">Eigengene</text>
<text x="369.50" y="496.80" font-size="13" text-anchor="start" fill="#000" font-weight="bold" stroke="#000" stroke-width="0.35">g</text>
<text x="377.20" y="527.00" font-size="7.3" text-anchor="middle" fill="#222" transform="rotate(-90 377.20 527.00)">GO term</text>
<rect x="468.80" y="511.90" width="60.70" height="8.10" fill="#c87577" stroke="none" stroke-width="0.6"/>
<rect x="468.80" y="522.60" width="54.00" height="7.90" fill="#c87577" stroke="none" stroke-width="0.6"/>
<rect x="468.80" y="533.10" width="49.30" height="8.20" fill="#c87577" stroke="none" stroke-width="0.6"/>
<line x1="468.80" y1="510.00" x2="468.80" y2="542.50" stroke="#444" stroke-width="0.5"/>
<line x1="468.80" y1="542.50" x2="532.70" y2="542.50" stroke="#444" stroke-width="0.5"/>
<line x1="466.80" y1="515.95" x2="468.80" y2="515.95" stroke="#444" stroke-width="0.5"/>
<line x1="466.80" y1="526.55" x2="468.80" y2="526.55" stroke="#444" stroke-width="0.5"/>
<line x1="466.80" y1="537.20" x2="468.80" y2="537.20" stroke="#444" stroke-width="0.5"/>
<line x1="501.50" y1="510.00" x2="501.50" y2="542.50" stroke="#e3262b" stroke-width="0.9" stroke-dasharray="2.4,1.4"/>
<line x1="468.80" y1="542.50" x2="468.80" y2="544.50" stroke="#444" stroke-width="0.5"/>
<text x="468.80" y="551.10" font-size="6.3" text-anchor="middle" fill="#222">0</text>
<line x1="486.65" y1="542.50" x2="486.65" y2="544.50" stroke="#444" stroke-width="0.5"/>
<text x="486.65" y="551.10" font-size="6.3" text-anchor="middle" fill="#222">2.5</text>
<line x1="504.50" y1="542.50" x2="504.50" y2="544.50" stroke="#444" stroke-width="0.5"/>
<text x="504.50" y="551.10" font-size="6.3" text-anchor="middle" fill="#222">5.0</text>
<line x1="522.35" y1="542.50" x2="522.35" y2="544.50" stroke="#444" stroke-width="0.5"/>
<text x="522.35" y="551.10" font-size="6.3" text-anchor="middle" fill="#222">7.5</text>
<text x="501.00" y="561.60" font-size="7.6" text-anchor="middle" fill="#222">–log<tspan font-size="4.6" dy="1.6">10</tspan><tspan dy="-1.6">(P value)</tspan></text>
<line x1="490.00" y1="507.70" x2="500.60" y2="507.70" stroke="#e3262b" stroke-width="0.9" stroke-dasharray="2.4,1.4"/>
<text x="504.30" y="509.90" font-size="6.0" text-anchor="start" fill="#222">FDR = 0.05</text>
<text x="464.40" y="517.80" font-size="6.3" text-anchor="end" fill="#222">Megakaryocyte development</text>
<text x="464.40" y="526.70" font-size="6.3" text-anchor="end" fill="#222">Positive regulation of platelet</text>
<text x="464.40" y="532.30" font-size="6.3" text-anchor="end" fill="#222">activation</text>
<text x="464.40" y="538.60" font-size="6.3" text-anchor="end" fill="#222">Protein activation cascade</text>
<rect x="468.90" y="601.40" width="39.10" height="16.00" fill="#7f7f7f" stroke="none" stroke-width="0.6"/>
<rect x="508.00" y="601.40" width="23.00" height="16.00" fill="#3f2a7e" stroke="none" stroke-width="0.6"/>
<rect x="531.00" y="601.40" width="1.60" height="16.00" fill="#f0d27a" stroke="none" stroke-width="0.6"/>
<line x1="468.90" y1="626.00" x2="532.90" y2="626.00" stroke="#444" stroke-width="0.5"/>
<line x1="468.90" y1="626.00" x2="468.90" y2="628.00" stroke="#444" stroke-width="0.5"/>
<text x="468.90" y="634.00" font-size="6.3" text-anchor="middle" fill="#222">0</text>
<line x1="484.90" y1="626.00" x2="484.90" y2="628.00" stroke="#444" stroke-width="0.5"/>
<text x="484.90" y="634.00" font-size="6.3" text-anchor="middle" fill="#222">0.25</text>
<line x1="500.90" y1="626.00" x2="500.90" y2="628.00" stroke="#444" stroke-width="0.5"/>
<text x="500.90" y="634.00" font-size="6.3" text-anchor="middle" fill="#222">0.50</text>
<line x1="516.90" y1="626.00" x2="516.90" y2="628.00" stroke="#444" stroke-width="0.5"/>
<text x="516.90" y="634.00" font-size="6.3" text-anchor="middle" fill="#222">0.75</text>
<line x1="532.90" y1="626.00" x2="532.90" y2="628.00" stroke="#444" stroke-width="0.5"/>
<text x="532.90" y="634.00" font-size="6.3" text-anchor="middle" fill="#222">1.00</text>
<text x="500.90" y="644.40" font-size="7.7" text-anchor="middle" fill="#222">Fraction of genes</text>
<polyline points="480.3,601.4 480.3,598.5 478.3,596.8 469.8,595.6" stroke="#333" stroke-width="0.45" fill="none"/>
<text x="466.20" y="596.00" font-size="6.0" text-anchor="start" fill="#222" transform="rotate(-45 466.20 596.00)">GP9</text>
<polyline points="498.8,601.4 498.8,598.6 496.9,597.0 486.5,595.8" stroke="#333" stroke-width="0.45" fill="none"/>
<text x="485.00" y="595.40" font-size="6.0" text-anchor="start" fill="#222" transform="rotate(-45 485.00 595.40)">ITGA2B</text>
<polyline points="509.2,601.4 509.2,597.7 508.6,595.8" stroke="#333" stroke-width="0.45" fill="none"/>
<text x="508.00" y="595.40" font-size="6.0" text-anchor="start" fill="#222" transform="rotate(-45 508.00 595.40)">SMANTIS</text>
<polyline points="516.8,601.4 516.8,596.5 516.3,595.5" stroke="#333" stroke-width="0.45" fill="none"/>
<text x="515.60" y="595.80" font-size="6.0" text-anchor="start" fill="#222" transform="rotate(-45 515.60 595.80)">LINC01750</text>
<polyline points="524.6,601.4 524.6,595.4" stroke="#333" stroke-width="0.45" fill="none"/>
<text x="523.80" y="595.40" font-size="6.0" text-anchor="start" fill="#222" transform="rotate(-45 523.80 595.40)">SMLR</text>
<rect x="576.00" y="514.60" width="110.00" height="75.80" fill="none" stroke="#444" stroke-width="0.6"/>
<rect x="576.50" y="558.90" width="6.00" height="17.90" fill="#286fa1" stroke="none" stroke-width="0.6"/>
<line x1="579.50" y1="590.40" x2="579.50" y2="592.40" stroke="#444" stroke-width="0.5"/>
<text x="580.10" y="596.00" font-size="6.4" text-anchor="end" fill="#222" transform="rotate(-45 580.10 596.00)">CD14<tspan font-size="5.0" dy="-2.5">+</tspan><tspan dy="2.5"> mono</tspan></text>
<rect x="583.72" y="575.40" width="6.00" height="1.40" fill="#aabfd9" stroke="none" stroke-width="0.6"/>
<line x1="586.72" y1="590.40" x2="586.72" y2="592.40" stroke="#444" stroke-width="0.5"/>
<text x="587.32" y="596.00" font-size="6.4" text-anchor="end" fill="#222" transform="rotate(-45 587.32 596.00)">CD4<tspan font-size="5.0" dy="-2.5">+</tspan><tspan dy="2.5"> T</tspan></text>
<rect x="590.94" y="576.80" width="6.00" height="2.80" fill="#e67e21" stroke="none" stroke-width="0.6"/>
<line x1="593.94" y1="590.40" x2="593.94" y2="592.40" stroke="#444" stroke-width="0.5"/>
<text x="594.54" y="596.00" font-size="6.4" text-anchor="end" fill="#222" transform="rotate(-45 594.54 596.00)">T naive</text>
<rect x="598.16" y="576.80" width="6.00" height="3.60" fill="#edb57f" stroke="none" stroke-width="0.6"/>
<line x1="601.16" y1="590.40" x2="601.16" y2="592.40" stroke="#444" stroke-width="0.5"/>
<text x="601.76" y="596.00" font-size="6.4" text-anchor="end" fill="#222" transform="rotate(-45 601.76 596.00)">CD8<tspan font-size="5.0" dy="-2.5">+</tspan><tspan dy="2.5"> T</tspan></text>
<rect x="605.38" y="576.80" width="6.00" height="5.90" fill="#349334" stroke="none" stroke-width="0.6"/>
<line x1="608.38" y1="590.40" x2="608.38" y2="592.40" stroke="#444" stroke-width="0.5"/>
<text x="608.98" y="596.00" font-size="6.4" text-anchor="end" fill="#222" transform="rotate(-45 608.98 596.00)">CD16<tspan font-size="5.0" dy="-2.5">+</tspan><tspan dy="2.5"> mono</tspan></text>
<rect x="612.60" y="576.80" width="6.00" height="5.70" fill="#98d28c" stroke="none" stroke-width="0.6"/>
<line x1="615.60" y1="590.40" x2="615.60" y2="592.40" stroke="#444" stroke-width="0.5"/>
<text x="616.20" y="596.00" font-size="6.4" text-anchor="end" fill="#222" transform="rotate(-45 616.20 596.00)">NK cell</text>
<rect x="619.82" y="576.80" width="6.00" height="6.40" fill="#bc2d2e" stroke="none" stroke-width="0.6"/>
<line x1="622.82" y1="590.40" x2="622.82" y2="592.40" stroke="#444" stroke-width="0.5"/>
<text x="623.42" y="596.00" font-size="6.4" text-anchor="end" fill="#222" transform="rotate(-45 623.42 596.00)">B naive</text>
<rect x="627.04" y="576.80" width="6.00" height="7.20" fill="#ea9695" stroke="none" stroke-width="0.6"/>
<line x1="630.04" y1="590.40" x2="630.04" y2="592.40" stroke="#444" stroke-width="0.5"/>
<text x="630.64" y="596.00" font-size="6.4" text-anchor="end" fill="#222" transform="rotate(-45 630.64 596.00)">B memory</text>
<rect x="634.26" y="576.80" width="6.00" height="5.20" fill="#8b66ac" stroke="none" stroke-width="0.6"/>
<line x1="637.26" y1="590.40" x2="637.26" y2="592.40" stroke="#444" stroke-width="0.5"/>
<text x="637.86" y="596.00" font-size="6.4" text-anchor="end" fill="#222" transform="rotate(-45 637.86 596.00)">Basophil</text>
<rect x="641.48" y="576.80" width="6.00" height="8.10" fill="#bcaac9" stroke="none" stroke-width="0.6"/>
<line x1="644.48" y1="590.40" x2="644.48" y2="592.40" stroke="#444" stroke-width="0.5"/>
<text x="645.08" y="596.00" font-size="6.4" text-anchor="end" fill="#222" transform="rotate(-45 645.08 596.00)">NKT</text>
<rect x="648.70" y="576.80" width="6.00" height="8.80" fill="#81554c" stroke="none" stroke-width="0.6"/>
<line x1="651.70" y1="590.40" x2="651.70" y2="592.40" stroke="#444" stroke-width="0.5"/>
<text x="652.30" y="596.00" font-size="6.4" text-anchor="end" fill="#222" transform="rotate(-45 652.30 596.00)">cDC2</text>
<rect x="655.92" y="576.80" width="6.00" height="8.80" fill="#b89791" stroke="none" stroke-width="0.6"/>
<line x1="658.92" y1="590.40" x2="658.92" y2="592.40" stroke="#444" stroke-width="0.5"/>
<text x="659.52" y="596.00" font-size="6.4" text-anchor="end" fill="#222" transform="rotate(-45 659.52 596.00)">pDC</text>
<rect x="663.14" y="518.10" width="6.00" height="58.70" fill="#d078b5" stroke="none" stroke-width="0.6"/>
<line x1="666.14" y1="590.40" x2="666.14" y2="592.40" stroke="#444" stroke-width="0.5"/>
<text x="666.74" y="596.00" font-size="6.4" text-anchor="end" fill="#222" transform="rotate(-45 666.74 596.00)">Platelet</text>
<rect x="670.36" y="576.80" width="6.00" height="10.00" fill="#e7b2c9" stroke="none" stroke-width="0.6"/>
<line x1="673.36" y1="590.40" x2="673.36" y2="592.40" stroke="#444" stroke-width="0.5"/>
<text x="673.96" y="596.00" font-size="6.4" text-anchor="end" fill="#222" transform="rotate(-45 673.96 596.00)">Plasmablast</text>
<rect x="677.58" y="576.80" width="6.00" height="8.80" fill="#7a7a7a" stroke="none" stroke-width="0.6"/>
<line x1="680.58" y1="590.40" x2="680.58" y2="592.40" stroke="#444" stroke-width="0.5"/>
<text x="681.18" y="596.00" font-size="6.4" text-anchor="end" fill="#222" transform="rotate(-45 681.18 596.00)">Proerythroblast</text>
<line x1="574.00" y1="525.30" x2="576.00" y2="525.30" stroke="#444" stroke-width="0.5"/>
<text x="572.40" y="527.50" font-size="6.4" text-anchor="end" fill="#222">600</text>
<line x1="574.00" y1="542.40" x2="576.00" y2="542.40" stroke="#444" stroke-width="0.5"/>
<text x="572.40" y="544.60" font-size="6.4" text-anchor="end" fill="#222">400</text>
<line x1="574.00" y1="559.60" x2="576.00" y2="559.60" stroke="#444" stroke-width="0.5"/>
<text x="572.40" y="561.80" font-size="6.4" text-anchor="end" fill="#222">200</text>
<line x1="574.00" y1="576.80" x2="576.00" y2="576.80" stroke="#444" stroke-width="0.5"/>
<text x="572.40" y="579.00" font-size="6.4" text-anchor="end" fill="#222">0</text>
<text x="630.10" y="512.20" font-size="7.7" text-anchor="middle" fill="#222">Module 7</text>
<text x="555.00" y="552.20" font-size="7.6" text-anchor="middle" fill="#222" transform="rotate(-90 555.00 552.20)">Eigengene</text>
</svg></body></html>
